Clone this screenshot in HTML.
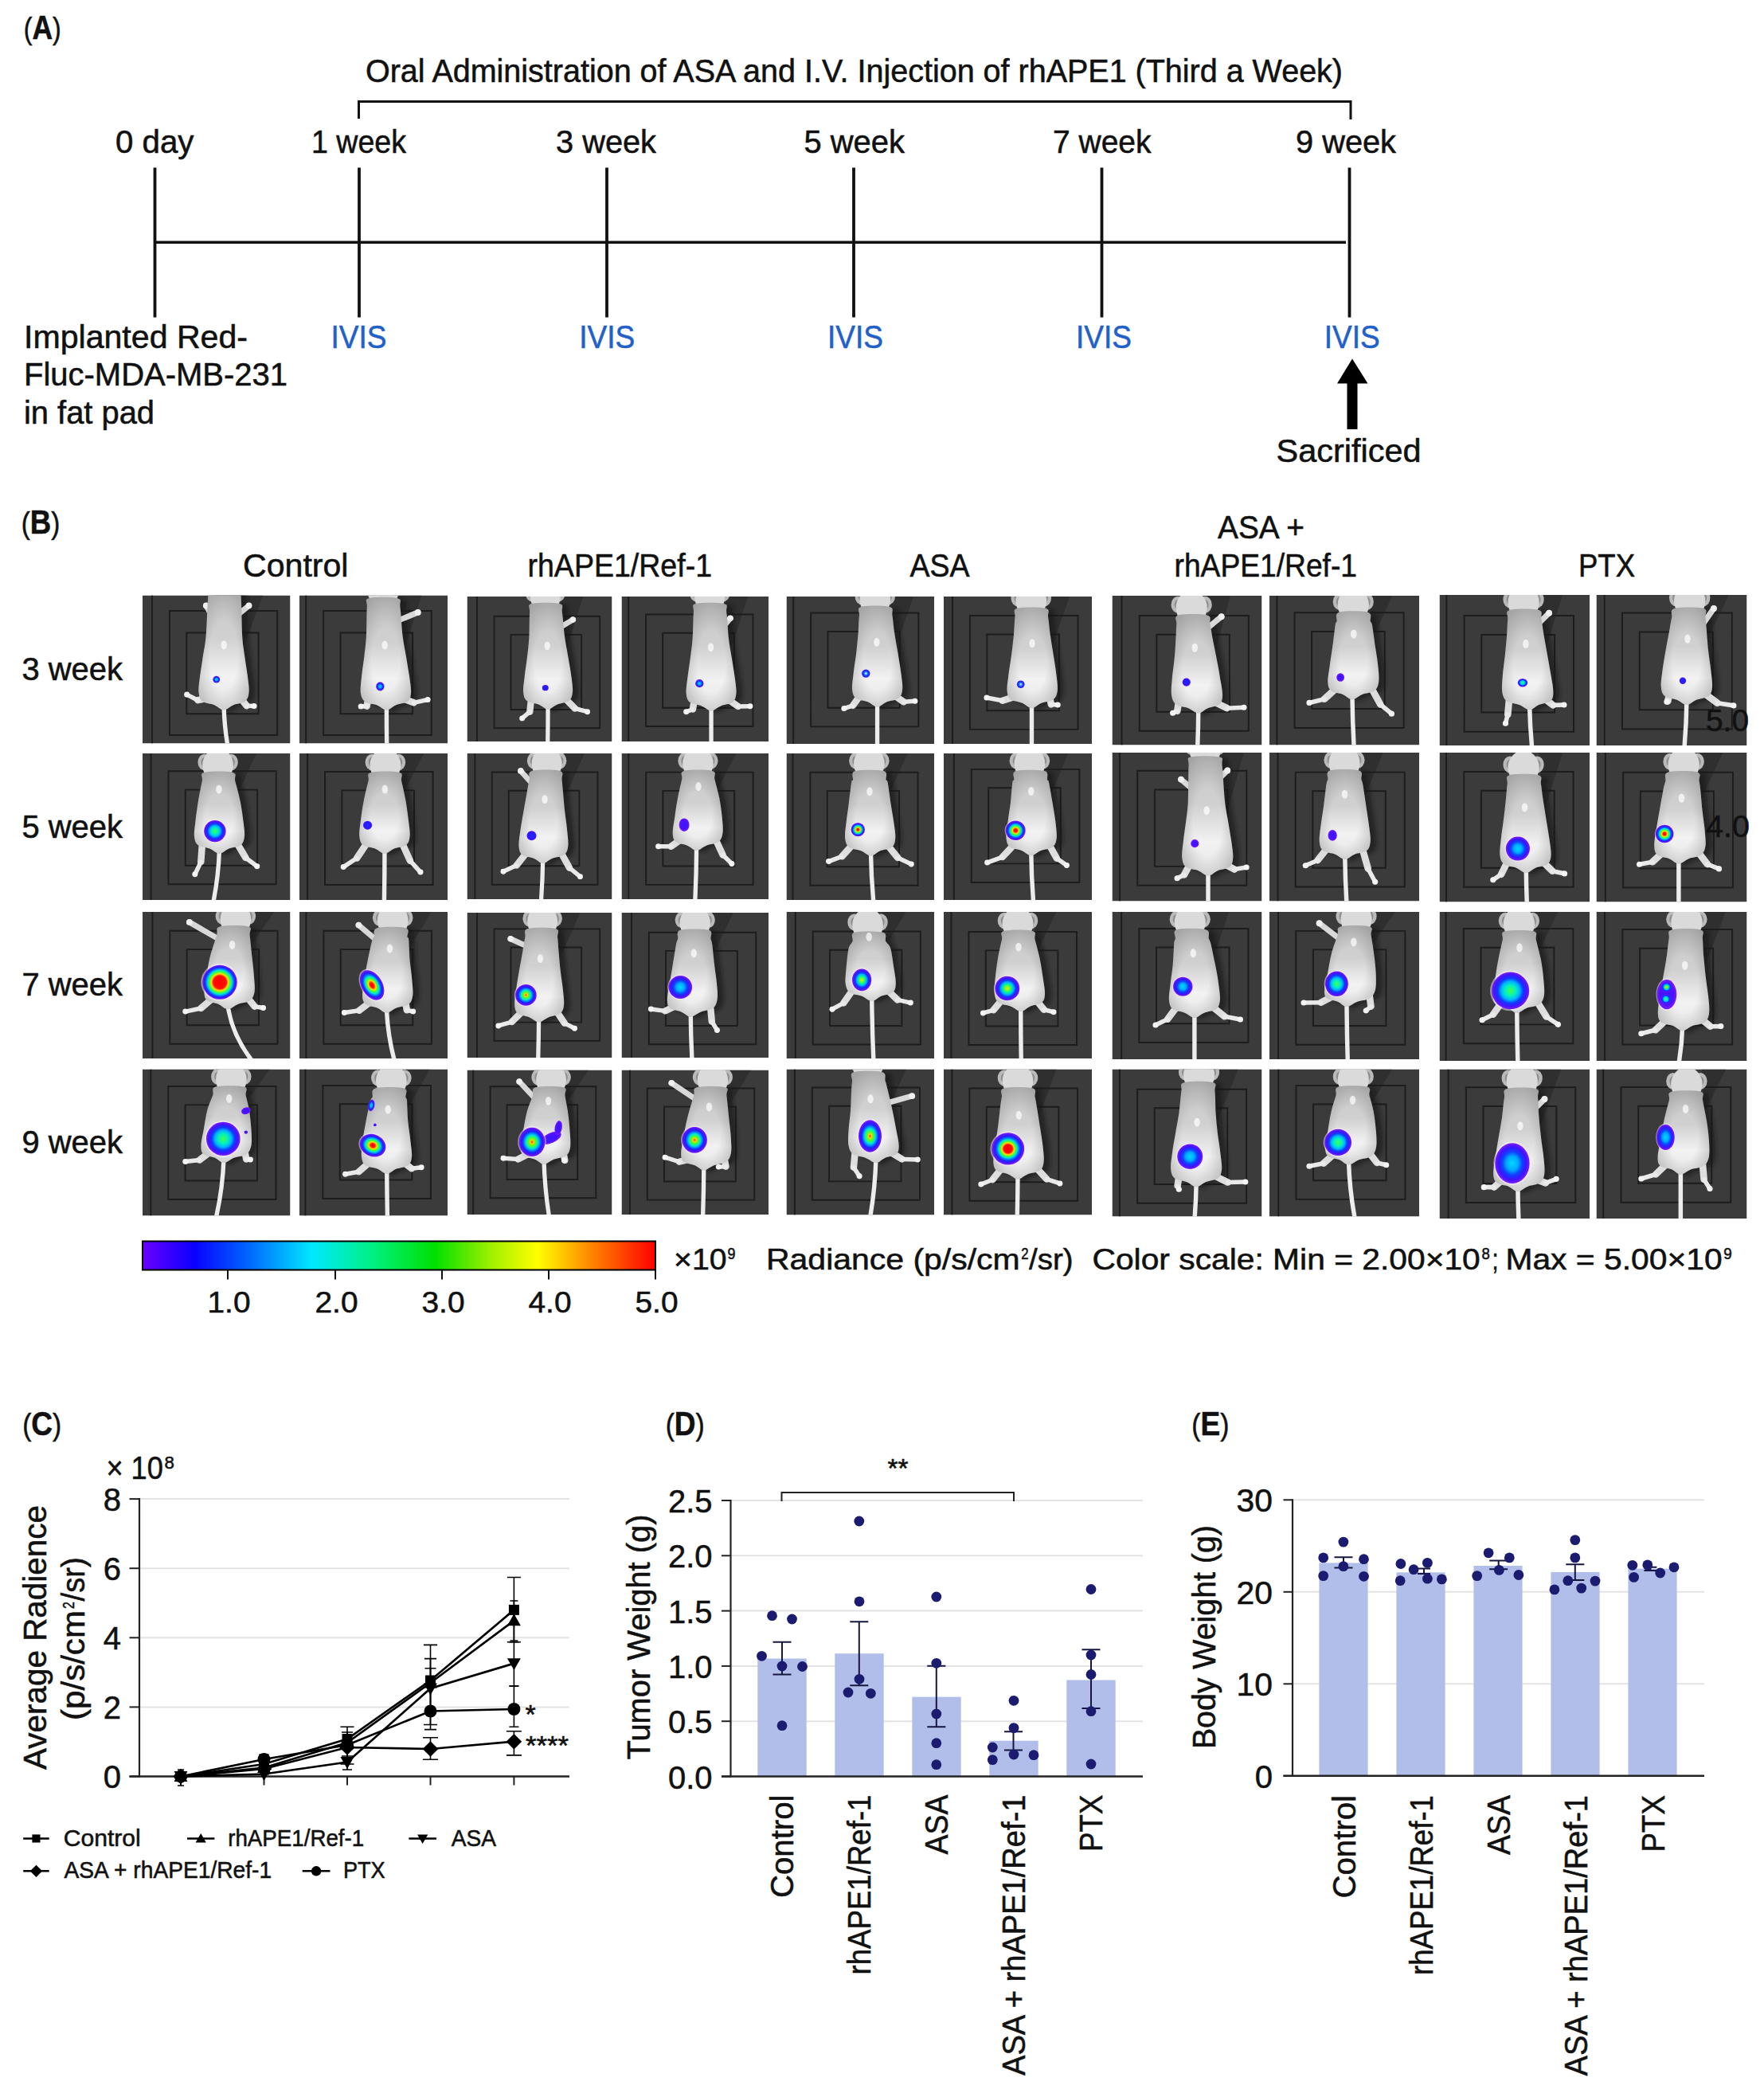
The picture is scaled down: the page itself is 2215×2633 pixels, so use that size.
<!DOCTYPE html><html><head><meta charset="utf-8"><title>Figure</title>
<style>html,body{margin:0;padding:0;background:#fff}svg{display:block}text{font-family:"Liberation Sans",sans-serif;stroke-width:.55px}.t{stroke:#111}</style></head><body>
<svg width="2215" height="2633" viewBox="0 0 2215 2633" fill="#111"><g stroke="none">
<defs><radialGradient id="L1"><stop offset="0" stop-color="#1c2cff"/><stop offset="0.65" stop-color="#2418ff"/><stop offset="1" stop-color="#5a14ff"/></radialGradient><radialGradient id="L1p"><stop offset="0" stop-color="#3a14ff"/><stop offset="0.7" stop-color="#4c12ff"/><stop offset="1" stop-color="#7a1cff"/></radialGradient><radialGradient id="L2"><stop offset="0" stop-color="#00d8ff"/><stop offset="0.35" stop-color="#00a8ff"/><stop offset="0.58" stop-color="#1040ff"/><stop offset="0.8" stop-color="#3a14ff"/><stop offset="1" stop-color="#7a1cff"/></radialGradient><radialGradient id="L2r"><stop offset="0" stop-color="#e8f4ff"/><stop offset="0.3" stop-color="#40b0ff"/><stop offset="0.55" stop-color="#1040ff"/><stop offset="1" stop-color="#3a14ff"/></radialGradient><radialGradient id="L3"><stop offset="0" stop-color="#40ff50"/><stop offset="0.3" stop-color="#00f0c0"/><stop offset="0.5" stop-color="#00b0ff"/><stop offset="0.68" stop-color="#1038ff"/><stop offset="0.86" stop-color="#4414ff"/><stop offset="1" stop-color="#7a1cff"/></radialGradient><radialGradient id="L4"><stop offset="0" stop-color="#ffe000"/><stop offset="0.15" stop-color="#80ff20"/><stop offset="0.36" stop-color="#00f0a0"/><stop offset="0.52" stop-color="#00b0ff"/><stop offset="0.68" stop-color="#1038ff"/><stop offset="0.86" stop-color="#4414ff"/><stop offset="1" stop-color="#7a1cff"/></radialGradient><radialGradient id="L5"><stop offset="0" stop-color="#ff2000"/><stop offset="0.12" stop-color="#ffd000"/><stop offset="0.28" stop-color="#50ff20"/><stop offset="0.46" stop-color="#00e8d0"/><stop offset="0.6" stop-color="#0088ff"/><stop offset="0.74" stop-color="#2020ff"/><stop offset="0.88" stop-color="#4c14ff"/><stop offset="1" stop-color="#7a1cff"/></radialGradient><radialGradient id="L6"><stop offset="0" stop-color="#ff0000"/><stop offset="0.18" stop-color="#ff2000"/><stop offset="0.31" stop-color="#ffe000"/><stop offset="0.44" stop-color="#40ff30"/><stop offset="0.57" stop-color="#00e8d0"/><stop offset="0.69" stop-color="#0078ff"/><stop offset="0.82" stop-color="#2a18ff"/><stop offset="1" stop-color="#7a1cff"/></radialGradient><radialGradient id="L7b"><stop offset="0" stop-color="#ff0000"/><stop offset="0.27" stop-color="#ff1000"/><stop offset="0.37" stop-color="#ffe000"/><stop offset="0.47" stop-color="#40ff30"/><stop offset="0.57" stop-color="#00e8d0"/><stop offset="0.67" stop-color="#0078ff"/><stop offset="0.8" stop-color="#2a18ff"/><stop offset="1" stop-color="#7a1cff"/></radialGradient><radialGradient id="L7"><stop offset="0" stop-color="#ff0000"/><stop offset="0.38" stop-color="#ff1000"/><stop offset="0.49" stop-color="#ffe000"/><stop offset="0.6" stop-color="#40ff30"/><stop offset="0.7" stop-color="#00e8d0"/><stop offset="0.79" stop-color="#0078ff"/><stop offset="0.89" stop-color="#2a18ff"/><stop offset="1" stop-color="#7a1cff"/></radialGradient><linearGradient id="body" x1="0" y1="0" x2="0" y2="1"><stop offset="0" stop-color="#cbcbcb"/><stop offset="0.4" stop-color="#d0d0d0"/><stop offset="0.72" stop-color="#f2f2f2"/><stop offset="1" stop-color="#e6e6e6"/></linearGradient><radialGradient id="edge" cx="0.5" cy="0.55" r="0.62"><stop offset="0.45" stop-color="#000" stop-opacity="0"/><stop offset="1" stop-color="#000" stop-opacity=".2"/></radialGradient><filter id="blur" x="-20%" y="-20%" width="140%" height="140%"><feGaussianBlur stdDeviation="1.3"/></filter><linearGradient id="cbar" x1="0" x2="1" y1="0" y2="0"><stop offset="0" stop-color="#6a00ff"/><stop offset="0.1" stop-color="#0a00ff"/><stop offset="0.2" stop-color="#0060ff"/><stop offset="0.33" stop-color="#00e8ff"/><stop offset="0.45" stop-color="#00f080"/><stop offset="0.57" stop-color="#00e000"/><stop offset="0.68" stop-color="#a0f000"/><stop offset="0.77" stop-color="#ffff00"/><stop offset="0.88" stop-color="#ff8000"/><stop offset="1" stop-color="#ff0000"/></linearGradient></defs>
<rect width="2215" height="2633" fill="#fff"/>
<text x="29.8" y="49.3" font-size="38" class="t" textLength="47" lengthAdjust="spacingAndGlyphs">(<tspan font-weight="bold" font-size="42">A</tspan>)</text>
<text x="459" y="102.5" font-size="40" class="t" textLength="1227" lengthAdjust="spacingAndGlyphs">Oral Administration of ASA and I.V. Injection of rhAPE1 (Third a Week)</text>
<path d="M450.5,149 V127.5 H1696 V150" stroke="#111" stroke-width="3" fill="none"/>
<line x1="194.5" y1="210.5" x2="194.5" y2="398.5" stroke="#111" stroke-width="3.8"/>
<line x1="451" y1="210.5" x2="451" y2="398.5" stroke="#111" stroke-width="3.8"/>
<line x1="762" y1="210.5" x2="762" y2="398.5" stroke="#111" stroke-width="3.8"/>
<line x1="1072" y1="210.5" x2="1072" y2="398.5" stroke="#111" stroke-width="3.8"/>
<line x1="1383.5" y1="210.5" x2="1383.5" y2="398.5" stroke="#111" stroke-width="3.8"/>
<line x1="1694.5" y1="210.5" x2="1694.5" y2="398.5" stroke="#111" stroke-width="3.8"/>
<line x1="193" y1="304.3" x2="1690" y2="304.3" stroke="#111" stroke-width="3.5"/>
<text x="145" y="192" font-size="40" class="t" textLength="98.5" lengthAdjust="spacingAndGlyphs">0 day</text>
<text x="391" y="192" font-size="40" class="t" textLength="119" lengthAdjust="spacingAndGlyphs">1 week</text>
<text x="698" y="192" font-size="40" class="t" textLength="126" lengthAdjust="spacingAndGlyphs">3 week</text>
<text x="1009.5" y="192" font-size="40" class="t" textLength="126.5" lengthAdjust="spacingAndGlyphs">5 week</text>
<text x="1322" y="192" font-size="40" class="t" textLength="123.5" lengthAdjust="spacingAndGlyphs">7 week</text>
<text x="1627" y="192" font-size="40" class="t" textLength="126" lengthAdjust="spacingAndGlyphs">9 week</text>
<text x="450.5" y="437" font-size="40" text-anchor="middle" fill="#1f60c9" stroke="#1f60c9" textLength="70" lengthAdjust="spacingAndGlyphs">IVIS</text>
<text x="762.2" y="437" font-size="40" text-anchor="middle" fill="#1f60c9" stroke="#1f60c9" textLength="70" lengthAdjust="spacingAndGlyphs">IVIS</text>
<text x="1074" y="437" font-size="40" text-anchor="middle" fill="#1f60c9" stroke="#1f60c9" textLength="70" lengthAdjust="spacingAndGlyphs">IVIS</text>
<text x="1386" y="437" font-size="40" text-anchor="middle" fill="#1f60c9" stroke="#1f60c9" textLength="70" lengthAdjust="spacingAndGlyphs">IVIS</text>
<text x="1697.7" y="437" font-size="40" text-anchor="middle" fill="#1f60c9" stroke="#1f60c9" textLength="70" lengthAdjust="spacingAndGlyphs">IVIS</text>
<text x="30" y="436.5" font-size="40" class="t" textLength="281" lengthAdjust="spacingAndGlyphs">Implanted Red-</text>
<text x="30" y="484" font-size="40" class="t" textLength="331" lengthAdjust="spacingAndGlyphs">Fluc-MDA-MB-231</text>
<text x="30" y="531.5" font-size="40" class="t" textLength="164" lengthAdjust="spacingAndGlyphs">in fat pad</text>
<polygon points="1698,450.5 1717.5,481.5 1704.5,481.5 1704.5,539 1691.5,539 1691.5,481.5 1679,481.5" fill="#000"/>
<text x="1602.5" y="580" font-size="40" class="t" textLength="182" lengthAdjust="spacingAndGlyphs">Sacrificed</text>
<text x="26.8" y="669.5" font-size="38" class="t" textLength="48.5" lengthAdjust="spacingAndGlyphs">(<tspan font-weight="bold" font-size="42">B</tspan>)</text>
<text x="305" y="723.5" font-size="40" class="t" textLength="132.5" lengthAdjust="spacingAndGlyphs">Control</text>
<text x="662.5" y="723.5" font-size="40" class="t" textLength="231.5" lengthAdjust="spacingAndGlyphs">rhAPE1/Ref-1</text>
<text x="1142.5" y="723.5" font-size="40" class="t" textLength="75" lengthAdjust="spacingAndGlyphs">ASA</text>
<text x="1529" y="676" font-size="40" class="t" textLength="109" lengthAdjust="spacingAndGlyphs">ASA +</text>
<text x="1474.5" y="723.5" font-size="40" class="t" textLength="229.5" lengthAdjust="spacingAndGlyphs">rhAPE1/Ref-1</text>
<text x="1982" y="723.5" font-size="40" class="t" textLength="71" lengthAdjust="spacingAndGlyphs">PTX</text>
<text x="27.5" y="854" font-size="40" class="t" textLength="126.5" lengthAdjust="spacingAndGlyphs">3 week</text>
<text x="27.5" y="1051.5" font-size="40" class="t" textLength="126.5" lengthAdjust="spacingAndGlyphs">5 week</text>
<text x="27.5" y="1250" font-size="40" class="t" textLength="126.5" lengthAdjust="spacingAndGlyphs">7 week</text>
<text x="27.5" y="1448" font-size="40" class="t" textLength="126.5" lengthAdjust="spacingAndGlyphs">9 week</text>
<svg x="179" y="747.5" width="185.5" height="186.0" viewBox="0 0 100 100" preserveAspectRatio="none"><rect width="100" height="100" fill="#3b3b3b"/><path d="M65.5,0 L81.5,0 L68.0,35.5 Z" fill="#262626" opacity=".55"/><path d="M6.5,0 V100 M18.3,10.5 H91.2 V94.4 H18.3 Z M29.8,25.3 H78.5 V80.0 H29.8 Z" stroke="#1d1d1d" stroke-width="1.05" fill="none"/><path d="M50.1,-3.0 C46.6,-2.0 49.0,-2.2 48.5,3.0 C48.0,8.2 47.7,21.9 47.1,28.5 C46.5,35.1 45.7,38.0 45.0,42.5 C44.4,47.0 43.6,51.5 43.1,55.5 C42.6,59.5 41.9,63.7 42.2,66.5 C42.5,69.3 43.0,71.1 44.7,72.5 C46.5,73.9 50.5,74.1 52.7,75.0 C54.9,75.9 56.5,77.6 57.8,78.1 C59.1,78.6 59.3,78.6 60.6,78.1 C61.9,77.6 63.5,75.9 65.7,75.0 C67.9,74.1 72.0,73.9 73.7,72.5 C75.5,71.1 75.9,69.3 76.2,66.5 C76.5,63.7 75.8,59.5 75.3,55.5 C74.8,51.5 74.0,47.0 73.4,42.5 C72.8,38.0 72.1,35.1 71.7,28.5 C71.3,21.9 71.3,8.2 70.9,3.0 C70.5,-2.2 72.8,-2.0 69.3,-3.0 C65.8,-4.0 53.6,-4.0 50.1,-3.0Z" fill="#121212" opacity=".6" filter="url(#blur)"/><path d="M55.0,74.5 Q55.4,88.8 57.7,102.0" stroke="#ededed" stroke-width="2.9" fill="none"/><path d="M43.5,69.5 L37.4,70.8" stroke="#dedede" stroke-width="4.6" stroke-linecap="round" fill="none"/><path d="M37.4,70.8 L30.0,67.0" stroke="#e9e9e9" stroke-width="3" stroke-linecap="round" fill="none"/><circle cx="30.0" cy="67.0" r="1.9" fill="#f4f4f4"/><path d="M66.5,69.5 L70.5,74.6" stroke="#dedede" stroke-width="4.6" stroke-linecap="round" fill="none"/><path d="M70.5,74.6 L75.5,74.7" stroke="#e9e9e9" stroke-width="3" stroke-linecap="round" fill="none"/><circle cx="75.5" cy="74.7" r="1.9" fill="#f4f4f4"/><path d="M46.5,13.0 L43.0,7.0" stroke="#d8d8d8" stroke-width="3.8" stroke-linecap="round" fill="none"/><circle cx="43.0" cy="7.0" r="2.1" fill="#f0f0f0"/><path d="M64.5,13.0 L72.0,7.0" stroke="#d8d8d8" stroke-width="3.8" stroke-linecap="round" fill="none"/><circle cx="72.0" cy="7.0" r="2.1" fill="#f0f0f0"/><path d="M45.9,-4.0 C42.4,-3.0 44.8,-3.2 44.3,2.0 C43.8,7.2 43.5,20.9 42.9,27.5 C42.3,34.1 41.5,37.0 40.8,41.5 C40.2,46.0 39.4,50.5 38.9,54.5 C38.4,58.5 37.7,62.7 38.0,65.5 C38.3,68.3 38.8,70.1 40.5,71.5 C42.2,72.9 46.3,73.1 48.5,74.0 C50.7,74.9 52.3,76.6 53.6,77.1 C54.9,77.6 55.1,77.6 56.4,77.1 C57.7,76.6 59.3,74.9 61.5,74.0 C63.7,73.1 67.8,72.9 69.5,71.5 C71.2,70.1 71.7,68.3 72.0,65.5 C72.3,62.7 71.6,58.5 71.1,54.5 C70.6,50.5 69.8,46.0 69.2,41.5 C68.6,37.0 67.9,34.1 67.5,27.5 C67.1,20.9 67.1,7.2 66.7,2.0 C66.3,-3.2 68.6,-3.0 65.1,-4.0 C61.6,-5.0 49.4,-5.0 45.9,-4.0Z" fill="url(#body)"/><path d="M45.9,-4.0 C42.4,-3.0 44.8,-3.2 44.3,2.0 C43.8,7.2 43.5,20.9 42.9,27.5 C42.3,34.1 41.5,37.0 40.8,41.5 C40.2,46.0 39.4,50.5 38.9,54.5 C38.4,58.5 37.7,62.7 38.0,65.5 C38.3,68.3 38.8,70.1 40.5,71.5 C42.2,72.9 46.3,73.1 48.5,74.0 C50.7,74.9 52.3,76.6 53.6,77.1 C54.9,77.6 55.1,77.6 56.4,77.1 C57.7,76.6 59.3,74.9 61.5,74.0 C63.7,73.1 67.8,72.9 69.5,71.5 C71.2,70.1 71.7,68.3 72.0,65.5 C72.3,62.7 71.6,58.5 71.1,54.5 C70.6,50.5 69.8,46.0 69.2,41.5 C68.6,37.0 67.9,34.1 67.5,27.5 C67.1,20.9 67.1,7.2 66.7,2.0 C66.3,-3.2 68.6,-3.0 65.1,-4.0 C61.6,-5.0 49.4,-5.0 45.9,-4.0Z" fill="url(#edge)"/><ellipse cx="55.1" cy="33.5" rx="2" ry="3" fill="#fff" opacity=".7"/><ellipse cx="50.0" cy="56.8" rx="2.4" ry="2.4" fill="url(#L2)"/></svg>
<svg x="179" y="946" width="185.5" height="184" viewBox="0 0 100 100" preserveAspectRatio="none"><rect width="100" height="100" fill="#3b3b3b"/><path d="M61.0,0 L77.0,0 L65.0,26.5 Z" fill="#262626" opacity=".55"/><path d="M5.7,0 V100 M17.5,12.1 H90.4 V89.3 H17.5 Z M29.0,24.8 H77.7 V76.5 H29.0 Z" stroke="#1d1d1d" stroke-width="1.05" fill="none"/><path d="M46.0,14.0 C42.5,15.0 45.2,16.8 44.5,20.0 C43.8,23.2 42.6,29.1 41.9,33.5 C41.2,37.9 40.5,42.5 40.1,46.5 C39.7,50.5 38.9,54.7 39.2,57.5 C39.5,60.3 40.0,62.1 41.7,63.5 C43.5,64.9 47.5,65.1 49.7,66.0 C51.9,66.9 53.5,68.6 54.8,69.1 C56.1,69.6 56.3,69.6 57.6,69.1 C58.9,68.6 60.5,66.9 62.7,66.0 C64.9,65.1 69.0,64.9 70.7,63.5 C72.5,62.1 72.9,60.3 73.2,57.5 C73.5,54.7 72.8,50.5 72.3,46.5 C71.8,42.5 71.2,37.9 70.3,33.5 C69.4,29.1 67.8,23.2 66.9,20.0 C66.1,16.8 68.7,15.0 65.2,14.0 C61.7,13.0 49.4,13.0 46.0,14.0Z" fill="#121212" opacity=".6" filter="url(#blur)"/><path d="M52.0,65.5 Q51.4,84.2 47.8,102.0" stroke="#ededed" stroke-width="2.9" fill="none"/><path d="M40.5,60.5 L39.5,74.0" stroke="#dedede" stroke-width="4.6" stroke-linecap="round" fill="none"/><path d="M39.5,74.0 L35.5,82.5" stroke="#e9e9e9" stroke-width="3" stroke-linecap="round" fill="none"/><circle cx="35.5" cy="82.5" r="1.9" fill="#f4f4f4"/><path d="M63.5,60.5 L69.8,71.2" stroke="#dedede" stroke-width="4.6" stroke-linecap="round" fill="none"/><path d="M69.8,71.2 L77.5,77.0" stroke="#e9e9e9" stroke-width="3" stroke-linecap="round" fill="none"/><circle cx="77.5" cy="77.0" r="1.9" fill="#f4f4f4"/><ellipse cx="42.0" cy="6.0" rx="4.6" ry="5.6" fill="#bababa"/><ellipse cx="60.0" cy="6.0" rx="4.6" ry="5.6" fill="#bababa"/><ellipse cx="42.0" cy="6.0" rx="2.4" ry="3.4" fill="#8e8e8e"/><ellipse cx="60.0" cy="6.0" rx="2.4" ry="3.4" fill="#8e8e8e"/><ellipse cx="51.0" cy="8.0" rx="10.4" ry="11.4" fill="#dadada"/><path d="M41.8,13.0 C38.3,14.0 41.0,15.8 40.3,19.0 C39.6,22.2 38.4,28.1 37.7,32.5 C37.0,36.9 36.3,41.5 35.9,45.5 C35.5,49.5 34.7,53.7 35.0,56.5 C35.3,59.3 35.8,61.1 37.5,62.5 C39.2,63.9 43.3,64.1 45.5,65.0 C47.7,65.9 49.3,67.6 50.6,68.1 C51.9,68.6 52.1,68.6 53.4,68.1 C54.7,67.6 56.3,65.9 58.5,65.0 C60.7,64.1 64.8,63.9 66.5,62.5 C68.2,61.1 68.7,59.3 69.0,56.5 C69.3,53.7 68.6,49.5 68.1,45.5 C67.6,41.5 67.0,36.9 66.1,32.5 C65.2,28.1 63.6,22.2 62.7,19.0 C61.9,15.8 64.5,14.0 61.0,13.0 C57.5,12.0 45.2,12.0 41.8,13.0Z" fill="url(#body)"/><path d="M41.8,13.0 C38.3,14.0 41.0,15.8 40.3,19.0 C39.6,22.2 38.4,28.1 37.7,32.5 C37.0,36.9 36.3,41.5 35.9,45.5 C35.5,49.5 34.7,53.7 35.0,56.5 C35.3,59.3 35.8,61.1 37.5,62.5 C39.2,63.9 43.3,64.1 45.5,65.0 C47.7,65.9 49.3,67.6 50.6,68.1 C51.9,68.6 52.1,68.6 53.4,68.1 C54.7,67.6 56.3,65.9 58.5,65.0 C60.7,64.1 64.8,63.9 66.5,62.5 C68.2,61.1 68.7,59.3 69.0,56.5 C69.3,53.7 68.6,49.5 68.1,45.5 C67.6,41.5 67.0,36.9 66.1,32.5 C65.2,28.1 63.6,22.2 62.7,19.0 C61.9,15.8 64.5,14.0 61.0,13.0 C57.5,12.0 45.2,12.0 41.8,13.0Z" fill="url(#edge)"/><ellipse cx="51.7" cy="24.5" rx="2" ry="3" fill="#fff" opacity=".7"/><ellipse cx="49.0" cy="53.0" rx="8.1" ry="8.1" fill="#fbeeff" opacity=".5"/><ellipse cx="49.0" cy="53.0" rx="7.4" ry="7.4" fill="url(#L3)"/></svg>
<svg x="179" y="1145" width="185.5" height="184" viewBox="0 0 100 100" preserveAspectRatio="none"><rect width="100" height="100" fill="#3b3b3b"/><path d="M73.0,0 L89.0,0 L72.5,24.5 Z" fill="#262626" opacity=".55"/><path d="M6.7,0 V100 M18.5,12.9 H91.4 V90.1 H18.5 Z M30.0,25.6 H78.7 V77.3 H30.0 Z" stroke="#1d1d1d" stroke-width="1.05" fill="none"/><path d="M56.6,11.0 C53.0,12.0 55.5,13.6 54.4,17.0 C53.3,20.4 51.1,26.9 49.9,31.5 C48.8,36.1 48.1,40.5 47.4,44.5 C46.8,48.5 45.9,52.7 46.0,55.5 C46.0,58.3 46.3,60.1 47.9,61.5 C49.6,62.9 53.6,63.1 55.7,64.0 C57.8,64.9 59.2,66.6 60.5,67.1 C61.8,67.6 61.9,67.6 63.3,67.1 C64.7,66.6 66.4,64.9 68.7,64.0 C71.0,63.1 75.1,62.9 76.9,61.5 C78.8,60.1 79.5,58.3 80.0,55.5 C80.4,52.7 79.9,48.5 79.6,44.5 C79.4,40.5 78.8,36.1 78.3,31.5 C77.8,26.9 77.2,20.4 76.8,17.0 C76.4,13.6 79.2,12.0 75.8,11.0 C72.4,10.0 60.2,10.0 56.6,11.0Z" fill="#121212" opacity=".6" filter="url(#blur)"/><path d="M57.7,63.5 Q60.1,82.8 73.7,101.0" stroke="#ededed" stroke-width="2.9" fill="none"/><path d="M48.0,58.5 L39.5,65.8" stroke="#dedede" stroke-width="4.6" stroke-linecap="round" fill="none"/><path d="M39.5,65.8 L29.0,68.0" stroke="#e9e9e9" stroke-width="3" stroke-linecap="round" fill="none"/><circle cx="29.0" cy="68.0" r="1.9" fill="#f4f4f4"/><path d="M71.0,58.5 L75.8,64.5" stroke="#dedede" stroke-width="4.6" stroke-linecap="round" fill="none"/><path d="M75.8,64.5 L81.7,65.5" stroke="#e9e9e9" stroke-width="3" stroke-linecap="round" fill="none"/><circle cx="81.7" cy="65.5" r="1.9" fill="#f4f4f4"/><path d="M54.0,20.0 L31.7,7.0" stroke="#d8d8d8" stroke-width="3.8" stroke-linecap="round" fill="none"/><circle cx="31.7" cy="7.0" r="2.1" fill="#f0f0f0"/><ellipse cx="54.0" cy="3.0" rx="4.6" ry="5.6" fill="#bababa"/><ellipse cx="72.0" cy="3.0" rx="4.6" ry="5.6" fill="#bababa"/><ellipse cx="54.0" cy="3.0" rx="2.4" ry="3.4" fill="#8e8e8e"/><ellipse cx="72.0" cy="3.0" rx="2.4" ry="3.4" fill="#8e8e8e"/><ellipse cx="63.0" cy="5.0" rx="10.4" ry="11.4" fill="#dadada"/><path d="M52.4,10.0 C48.8,11.0 51.3,12.6 50.2,16.0 C49.1,19.4 46.9,25.9 45.7,30.5 C44.6,35.1 43.9,39.5 43.2,43.5 C42.6,47.5 41.7,51.7 41.8,54.5 C41.8,57.3 42.1,59.1 43.7,60.5 C45.4,61.9 49.4,62.1 51.5,63.0 C53.6,63.9 55.0,65.6 56.3,66.1 C57.6,66.6 57.7,66.6 59.1,66.1 C60.5,65.6 62.2,63.9 64.5,63.0 C66.8,62.1 70.9,61.9 72.7,60.5 C74.6,59.1 75.3,57.3 75.8,54.5 C76.2,51.7 75.7,47.5 75.4,43.5 C75.2,39.5 74.6,35.1 74.1,30.5 C73.6,25.9 73.0,19.4 72.6,16.0 C72.2,12.6 75.0,11.0 71.6,10.0 C68.2,9.0 56.0,9.0 52.4,10.0Z" fill="url(#body)"/><path d="M52.4,10.0 C48.8,11.0 51.3,12.6 50.2,16.0 C49.1,19.4 46.9,25.9 45.7,30.5 C44.6,35.1 43.9,39.5 43.2,43.5 C42.6,47.5 41.7,51.7 41.8,54.5 C41.8,57.3 42.1,59.1 43.7,60.5 C45.4,61.9 49.4,62.1 51.5,63.0 C53.6,63.9 55.0,65.6 56.3,66.1 C57.6,66.6 57.7,66.6 59.1,66.1 C60.5,65.6 62.2,63.9 64.5,63.0 C66.8,62.1 70.9,61.9 72.7,60.5 C74.6,59.1 75.3,57.3 75.8,54.5 C76.2,51.7 75.7,47.5 75.4,43.5 C75.2,39.5 74.6,35.1 74.1,30.5 C73.6,25.9 73.0,19.4 72.6,16.0 C72.2,12.6 75.0,11.0 71.6,10.0 C68.2,9.0 56.0,9.0 52.4,10.0Z" fill="url(#edge)"/><ellipse cx="60.7" cy="22.5" rx="2" ry="3" fill="#fff" opacity=".7"/><ellipse cx="52.3" cy="48.0" rx="12.8" ry="12.8" fill="#fbeeff" opacity=".5"/><ellipse cx="52.3" cy="48.0" rx="11.7" ry="11.7" fill="url(#L7)"/></svg>
<svg x="179" y="1342.5" width="185.5" height="184.0" viewBox="0 0 100 100" preserveAspectRatio="none"><rect width="100" height="100" fill="#3b3b3b"/><path d="M70.0,0 L86.0,0 L70.7,22.0 Z" fill="#262626" opacity=".55"/><path d="M5.6,0 V100 M17.4,11.7 H90.3 V88.9 H17.4 Z M28.9,24.4 H77.6 V76.1 H28.9 Z" stroke="#1d1d1d" stroke-width="1.05" fill="none"/><path d="M53.7,13.0 C50.2,14.0 52.7,16.3 51.7,19.0 C50.7,21.7 49.0,25.2 48.0,29.0 C47.0,32.8 46.3,38.0 45.6,42.0 C44.9,46.0 43.8,50.2 43.8,53.0 C43.8,55.8 43.9,57.6 45.5,59.0 C47.1,60.4 51.1,60.6 53.1,61.5 C55.2,62.4 56.6,64.1 57.8,64.6 C59.0,65.1 59.2,65.1 60.6,64.6 C62.0,64.1 63.8,62.4 66.1,61.5 C68.4,60.6 72.6,60.4 74.5,59.0 C76.4,57.6 77.2,55.8 77.8,53.0 C78.3,50.2 78.0,46.0 77.8,42.0 C77.5,38.0 77.0,32.8 76.4,29.0 C75.8,25.2 74.7,21.7 74.1,19.0 C73.5,16.3 76.3,14.0 72.9,13.0 C69.5,12.0 57.3,12.0 53.7,13.0Z" fill="#121212" opacity=".6" filter="url(#blur)"/><path d="M55.0,61.0 Q54.2,82.0 49.6,102.0" stroke="#ededed" stroke-width="2.9" fill="none"/><path d="M46.2,56.0 L38.5,62.0" stroke="#dedede" stroke-width="4.6" stroke-linecap="round" fill="none"/><path d="M38.5,62.0 L29.0,63.0" stroke="#e9e9e9" stroke-width="3" stroke-linecap="round" fill="none"/><circle cx="29.0" cy="63.0" r="1.9" fill="#f4f4f4"/><path d="M69.2,56.0 L70.2,61.4" stroke="#dedede" stroke-width="4.6" stroke-linecap="round" fill="none"/><path d="M70.2,61.4 L73.0,61.7" stroke="#e9e9e9" stroke-width="3" stroke-linecap="round" fill="none"/><circle cx="73.0" cy="61.7" r="1.9" fill="#f4f4f4"/><ellipse cx="51.0" cy="5.0" rx="4.6" ry="5.6" fill="#bababa"/><ellipse cx="69.0" cy="5.0" rx="4.6" ry="5.6" fill="#bababa"/><ellipse cx="51.0" cy="5.0" rx="2.4" ry="3.4" fill="#8e8e8e"/><ellipse cx="69.0" cy="5.0" rx="2.4" ry="3.4" fill="#8e8e8e"/><ellipse cx="60.0" cy="7.0" rx="10.4" ry="11.4" fill="#dadada"/><path d="M49.5,12.0 C46.0,13.0 48.5,15.3 47.5,18.0 C46.5,20.7 44.8,24.2 43.8,28.0 C42.8,31.8 42.1,37.0 41.4,41.0 C40.7,45.0 39.6,49.2 39.6,52.0 C39.6,54.8 39.7,56.6 41.3,58.0 C42.9,59.4 46.9,59.6 48.9,60.5 C51.0,61.4 52.4,63.1 53.6,63.6 C54.8,64.1 55.0,64.1 56.4,63.6 C57.8,63.1 59.6,61.4 61.9,60.5 C64.2,59.6 68.4,59.4 70.3,58.0 C72.2,56.6 73.0,54.8 73.6,52.0 C74.1,49.2 73.8,45.0 73.6,41.0 C73.3,37.0 72.8,31.8 72.2,28.0 C71.6,24.2 70.5,20.7 69.9,18.0 C69.3,15.3 72.1,13.0 68.7,12.0 C65.3,11.0 53.1,11.0 49.5,12.0Z" fill="url(#body)"/><path d="M49.5,12.0 C46.0,13.0 48.5,15.3 47.5,18.0 C46.5,20.7 44.8,24.2 43.8,28.0 C42.8,31.8 42.1,37.0 41.4,41.0 C40.7,45.0 39.6,49.2 39.6,52.0 C39.6,54.8 39.7,56.6 41.3,58.0 C42.9,59.4 46.9,59.6 48.9,60.5 C51.0,61.4 52.4,63.1 53.6,63.6 C54.8,64.1 55.0,64.1 56.4,63.6 C57.8,63.1 59.6,61.4 61.9,60.5 C64.2,59.6 68.4,59.4 70.3,58.0 C72.2,56.6 73.0,54.8 73.6,52.0 C74.1,49.2 73.8,45.0 73.6,41.0 C73.3,37.0 72.8,31.8 72.2,28.0 C71.6,24.2 70.5,20.7 69.9,18.0 C69.3,15.3 72.1,13.0 68.7,12.0 C65.3,11.0 53.1,11.0 49.5,12.0Z" fill="url(#edge)"/><ellipse cx="58.6" cy="20.0" rx="2" ry="3" fill="#fff" opacity=".7"/><ellipse cx="54.6" cy="47.5" rx="12.5" ry="12.5" fill="#fbeeff" opacity=".5"/><ellipse cx="54.6" cy="47.5" rx="11.5" ry="11.5" fill="url(#L3)"/><ellipse cx="70.0" cy="28.4" rx="3.2" ry="2.3" fill="url(#L1p)" transform="rotate(-20 70.0 28.4)"/><ellipse cx="70.0" cy="43.0" rx="1.2" ry="1.2" fill="url(#L1p)"/></svg>
<svg x="376" y="747.5" width="186" height="186.0" viewBox="0 0 100 100" preserveAspectRatio="none"><rect width="100" height="100" fill="#3b3b3b"/><path d="M66.5,0 L82.5,0 L71.0,35.6 Z" fill="#262626" opacity=".55"/><path d="M4.4,0 V100 M16.2,10.5 H89.1 V94.4 H16.2 Z M27.7,25.3 H76.4 V80.0 H27.7 Z" stroke="#1d1d1d" stroke-width="1.05" fill="none"/><path d="M51.2,3.0 C47.7,4.0 50.1,4.7 49.8,9.0 C49.5,13.3 49.6,23.0 49.3,28.6 C49.0,34.2 48.4,38.1 47.9,42.6 C47.3,47.1 46.6,51.6 46.2,55.6 C45.8,59.6 45.2,63.8 45.5,66.6 C45.9,69.4 46.5,71.2 48.3,72.6 C50.1,74.0 54.2,74.2 56.4,75.1 C58.6,76.0 60.3,77.7 61.6,78.2 C62.9,78.7 63.1,78.7 64.4,78.2 C65.7,77.7 67.2,76.0 69.4,75.1 C71.5,74.2 75.6,74.0 77.3,72.6 C79.0,71.2 79.3,69.4 79.5,66.6 C79.7,63.8 78.9,59.6 78.4,55.6 C77.8,51.6 77.0,47.1 76.3,42.6 C75.5,38.1 74.6,34.2 73.9,28.6 C73.2,23.0 72.8,13.3 72.2,9.0 C71.6,4.7 73.9,4.0 70.4,3.0 C66.9,2.0 54.6,2.0 51.2,3.0Z" fill="#121212" opacity=".6" filter="url(#blur)"/><path d="M58.8,74.6 Q58.8,88.8 59.0,102.0" stroke="#ededed" stroke-width="2.9" fill="none"/><path d="M46.5,69.6 L45.5,74.8" stroke="#dedede" stroke-width="4.6" stroke-linecap="round" fill="none"/><path d="M45.5,74.8 L41.5,75.0" stroke="#e9e9e9" stroke-width="3" stroke-linecap="round" fill="none"/><circle cx="41.5" cy="75.0" r="1.9" fill="#f4f4f4"/><path d="M69.5,69.6 L77.2,72.5" stroke="#dedede" stroke-width="4.6" stroke-linecap="round" fill="none"/><path d="M77.2,72.5 L86.6,70.4" stroke="#e9e9e9" stroke-width="3" stroke-linecap="round" fill="none"/><circle cx="86.6" cy="70.4" r="1.9" fill="#f4f4f4"/><path d="M65.5,17.5 L80.0,11.5" stroke="#d8d8d8" stroke-width="3.8" stroke-linecap="round" fill="none"/><circle cx="80.0" cy="11.5" r="2.1" fill="#f0f0f0"/><ellipse cx="47.5" cy="-5.0" rx="4.6" ry="5.6" fill="#bababa"/><ellipse cx="65.5" cy="-5.0" rx="4.6" ry="5.6" fill="#bababa"/><ellipse cx="47.5" cy="-5.0" rx="2.4" ry="3.4" fill="#8e8e8e"/><ellipse cx="65.5" cy="-5.0" rx="2.4" ry="3.4" fill="#8e8e8e"/><ellipse cx="56.5" cy="-3.0" rx="10.4" ry="11.4" fill="#dadada"/><path d="M47.0,2.0 C43.5,3.0 45.9,3.7 45.6,8.0 C45.3,12.3 45.4,22.0 45.1,27.6 C44.8,33.2 44.2,37.1 43.7,41.6 C43.1,46.1 42.4,50.6 42.0,54.6 C41.6,58.6 41.0,62.8 41.3,65.6 C41.7,68.4 42.3,70.2 44.1,71.6 C45.9,73.0 50.0,73.2 52.2,74.1 C54.4,75.0 56.1,76.7 57.4,77.2 C58.7,77.7 58.9,77.7 60.2,77.2 C61.5,76.7 63.0,75.0 65.2,74.1 C67.3,73.2 71.4,73.0 73.1,71.6 C74.8,70.2 75.1,68.4 75.3,65.6 C75.5,62.8 74.7,58.6 74.2,54.6 C73.6,50.6 72.8,46.1 72.1,41.6 C71.3,37.1 70.4,33.2 69.7,27.6 C69.0,22.0 68.6,12.3 68.0,8.0 C67.4,3.7 69.7,3.0 66.2,2.0 C62.7,1.0 50.4,1.0 47.0,2.0Z" fill="url(#body)"/><path d="M47.0,2.0 C43.5,3.0 45.9,3.7 45.6,8.0 C45.3,12.3 45.4,22.0 45.1,27.6 C44.8,33.2 44.2,37.1 43.7,41.6 C43.1,46.1 42.4,50.6 42.0,54.6 C41.6,58.6 41.0,62.8 41.3,65.6 C41.7,68.4 42.3,70.2 44.1,71.6 C45.9,73.0 50.0,73.2 52.2,74.1 C54.4,75.0 56.1,76.7 57.4,77.2 C58.7,77.7 58.9,77.7 60.2,77.2 C61.5,76.7 63.0,75.0 65.2,74.1 C67.3,73.2 71.4,73.0 73.1,71.6 C74.8,70.2 75.1,68.4 75.3,65.6 C75.5,62.8 74.7,58.6 74.2,54.6 C73.6,50.6 72.8,46.1 72.1,41.6 C71.3,37.1 70.4,33.2 69.7,27.6 C69.0,22.0 68.6,12.3 68.0,8.0 C67.4,3.7 69.7,3.0 66.2,2.0 C62.7,1.0 50.4,1.0 47.0,2.0Z" fill="url(#edge)"/><ellipse cx="57.6" cy="33.6" rx="2" ry="3" fill="#fff" opacity=".7"/><ellipse cx="54.5" cy="61.5" rx="2.8" ry="3.0" fill="url(#L2)"/></svg>
<svg x="376" y="946" width="186" height="184" viewBox="0 0 100 100" preserveAspectRatio="none"><rect width="100" height="100" fill="#3b3b3b"/><path d="M68.0,0 L84.0,0 L70.5,26.5 Z" fill="#262626" opacity=".55"/><path d="M5.4,0 V100 M17.2,12.5 H90.1 V89.7 H17.2 Z M28.7,25.2 H77.4 V76.9 H28.7 Z" stroke="#1d1d1d" stroke-width="1.05" fill="none"/><path d="M52.4,14.0 C48.9,15.0 51.6,16.8 50.7,20.0 C49.9,23.2 48.4,29.1 47.6,33.5 C46.7,37.9 46.1,42.5 45.6,46.5 C45.1,50.5 44.4,54.7 44.7,57.5 C45.0,60.3 45.5,62.1 47.2,63.5 C49.0,64.9 53.0,65.1 55.2,66.0 C57.4,66.9 59.0,68.6 60.3,69.1 C61.6,69.6 61.8,69.6 63.1,69.1 C64.4,68.6 66.0,66.9 68.2,66.0 C70.4,65.1 74.5,64.9 76.2,63.5 C78.0,62.1 78.4,60.3 78.7,57.5 C79.0,54.7 78.3,50.5 77.8,46.5 C77.3,42.5 76.7,37.9 76.0,33.5 C75.2,29.1 73.9,23.2 73.1,20.0 C72.4,16.8 75.1,15.0 71.6,14.0 C68.2,13.0 55.9,13.0 52.4,14.0Z" fill="#121212" opacity=".6" filter="url(#blur)"/><path d="M57.5,65.5 Q57.5,84.2 57.2,102.0" stroke="#ededed" stroke-width="2.9" fill="none"/><path d="M46.0,60.5 L38.7,71.5" stroke="#dedede" stroke-width="4.6" stroke-linecap="round" fill="none"/><path d="M38.7,71.5 L29.7,77.5" stroke="#e9e9e9" stroke-width="3" stroke-linecap="round" fill="none"/><circle cx="29.7" cy="77.5" r="1.9" fill="#f4f4f4"/><path d="M69.0,60.5 L74.7,73.2" stroke="#dedede" stroke-width="4.6" stroke-linecap="round" fill="none"/><path d="M74.7,73.2 L81.7,81.0" stroke="#e9e9e9" stroke-width="3" stroke-linecap="round" fill="none"/><circle cx="81.7" cy="81.0" r="1.9" fill="#f4f4f4"/><ellipse cx="49.0" cy="6.0" rx="4.6" ry="5.6" fill="#bababa"/><ellipse cx="67.0" cy="6.0" rx="4.6" ry="5.6" fill="#bababa"/><ellipse cx="49.0" cy="6.0" rx="2.4" ry="3.4" fill="#8e8e8e"/><ellipse cx="67.0" cy="6.0" rx="2.4" ry="3.4" fill="#8e8e8e"/><ellipse cx="58.0" cy="8.0" rx="10.4" ry="11.4" fill="#dadada"/><path d="M48.2,13.0 C44.7,14.0 47.4,15.8 46.5,19.0 C45.7,22.2 44.2,28.1 43.4,32.5 C42.5,36.9 41.9,41.5 41.4,45.5 C40.9,49.5 40.2,53.7 40.5,56.5 C40.8,59.3 41.2,61.1 43.0,62.5 C44.8,63.9 48.8,64.1 51.0,65.0 C53.2,65.9 54.8,67.6 56.1,68.1 C57.4,68.6 57.6,68.6 58.9,68.1 C60.2,67.6 61.8,65.9 64.0,65.0 C66.2,64.1 70.2,63.9 72.0,62.5 C73.8,61.1 74.2,59.3 74.5,56.5 C74.8,53.7 74.1,49.5 73.6,45.5 C73.1,41.5 72.5,36.9 71.8,32.5 C71.0,28.1 69.7,22.2 68.9,19.0 C68.2,15.8 70.9,14.0 67.4,13.0 C64.0,12.0 51.7,12.0 48.2,13.0Z" fill="url(#body)"/><path d="M48.2,13.0 C44.7,14.0 47.4,15.8 46.5,19.0 C45.7,22.2 44.2,28.1 43.4,32.5 C42.5,36.9 41.9,41.5 41.4,45.5 C40.9,49.5 40.2,53.7 40.5,56.5 C40.8,59.3 41.2,61.1 43.0,62.5 C44.8,63.9 48.8,64.1 51.0,65.0 C53.2,65.9 54.8,67.6 56.1,68.1 C57.4,68.6 57.6,68.6 58.9,68.1 C60.2,67.6 61.8,65.9 64.0,65.0 C66.2,64.1 70.2,63.9 72.0,62.5 C73.8,61.1 74.2,59.3 74.5,56.5 C74.8,53.7 74.1,49.5 73.6,45.5 C73.1,41.5 72.5,36.9 71.8,32.5 C71.0,28.1 69.7,22.2 68.9,19.0 C68.2,15.8 70.9,14.0 67.4,13.0 C64.0,12.0 51.7,12.0 48.2,13.0Z" fill="url(#edge)"/><ellipse cx="57.7" cy="24.5" rx="2" ry="3" fill="#fff" opacity=".7"/><ellipse cx="46.0" cy="49.0" rx="3.0" ry="3.0" fill="url(#L1)"/></svg>
<svg x="376" y="1145" width="186" height="184" viewBox="0 0 100 100" preserveAspectRatio="none"><rect width="100" height="100" fill="#3b3b3b"/><path d="M73.0,0 L89.0,0 L73.0,27.0 Z" fill="#262626" opacity=".55"/><path d="M4.5,0 V100 M16.3,12.9 H89.2 V90.1 H16.3 Z M27.8,25.6 H76.5 V77.3 H27.8 Z" stroke="#1d1d1d" stroke-width="1.05" fill="none"/><path d="M56.7,12.0 C53.2,13.0 55.2,16.7 54.6,18.0 C54.1,19.3 54.1,17.3 53.4,20.0 C52.6,22.7 51.2,29.5 50.3,34.0 C49.4,38.5 48.6,43.0 48.0,47.0 C47.4,51.0 46.6,55.2 46.7,58.0 C46.8,60.8 47.2,62.6 48.9,64.0 C50.5,65.4 54.6,65.6 56.7,66.5 C58.8,67.4 60.3,69.1 61.6,69.6 C62.9,70.1 63.1,70.1 64.4,69.6 C65.7,69.1 67.4,67.4 69.7,66.5 C71.9,65.6 76.0,65.4 77.9,64.0 C79.7,62.6 80.3,60.8 80.7,58.0 C81.1,55.2 80.5,51.0 80.2,47.0 C79.9,43.0 79.1,38.5 78.7,34.0 C78.4,29.5 78.2,22.7 78.0,20.0 C77.7,17.3 77.4,19.3 77.0,18.0 C76.7,16.7 79.3,13.0 75.9,12.0 C72.5,11.0 60.3,11.0 56.7,12.0Z" fill="#121212" opacity=".6" filter="url(#blur)"/><path d="M58.8,66.0 Q59.6,84.5 64.3,102.0" stroke="#ededed" stroke-width="2.9" fill="none"/><path d="M48.5,61.0 L40.3,67.3" stroke="#dedede" stroke-width="4.6" stroke-linecap="round" fill="none"/><path d="M40.3,67.3 L30.3,68.7" stroke="#e9e9e9" stroke-width="3" stroke-linecap="round" fill="none"/><circle cx="30.3" cy="68.7" r="1.9" fill="#f4f4f4"/><path d="M71.5,61.0 L72.5,67.0" stroke="#dedede" stroke-width="4.6" stroke-linecap="round" fill="none"/><path d="M72.5,67.0 L76.7,68.0" stroke="#e9e9e9" stroke-width="3" stroke-linecap="round" fill="none"/><circle cx="76.7" cy="68.0" r="1.9" fill="#f4f4f4"/><path d="M54.0,21.0 L40.0,9.0" stroke="#d8d8d8" stroke-width="3.8" stroke-linecap="round" fill="none"/><circle cx="40.0" cy="9.0" r="2.1" fill="#f0f0f0"/><ellipse cx="54.0" cy="4.0" rx="4.6" ry="5.6" fill="#bababa"/><ellipse cx="72.0" cy="4.0" rx="4.6" ry="5.6" fill="#bababa"/><ellipse cx="54.0" cy="4.0" rx="2.4" ry="3.4" fill="#8e8e8e"/><ellipse cx="72.0" cy="4.0" rx="2.4" ry="3.4" fill="#8e8e8e"/><ellipse cx="63.0" cy="6.0" rx="10.4" ry="11.4" fill="#dadada"/><path d="M52.5,11.0 C49.0,12.0 51.0,15.7 50.4,17.0 C49.9,18.3 49.9,16.3 49.2,19.0 C48.4,21.7 47.0,28.5 46.1,33.0 C45.2,37.5 44.4,42.0 43.8,46.0 C43.2,50.0 42.4,54.2 42.5,57.0 C42.6,59.8 43.0,61.6 44.7,63.0 C46.3,64.4 50.4,64.6 52.5,65.5 C54.6,66.4 56.1,68.1 57.4,68.6 C58.7,69.1 58.9,69.1 60.2,68.6 C61.5,68.1 63.2,66.4 65.5,65.5 C67.7,64.6 71.8,64.4 73.7,63.0 C75.5,61.6 76.1,59.8 76.5,57.0 C76.9,54.2 76.3,50.0 76.0,46.0 C75.7,42.0 74.9,37.5 74.5,33.0 C74.2,28.5 74.0,21.7 73.8,19.0 C73.5,16.3 73.2,18.3 72.8,17.0 C72.5,15.7 75.1,12.0 71.7,11.0 C68.3,10.0 56.1,10.0 52.5,11.0Z" fill="url(#body)"/><path d="M52.5,11.0 C49.0,12.0 51.0,15.7 50.4,17.0 C49.9,18.3 49.9,16.3 49.2,19.0 C48.4,21.7 47.0,28.5 46.1,33.0 C45.2,37.5 44.4,42.0 43.8,46.0 C43.2,50.0 42.4,54.2 42.5,57.0 C42.6,59.8 43.0,61.6 44.7,63.0 C46.3,64.4 50.4,64.6 52.5,65.5 C54.6,66.4 56.1,68.1 57.4,68.6 C58.7,69.1 58.9,69.1 60.2,68.6 C61.5,68.1 63.2,66.4 65.5,65.5 C67.7,64.6 71.8,64.4 73.7,63.0 C75.5,61.6 76.1,59.8 76.5,57.0 C76.9,54.2 76.3,50.0 76.0,46.0 C75.7,42.0 74.9,37.5 74.5,33.0 C74.2,28.5 74.0,21.7 73.8,19.0 C73.5,16.3 73.2,18.3 72.8,17.0 C72.5,15.7 75.1,12.0 71.7,11.0 C68.3,10.0 56.1,10.0 52.5,11.0Z" fill="url(#edge)"/><ellipse cx="61.0" cy="25.0" rx="2" ry="3" fill="#fff" opacity=".7"/><ellipse cx="49.0" cy="50.0" rx="7.6" ry="12.0" fill="#fbeeff" opacity=".5" transform="rotate(-30 49.0 50.0)"/><ellipse cx="49.0" cy="50.0" rx="7.0" ry="11.0" fill="url(#L6)" transform="rotate(-30 49.0 50.0)"/></svg>
<svg x="376" y="1342.5" width="186" height="184.0" viewBox="0 0 100 100" preserveAspectRatio="none"><rect width="100" height="100" fill="#3b3b3b"/><path d="M72.0,0 L88.0,0 L71.8,29.5 Z" fill="#262626" opacity=".55"/><path d="M4.0,0 V100 M15.8,11.1 H88.7 V88.3 H15.8 Z M27.3,23.8 H76.0 V75.5 H27.3 Z" stroke="#1d1d1d" stroke-width="1.05" fill="none"/><path d="M55.5,14.0 C52.0,15.0 54.0,18.6 53.5,20.0 C52.9,21.4 52.9,19.8 52.2,22.5 C51.4,25.2 50.0,32.0 49.1,36.5 C48.3,41.0 47.4,45.5 46.9,49.5 C46.4,53.5 45.8,57.7 46.1,60.5 C46.4,63.3 46.9,65.1 48.6,66.5 C50.4,67.9 54.5,68.1 56.7,69.0 C58.9,69.9 60.5,71.6 61.8,72.1 C63.1,72.6 63.3,72.6 64.6,72.1 C65.9,71.6 67.5,69.9 69.7,69.0 C71.8,68.1 75.9,67.9 77.6,66.5 C79.4,65.1 79.8,63.3 80.1,60.5 C80.3,57.7 79.5,53.5 79.1,49.5 C78.7,45.5 77.9,41.0 77.5,36.5 C77.1,32.0 77.0,25.2 76.8,22.5 C76.5,19.8 76.2,21.4 75.9,20.0 C75.5,18.6 78.1,15.0 74.7,14.0 C71.4,13.0 59.1,13.0 55.5,14.0Z" fill="#121212" opacity=".6" filter="url(#blur)"/><path d="M59.0,68.5 Q59.1,85.8 59.4,102.0" stroke="#ededed" stroke-width="2.9" fill="none"/><path d="M47.3,63.5 L40.0,70.0" stroke="#dedede" stroke-width="4.6" stroke-linecap="round" fill="none"/><path d="M40.0,70.0 L31.0,71.6" stroke="#e9e9e9" stroke-width="3" stroke-linecap="round" fill="none"/><circle cx="31.0" cy="71.6" r="1.9" fill="#f4f4f4"/><path d="M70.3,63.5 L75.7,67.8" stroke="#dedede" stroke-width="4.6" stroke-linecap="round" fill="none"/><path d="M75.7,67.8 L82.3,67.0" stroke="#e9e9e9" stroke-width="3" stroke-linecap="round" fill="none"/><circle cx="82.3" cy="67.0" r="1.9" fill="#f4f4f4"/><ellipse cx="53.0" cy="6.0" rx="4.6" ry="5.6" fill="#bababa"/><ellipse cx="71.0" cy="6.0" rx="4.6" ry="5.6" fill="#bababa"/><ellipse cx="53.0" cy="6.0" rx="2.4" ry="3.4" fill="#8e8e8e"/><ellipse cx="71.0" cy="6.0" rx="2.4" ry="3.4" fill="#8e8e8e"/><ellipse cx="62.0" cy="8.0" rx="10.4" ry="11.4" fill="#dadada"/><path d="M51.3,13.0 C47.8,14.0 49.8,17.6 49.3,19.0 C48.7,20.4 48.7,18.8 48.0,21.5 C47.2,24.2 45.8,31.0 44.9,35.5 C44.1,40.0 43.2,44.5 42.7,48.5 C42.2,52.5 41.6,56.7 41.9,59.5 C42.2,62.3 42.7,64.1 44.4,65.5 C46.2,66.9 50.3,67.1 52.5,68.0 C54.7,68.9 56.3,70.6 57.6,71.1 C58.9,71.6 59.1,71.6 60.4,71.1 C61.7,70.6 63.3,68.9 65.5,68.0 C67.6,67.1 71.7,66.9 73.4,65.5 C75.2,64.1 75.6,62.3 75.9,59.5 C76.1,56.7 75.3,52.5 74.9,48.5 C74.5,44.5 73.7,40.0 73.3,35.5 C72.9,31.0 72.8,24.2 72.6,21.5 C72.3,18.8 72.0,20.4 71.7,19.0 C71.3,17.6 73.9,14.0 70.5,13.0 C67.2,12.0 54.9,12.0 51.3,13.0Z" fill="url(#body)"/><path d="M51.3,13.0 C47.8,14.0 49.8,17.6 49.3,19.0 C48.7,20.4 48.7,18.8 48.0,21.5 C47.2,24.2 45.8,31.0 44.9,35.5 C44.1,40.0 43.2,44.5 42.7,48.5 C42.2,52.5 41.6,56.7 41.9,59.5 C42.2,62.3 42.7,64.1 44.4,65.5 C46.2,66.9 50.3,67.1 52.5,68.0 C54.7,68.9 56.3,70.6 57.6,71.1 C58.9,71.6 59.1,71.6 60.4,71.1 C61.7,70.6 63.3,68.9 65.5,68.0 C67.6,67.1 71.7,66.9 73.4,65.5 C75.2,64.1 75.6,62.3 75.9,59.5 C76.1,56.7 75.3,52.5 74.9,48.5 C74.5,44.5 73.7,40.0 73.3,35.5 C72.9,31.0 72.8,24.2 72.6,21.5 C72.3,18.8 72.0,20.4 71.7,19.0 C71.3,17.6 73.9,14.0 70.5,13.0 C67.2,12.0 54.9,12.0 51.3,13.0Z" fill="url(#edge)"/><ellipse cx="59.8" cy="27.5" rx="2" ry="3" fill="#fff" opacity=".7"/><ellipse cx="49.5" cy="52.0" rx="9.8" ry="8.2" fill="#fbeeff" opacity=".5" transform="rotate(25 49.5 52.0)"/><ellipse cx="49.5" cy="52.0" rx="9.0" ry="7.5" fill="url(#L6)" transform="rotate(25 49.5 52.0)"/><ellipse cx="48.5" cy="24.7" rx="2.2" ry="4.0" fill="url(#L2)" transform="rotate(10 48.5 24.7)"/><ellipse cx="51.0" cy="38.0" rx="1.0" ry="1.0" fill="url(#L1p)"/></svg>
<svg x="586.5" y="749" width="182.0" height="182" viewBox="0 0 100 100" preserveAspectRatio="none"><rect width="100" height="100" fill="#3b3b3b"/><path d="M64.0,0 L80.0,0 L68.8,36.0 Z" fill="#262626" opacity=".55"/><path d="M6.9,0 V100 M18.7,13.6 H91.6 V90.8 H18.7 Z M30.2,26.3 H78.9 V78.0 H30.2 Z" stroke="#1d1d1d" stroke-width="1.05" fill="none"/><path d="M48.8,6.0 C45.4,7.0 47.7,8.2 47.4,12.0 C47.1,15.8 47.3,23.8 47.0,29.0 C46.7,34.2 46.2,38.5 45.6,43.0 C45.1,47.5 44.3,52.0 43.9,56.0 C43.5,60.0 42.7,64.2 43.0,67.0 C43.3,69.8 43.8,71.6 45.5,73.0 C47.2,74.4 51.3,74.6 53.5,75.5 C55.7,76.4 57.3,78.1 58.6,78.6 C59.9,79.1 60.1,79.1 61.4,78.6 C62.7,78.1 64.3,76.4 66.5,75.5 C68.7,74.6 72.8,74.4 74.5,73.0 C76.2,71.6 76.7,69.8 77.0,67.0 C77.3,64.2 76.6,60.0 76.1,56.0 C75.6,52.0 74.8,47.5 74.0,43.0 C73.3,38.5 72.3,34.2 71.6,29.0 C70.9,23.8 70.4,15.8 69.8,12.0 C69.2,8.2 71.5,7.0 68.0,6.0 C64.5,5.0 52.2,5.0 48.8,6.0Z" fill="#121212" opacity=".6" filter="url(#blur)"/><path d="M55.8,75.0 Q55.8,89.0 55.6,102.0" stroke="#ededed" stroke-width="2.9" fill="none"/><path d="M44.3,70.0 L43.3,79.5" stroke="#dedede" stroke-width="4.6" stroke-linecap="round" fill="none"/><path d="M43.3,79.5 L38.0,84.0" stroke="#e9e9e9" stroke-width="3" stroke-linecap="round" fill="none"/><circle cx="38.0" cy="84.0" r="1.9" fill="#f4f4f4"/><path d="M67.3,70.0 L74.4,77.2" stroke="#dedede" stroke-width="4.6" stroke-linecap="round" fill="none"/><path d="M74.4,77.2 L83.0,79.5" stroke="#e9e9e9" stroke-width="3" stroke-linecap="round" fill="none"/><circle cx="83.0" cy="79.5" r="1.9" fill="#f4f4f4"/><path d="M63.0,22.0 L73.0,16.0" stroke="#d8d8d8" stroke-width="3.8" stroke-linecap="round" fill="none"/><circle cx="73.0" cy="16.0" r="2.1" fill="#f0f0f0"/><ellipse cx="45.0" cy="-2.0" rx="4.6" ry="5.6" fill="#bababa"/><ellipse cx="63.0" cy="-2.0" rx="4.6" ry="5.6" fill="#bababa"/><ellipse cx="45.0" cy="-2.0" rx="2.4" ry="3.4" fill="#8e8e8e"/><ellipse cx="63.0" cy="-2.0" rx="2.4" ry="3.4" fill="#8e8e8e"/><ellipse cx="54.0" cy="0.0" rx="10.4" ry="11.4" fill="#dadada"/><path d="M44.6,5.0 C41.2,6.0 43.5,7.2 43.2,11.0 C42.9,14.8 43.1,22.8 42.8,28.0 C42.5,33.2 42.0,37.5 41.4,42.0 C40.9,46.5 40.1,51.0 39.7,55.0 C39.3,59.0 38.5,63.2 38.8,66.0 C39.1,68.8 39.5,70.6 41.3,72.0 C43.0,73.4 47.1,73.6 49.3,74.5 C51.5,75.4 53.1,77.1 54.4,77.6 C55.7,78.1 55.9,78.1 57.2,77.6 C58.5,77.1 60.1,75.4 62.3,74.5 C64.5,73.6 68.5,73.4 70.3,72.0 C72.0,70.6 72.5,68.8 72.8,66.0 C73.1,63.2 72.4,59.0 71.9,55.0 C71.4,51.0 70.6,46.5 69.8,42.0 C69.1,37.5 68.1,33.2 67.4,28.0 C66.7,22.8 66.2,14.8 65.6,11.0 C65.0,7.2 67.3,6.0 63.8,5.0 C60.3,4.0 48.0,4.0 44.6,5.0Z" fill="url(#body)"/><path d="M44.6,5.0 C41.2,6.0 43.5,7.2 43.2,11.0 C42.9,14.8 43.1,22.8 42.8,28.0 C42.5,33.2 42.0,37.5 41.4,42.0 C40.9,46.5 40.1,51.0 39.7,55.0 C39.3,59.0 38.5,63.2 38.8,66.0 C39.1,68.8 39.5,70.6 41.3,72.0 C43.0,73.4 47.1,73.6 49.3,74.5 C51.5,75.4 53.1,77.1 54.4,77.6 C55.7,78.1 55.9,78.1 57.2,77.6 C58.5,77.1 60.1,75.4 62.3,74.5 C64.5,73.6 68.5,73.4 70.3,72.0 C72.0,70.6 72.5,68.8 72.8,66.0 C73.1,63.2 72.4,59.0 71.9,55.0 C71.4,51.0 70.6,46.5 69.8,42.0 C69.1,37.5 68.1,33.2 67.4,28.0 C66.7,22.8 66.2,14.8 65.6,11.0 C65.0,7.2 67.3,6.0 63.8,5.0 C60.3,4.0 48.0,4.0 44.6,5.0Z" fill="url(#edge)"/><ellipse cx="55.3" cy="34.0" rx="2" ry="3" fill="#fff" opacity=".7"/><ellipse cx="54.0" cy="63.0" rx="2.2" ry="2.0" fill="url(#L1)"/></svg>
<svg x="586.5" y="946" width="182.0" height="183" viewBox="0 0 100 100" preserveAspectRatio="none"><rect width="100" height="100" fill="#3b3b3b"/><path d="M65.0,0 L81.0,0 L66.0,33.5 Z" fill="#262626" opacity=".55"/><path d="M5.4,0 V100 M17.2,12.8 H90.1 V90.0 H17.2 Z M28.7,25.5 H77.4 V77.2 H28.7 Z" stroke="#1d1d1d" stroke-width="1.05" fill="none"/><path d="M49.0,13.0 C45.5,14.0 47.7,16.8 47.2,19.0 C46.6,21.2 46.4,22.9 45.7,26.5 C45.1,30.1 44.0,36.0 43.2,40.5 C42.4,45.0 41.6,49.5 41.0,53.5 C40.5,57.5 39.7,61.7 39.9,64.5 C40.1,67.3 40.5,69.1 42.2,70.5 C43.9,71.9 48.0,72.1 50.1,73.0 C52.3,73.9 53.8,75.6 55.1,76.1 C56.4,76.6 56.6,76.6 57.9,76.1 C59.2,75.6 60.9,73.9 63.1,73.0 C65.3,72.1 69.4,71.9 71.2,70.5 C73.0,69.1 73.6,67.3 73.9,64.5 C74.2,61.7 73.6,57.5 73.2,53.5 C72.9,49.5 72.1,45.0 71.6,40.5 C71.1,36.0 70.7,30.1 70.3,26.5 C70.0,22.9 69.9,21.2 69.6,19.0 C69.2,16.8 71.7,14.0 68.2,13.0 C64.8,12.0 52.6,12.0 49.0,13.0Z" fill="#121212" opacity=".6" filter="url(#blur)"/><path d="M52.3,72.5 Q52.1,87.8 51.0,102.0" stroke="#ededed" stroke-width="2.9" fill="none"/><path d="M41.5,67.5 L34.1,76.8" stroke="#dedede" stroke-width="4.6" stroke-linecap="round" fill="none"/><path d="M34.1,76.8 L25.0,81.0" stroke="#e9e9e9" stroke-width="3" stroke-linecap="round" fill="none"/><circle cx="25.0" cy="81.0" r="1.9" fill="#f4f4f4"/><path d="M64.5,67.5 L70.6,78.5" stroke="#dedede" stroke-width="4.6" stroke-linecap="round" fill="none"/><path d="M70.6,78.5 L78.0,84.5" stroke="#e9e9e9" stroke-width="3" stroke-linecap="round" fill="none"/><circle cx="78.0" cy="84.5" r="1.9" fill="#f4f4f4"/><path d="M46.0,22.0 L37.0,12.0" stroke="#d8d8d8" stroke-width="3.8" stroke-linecap="round" fill="none"/><circle cx="37.0" cy="12.0" r="2.1" fill="#f0f0f0"/><ellipse cx="46.0" cy="5.0" rx="4.6" ry="5.6" fill="#bababa"/><ellipse cx="64.0" cy="5.0" rx="4.6" ry="5.6" fill="#bababa"/><ellipse cx="46.0" cy="5.0" rx="2.4" ry="3.4" fill="#8e8e8e"/><ellipse cx="64.0" cy="5.0" rx="2.4" ry="3.4" fill="#8e8e8e"/><ellipse cx="55.0" cy="7.0" rx="10.4" ry="11.4" fill="#dadada"/><path d="M44.8,12.0 C41.3,13.0 43.5,15.8 43.0,18.0 C42.4,20.2 42.2,21.9 41.5,25.5 C40.9,29.1 39.8,35.0 39.0,39.5 C38.2,44.0 37.4,48.5 36.8,52.5 C36.3,56.5 35.5,60.7 35.7,63.5 C35.9,66.3 36.3,68.1 38.0,69.5 C39.7,70.9 43.8,71.1 45.9,72.0 C48.1,72.9 49.6,74.6 50.9,75.1 C52.2,75.6 52.4,75.6 53.7,75.1 C55.0,74.6 56.7,72.9 58.9,72.0 C61.1,71.1 65.2,70.9 67.0,69.5 C68.8,68.1 69.4,66.3 69.7,63.5 C70.0,60.7 69.4,56.5 69.0,52.5 C68.7,48.5 67.9,44.0 67.4,39.5 C66.9,35.0 66.5,29.1 66.1,25.5 C65.8,21.9 65.7,20.2 65.4,18.0 C65.0,15.8 67.5,13.0 64.0,12.0 C60.6,11.0 48.4,11.0 44.8,12.0Z" fill="url(#body)"/><path d="M44.8,12.0 C41.3,13.0 43.5,15.8 43.0,18.0 C42.4,20.2 42.2,21.9 41.5,25.5 C40.9,29.1 39.8,35.0 39.0,39.5 C38.2,44.0 37.4,48.5 36.8,52.5 C36.3,56.5 35.5,60.7 35.7,63.5 C35.9,66.3 36.3,68.1 38.0,69.5 C39.7,70.9 43.8,71.1 45.9,72.0 C48.1,72.9 49.6,74.6 50.9,75.1 C52.2,75.6 52.4,75.6 53.7,75.1 C55.0,74.6 56.7,72.9 58.9,72.0 C61.1,71.1 65.2,70.9 67.0,69.5 C68.8,68.1 69.4,66.3 69.7,63.5 C70.0,60.7 69.4,56.5 69.0,52.5 C68.7,48.5 67.9,44.0 67.4,39.5 C66.9,35.0 66.5,29.1 66.1,25.5 C65.8,21.9 65.7,20.2 65.4,18.0 C65.0,15.8 67.5,13.0 64.0,12.0 C60.6,11.0 48.4,11.0 44.8,12.0Z" fill="url(#edge)"/><ellipse cx="53.6" cy="31.5" rx="2" ry="3" fill="#fff" opacity=".7"/><ellipse cx="44.5" cy="56.4" rx="3.3" ry="3.3" fill="url(#L1)"/></svg>
<svg x="586.5" y="1146" width="182.0" height="182" viewBox="0 0 100 100" preserveAspectRatio="none"><rect width="100" height="100" fill="#3b3b3b"/><path d="M62.0,0 L78.0,0 L63.0,33.7 Z" fill="#262626" opacity=".55"/><path d="M6.9,0 V100 M18.7,11.2 H91.6 V88.4 H18.7 Z M30.2,23.9 H78.9 V75.6 H30.2 Z" stroke="#1d1d1d" stroke-width="1.05" fill="none"/><path d="M46.1,12.0 C42.6,13.0 44.8,15.5 44.2,18.0 C43.7,20.4 43.4,22.9 42.7,26.7 C42.1,30.5 41.0,36.2 40.2,40.7 C39.4,45.2 38.6,49.7 38.1,53.7 C37.5,57.7 36.8,61.9 37.0,64.7 C37.2,67.5 37.6,69.3 39.3,70.7 C41.1,72.1 45.1,72.3 47.3,73.2 C49.4,74.1 51.0,75.8 52.3,76.3 C53.6,76.8 53.8,76.8 55.1,76.3 C56.4,75.8 58.1,74.1 60.3,73.2 C62.5,72.3 66.6,72.1 68.3,70.7 C70.1,69.3 70.7,67.5 71.0,64.7 C71.3,61.9 70.7,57.7 70.3,53.7 C69.9,49.7 69.1,45.2 68.6,40.7 C68.1,36.2 67.7,30.5 67.3,26.7 C67.0,22.9 67.0,20.4 66.6,18.0 C66.3,15.5 68.7,13.0 65.3,12.0 C61.9,11.0 49.6,11.0 46.1,12.0Z" fill="#121212" opacity=".6" filter="url(#blur)"/><path d="M49.5,72.7 Q49.4,87.8 49.0,102.0" stroke="#ededed" stroke-width="2.9" fill="none"/><path d="M38.5,67.7 L30.9,75.3" stroke="#dedede" stroke-width="4.6" stroke-linecap="round" fill="none"/><path d="M30.9,75.3 L21.6,78.0" stroke="#e9e9e9" stroke-width="3" stroke-linecap="round" fill="none"/><circle cx="21.6" cy="78.0" r="1.9" fill="#f4f4f4"/><path d="M61.5,67.7 L67.2,76.2" stroke="#dedede" stroke-width="4.6" stroke-linecap="round" fill="none"/><path d="M67.2,76.2 L74.2,79.8" stroke="#e9e9e9" stroke-width="3" stroke-linecap="round" fill="none"/><circle cx="74.2" cy="79.8" r="1.9" fill="#f4f4f4"/><path d="M43.0,24.0 L30.0,18.0" stroke="#d8d8d8" stroke-width="3.8" stroke-linecap="round" fill="none"/><circle cx="30.0" cy="18.0" r="2.1" fill="#f0f0f0"/><ellipse cx="43.0" cy="4.0" rx="4.6" ry="5.6" fill="#bababa"/><ellipse cx="61.0" cy="4.0" rx="4.6" ry="5.6" fill="#bababa"/><ellipse cx="43.0" cy="4.0" rx="2.4" ry="3.4" fill="#8e8e8e"/><ellipse cx="61.0" cy="4.0" rx="2.4" ry="3.4" fill="#8e8e8e"/><ellipse cx="52.0" cy="6.0" rx="10.4" ry="11.4" fill="#dadada"/><path d="M41.9,11.0 C38.4,12.0 40.6,14.5 40.0,17.0 C39.5,19.4 39.2,21.9 38.5,25.7 C37.9,29.5 36.8,35.2 36.0,39.7 C35.2,44.2 34.4,48.7 33.9,52.7 C33.3,56.7 32.6,60.9 32.8,63.7 C33.0,66.5 33.4,68.3 35.1,69.7 C36.9,71.1 40.9,71.3 43.1,72.2 C45.2,73.1 46.8,74.8 48.1,75.3 C49.4,75.8 49.6,75.8 50.9,75.3 C52.2,74.8 53.9,73.1 56.1,72.2 C58.3,71.3 62.4,71.1 64.1,69.7 C65.9,68.3 66.5,66.5 66.8,63.7 C67.1,60.9 66.5,56.7 66.1,52.7 C65.7,48.7 64.9,44.2 64.4,39.7 C63.9,35.2 63.5,29.5 63.1,25.7 C62.8,21.9 62.8,19.4 62.4,17.0 C62.1,14.5 64.5,12.0 61.1,11.0 C57.7,10.0 45.4,10.0 41.9,11.0Z" fill="url(#body)"/><path d="M41.9,11.0 C38.4,12.0 40.6,14.5 40.0,17.0 C39.5,19.4 39.2,21.9 38.5,25.7 C37.9,29.5 36.8,35.2 36.0,39.7 C35.2,44.2 34.4,48.7 33.9,52.7 C33.3,56.7 32.6,60.9 32.8,63.7 C33.0,66.5 33.4,68.3 35.1,69.7 C36.9,71.1 40.9,71.3 43.1,72.2 C45.2,73.1 46.8,74.8 48.1,75.3 C49.4,75.8 49.6,75.8 50.9,75.3 C52.2,74.8 53.9,73.1 56.1,72.2 C58.3,71.3 62.4,71.1 64.1,69.7 C65.9,68.3 66.5,66.5 66.8,63.7 C67.1,60.9 66.5,56.7 66.1,52.7 C65.7,48.7 64.9,44.2 64.4,39.7 C63.9,35.2 63.5,29.5 63.1,25.7 C62.8,21.9 62.8,19.4 62.4,17.0 C62.1,14.5 64.5,12.0 61.1,11.0 C57.7,10.0 45.4,10.0 41.9,11.0Z" fill="url(#edge)"/><ellipse cx="50.5" cy="31.7" rx="2" ry="3" fill="#fff" opacity=".7"/><ellipse cx="40.6" cy="56.8" rx="8.0" ry="8.0" fill="#fbeeff" opacity=".5"/><ellipse cx="40.6" cy="56.8" rx="7.3" ry="7.3" fill="url(#L5)"/></svg>
<svg x="586.5" y="1343.5" width="182.0" height="181.5" viewBox="0 0 100 100" preserveAspectRatio="none"><rect width="100" height="100" fill="#3b3b3b"/><path d="M68.0,0 L84.0,0 L68.0,23.4 Z" fill="#262626" opacity=".55"/><path d="M4.2,0 V100 M16.0,11.4 H88.9 V88.6 H16.0 Z M27.5,24.1 H76.2 V75.8 H27.5 Z" stroke="#1d1d1d" stroke-width="1.05" fill="none"/><path d="M51.5,13.0 C48.0,14.0 50.4,16.1 49.4,19.0 C48.4,21.9 46.4,26.3 45.4,30.4 C44.3,34.5 43.6,39.4 42.9,43.4 C42.3,47.4 41.3,51.6 41.4,54.4 C41.4,57.2 41.7,59.0 43.3,60.4 C44.9,61.8 48.9,62.0 51.0,62.9 C53.1,63.8 54.5,65.5 55.8,66.0 C57.1,66.5 57.2,66.5 58.6,66.0 C60.0,65.5 61.7,63.8 64.0,62.9 C66.3,62.0 70.4,61.8 72.3,60.4 C74.2,59.0 74.9,57.2 75.4,54.4 C75.8,51.6 75.4,47.4 75.1,43.4 C74.9,39.4 74.3,34.5 73.8,30.4 C73.2,26.3 72.3,21.9 71.8,19.0 C71.3,16.1 74.1,14.0 70.7,13.0 C67.3,12.0 55.1,12.0 51.5,13.0Z" fill="#121212" opacity=".6" filter="url(#blur)"/><path d="M53.0,62.4 Q53.6,82.7 56.7,102.0" stroke="#ededed" stroke-width="2.9" fill="none"/><path d="M43.5,57.4 L35.2,61.7" stroke="#dedede" stroke-width="4.6" stroke-linecap="round" fill="none"/><path d="M35.2,61.7 L25.0,61.0" stroke="#e9e9e9" stroke-width="3" stroke-linecap="round" fill="none"/><circle cx="25.0" cy="61.0" r="1.9" fill="#f4f4f4"/><path d="M66.5,57.4 L67.5,62.5" stroke="#dedede" stroke-width="4.6" stroke-linecap="round" fill="none"/><path d="M67.5,62.5 L67.0,62.5" stroke="#e9e9e9" stroke-width="3" stroke-linecap="round" fill="none"/><circle cx="67.0" cy="62.5" r="1.9" fill="#f4f4f4"/><path d="M49.0,22.0 L36.0,8.0" stroke="#d8d8d8" stroke-width="3.8" stroke-linecap="round" fill="none"/><circle cx="36.0" cy="8.0" r="2.1" fill="#f0f0f0"/><ellipse cx="49.0" cy="5.0" rx="4.6" ry="5.6" fill="#bababa"/><ellipse cx="67.0" cy="5.0" rx="4.6" ry="5.6" fill="#bababa"/><ellipse cx="49.0" cy="5.0" rx="2.4" ry="3.4" fill="#8e8e8e"/><ellipse cx="67.0" cy="5.0" rx="2.4" ry="3.4" fill="#8e8e8e"/><ellipse cx="58.0" cy="7.0" rx="10.4" ry="11.4" fill="#dadada"/><path d="M47.3,12.0 C43.8,13.0 46.2,15.1 45.2,18.0 C44.2,20.9 42.2,25.3 41.2,29.4 C40.1,33.5 39.4,38.4 38.7,42.4 C38.1,46.4 37.1,50.6 37.2,53.4 C37.2,56.2 37.5,58.0 39.1,59.4 C40.7,60.8 44.7,61.0 46.8,61.9 C48.9,62.8 50.3,64.5 51.6,65.0 C52.9,65.5 53.0,65.5 54.4,65.0 C55.8,64.5 57.5,62.8 59.8,61.9 C62.1,61.0 66.2,60.8 68.1,59.4 C70.0,58.0 70.7,56.2 71.2,53.4 C71.6,50.6 71.2,46.4 70.9,42.4 C70.7,38.4 70.1,33.5 69.6,29.4 C69.0,25.3 68.1,20.9 67.6,18.0 C67.1,15.1 69.9,13.0 66.5,12.0 C63.1,11.0 50.9,11.0 47.3,12.0Z" fill="url(#body)"/><path d="M47.3,12.0 C43.8,13.0 46.2,15.1 45.2,18.0 C44.2,20.9 42.2,25.3 41.2,29.4 C40.1,33.5 39.4,38.4 38.7,42.4 C38.1,46.4 37.1,50.6 37.2,53.4 C37.2,56.2 37.5,58.0 39.1,59.4 C40.7,60.8 44.7,61.0 46.8,61.9 C48.9,62.8 50.3,64.5 51.6,65.0 C52.9,65.5 53.0,65.5 54.4,65.0 C55.8,64.5 57.5,62.8 59.8,61.9 C62.1,61.0 66.2,60.8 68.1,59.4 C70.0,58.0 70.7,56.2 71.2,53.4 C71.6,50.6 71.2,46.4 70.9,42.4 C70.7,38.4 70.1,33.5 69.6,29.4 C69.0,25.3 68.1,20.9 67.6,18.0 C67.1,15.1 69.9,13.0 66.5,12.0 C63.1,11.0 50.9,11.0 47.3,12.0Z" fill="url(#edge)"/><ellipse cx="56.1" cy="21.4" rx="2" ry="3" fill="#fff" opacity=".7"/><ellipse cx="58.0" cy="47.0" rx="8.2" ry="3.8" fill="#fbeeff" opacity=".5" transform="rotate(-25 58.0 47.0)"/><ellipse cx="58.0" cy="47.0" rx="7.5" ry="3.5" fill="url(#L1p)" transform="rotate(-25 58.0 47.0)"/><ellipse cx="63.0" cy="40.0" rx="2.5" ry="5.0" fill="url(#L1p)" transform="rotate(10 63.0 40.0)"/><ellipse cx="44.8" cy="49.8" rx="9.8" ry="10.9" fill="#fbeeff" opacity=".5"/><ellipse cx="44.8" cy="49.8" rx="9.0" ry="10.0" fill="url(#L5)"/></svg>
<svg x="780.5" y="749" width="184.5" height="182" viewBox="0 0 100 100" preserveAspectRatio="none"><rect width="100" height="100" fill="#3b3b3b"/><path d="M70.0,0 L86.0,0 L74.0,37.0 Z" fill="#262626" opacity=".55"/><path d="M4.7,0 V100 M16.5,12.4 H89.4 V89.6 H16.5 Z M28.0,25.1 H76.7 V76.8 H28.0 Z" stroke="#1d1d1d" stroke-width="1.05" fill="none"/><path d="M54.7,6.0 C51.3,7.0 53.6,8.0 53.2,12.0 C52.9,16.0 52.9,24.7 52.5,30.0 C52.1,35.3 51.5,39.5 50.9,44.0 C50.3,48.5 49.6,53.0 49.1,57.0 C48.6,61.0 47.9,65.2 48.2,68.0 C48.5,70.8 49.0,72.6 50.7,74.0 C52.5,75.4 56.5,75.6 58.7,76.5 C60.9,77.4 62.5,79.1 63.8,79.6 C65.1,80.1 65.3,80.1 66.6,79.6 C67.9,79.1 69.5,77.4 71.7,76.5 C73.9,75.6 78.0,75.4 79.7,74.0 C81.5,72.6 81.9,70.8 82.2,68.0 C82.5,65.2 81.8,61.0 81.3,57.0 C80.8,53.0 80.0,48.5 79.3,44.0 C78.6,39.5 77.7,35.3 77.1,30.0 C76.5,24.7 76.2,16.0 75.6,12.0 C75.1,8.0 77.4,7.0 73.9,6.0 C70.4,5.0 58.2,5.0 54.7,6.0Z" fill="#121212" opacity=".6" filter="url(#blur)"/><path d="M61.0,76.0 Q61.0,89.5 61.0,102.0" stroke="#ededed" stroke-width="2.9" fill="none"/><path d="M49.5,71.0 L48.5,77.8" stroke="#dedede" stroke-width="4.6" stroke-linecap="round" fill="none"/><path d="M48.5,77.8 L44.0,79.5" stroke="#e9e9e9" stroke-width="3" stroke-linecap="round" fill="none"/><circle cx="44.0" cy="79.5" r="1.9" fill="#f4f4f4"/><path d="M72.5,71.0 L79.2,75.8" stroke="#dedede" stroke-width="4.6" stroke-linecap="round" fill="none"/><path d="M79.2,75.8 L87.5,75.7" stroke="#e9e9e9" stroke-width="3" stroke-linecap="round" fill="none"/><circle cx="87.5" cy="75.7" r="1.9" fill="#f4f4f4"/><path d="M69.0,21.0 L74.0,15.0" stroke="#d8d8d8" stroke-width="3.8" stroke-linecap="round" fill="none"/><circle cx="74.0" cy="15.0" r="2.1" fill="#f0f0f0"/><ellipse cx="51.0" cy="-2.0" rx="4.6" ry="5.6" fill="#bababa"/><ellipse cx="69.0" cy="-2.0" rx="4.6" ry="5.6" fill="#bababa"/><ellipse cx="51.0" cy="-2.0" rx="2.4" ry="3.4" fill="#8e8e8e"/><ellipse cx="69.0" cy="-2.0" rx="2.4" ry="3.4" fill="#8e8e8e"/><ellipse cx="60.0" cy="0.0" rx="10.4" ry="11.4" fill="#dadada"/><path d="M50.5,5.0 C47.1,6.0 49.4,7.0 49.0,11.0 C48.7,15.0 48.7,23.7 48.3,29.0 C47.9,34.3 47.3,38.5 46.7,43.0 C46.1,47.5 45.4,52.0 44.9,56.0 C44.4,60.0 43.7,64.2 44.0,67.0 C44.3,69.8 44.8,71.6 46.5,73.0 C48.2,74.4 52.3,74.6 54.5,75.5 C56.7,76.4 58.3,78.1 59.6,78.6 C60.9,79.1 61.1,79.1 62.4,78.6 C63.7,78.1 65.3,76.4 67.5,75.5 C69.7,74.6 73.8,74.4 75.5,73.0 C77.2,71.6 77.7,69.8 78.0,67.0 C78.3,64.2 77.6,60.0 77.1,56.0 C76.6,52.0 75.8,47.5 75.1,43.0 C74.4,38.5 73.5,34.3 72.9,29.0 C72.3,23.7 72.0,15.0 71.4,11.0 C70.9,7.0 73.2,6.0 69.7,5.0 C66.2,4.0 54.0,4.0 50.5,5.0Z" fill="url(#body)"/><path d="M50.5,5.0 C47.1,6.0 49.4,7.0 49.0,11.0 C48.7,15.0 48.7,23.7 48.3,29.0 C47.9,34.3 47.3,38.5 46.7,43.0 C46.1,47.5 45.4,52.0 44.9,56.0 C44.4,60.0 43.7,64.2 44.0,67.0 C44.3,69.8 44.8,71.6 46.5,73.0 C48.2,74.4 52.3,74.6 54.5,75.5 C56.7,76.4 58.3,78.1 59.6,78.6 C60.9,79.1 61.1,79.1 62.4,78.6 C63.7,78.1 65.3,76.4 67.5,75.5 C69.7,74.6 73.8,74.4 75.5,73.0 C77.2,71.6 77.7,69.8 78.0,67.0 C78.3,64.2 77.6,60.0 77.1,56.0 C76.6,52.0 75.8,47.5 75.1,43.0 C74.4,38.5 73.5,34.3 72.9,29.0 C72.3,23.7 72.0,15.0 71.4,11.0 C70.9,7.0 73.2,6.0 69.7,5.0 C66.2,4.0 54.0,4.0 50.5,5.0Z" fill="url(#edge)"/><ellipse cx="60.7" cy="35.0" rx="2" ry="3" fill="#fff" opacity=".7"/><ellipse cx="53.0" cy="60.0" rx="2.8" ry="2.8" fill="url(#L2)"/></svg>
<svg x="780.5" y="946" width="184.5" height="183" viewBox="0 0 100 100" preserveAspectRatio="none"><rect width="100" height="100" fill="#3b3b3b"/><path d="M62.0,0 L78.0,0 L65.4,24.7 Z" fill="#262626" opacity=".55"/><path d="M4.8,0 V100 M16.6,12.9 H89.5 V90.1 H16.6 Z M28.1,25.6 H76.8 V77.3 H28.1 Z" stroke="#1d1d1d" stroke-width="1.05" fill="none"/><path d="M46.7,13.0 C43.3,14.0 45.9,15.9 45.2,19.0 C44.5,22.1 43.2,27.4 42.4,31.7 C41.5,36.0 40.9,40.7 40.4,44.7 C39.8,48.7 38.9,52.9 39.0,55.7 C39.1,58.5 39.5,60.3 41.1,61.7 C42.8,63.1 46.8,63.3 48.9,64.2 C51.0,65.1 52.5,66.8 53.8,67.3 C55.1,67.8 55.2,67.8 56.6,67.3 C58.0,66.8 59.7,65.1 61.9,64.2 C64.2,63.3 68.3,63.1 70.1,61.7 C72.0,60.3 72.6,58.5 73.0,55.7 C73.4,52.9 73.0,48.7 72.6,44.7 C72.2,40.7 71.6,36.0 70.8,31.7 C69.9,27.4 68.4,22.1 67.6,19.0 C66.8,15.9 69.4,14.0 65.9,13.0 C62.5,12.0 50.2,12.0 46.7,13.0Z" fill="#121212" opacity=".6" filter="url(#blur)"/><path d="M51.0,63.7 Q50.9,83.3 50.0,102.0" stroke="#ededed" stroke-width="2.9" fill="none"/><path d="M40.9,58.7 L33.7,63.8" stroke="#dedede" stroke-width="4.6" stroke-linecap="round" fill="none"/><path d="M33.7,63.8 L25.0,63.8" stroke="#e9e9e9" stroke-width="3" stroke-linecap="round" fill="none"/><circle cx="25.0" cy="63.8" r="1.9" fill="#f4f4f4"/><path d="M63.9,58.7 L68.9,69.7" stroke="#dedede" stroke-width="4.6" stroke-linecap="round" fill="none"/><path d="M68.9,69.7 L75.0,75.7" stroke="#e9e9e9" stroke-width="3" stroke-linecap="round" fill="none"/><circle cx="75.0" cy="75.7" r="1.9" fill="#f4f4f4"/><ellipse cx="43.0" cy="5.0" rx="4.6" ry="5.6" fill="#bababa"/><ellipse cx="61.0" cy="5.0" rx="4.6" ry="5.6" fill="#bababa"/><ellipse cx="43.0" cy="5.0" rx="2.4" ry="3.4" fill="#8e8e8e"/><ellipse cx="61.0" cy="5.0" rx="2.4" ry="3.4" fill="#8e8e8e"/><ellipse cx="52.0" cy="7.0" rx="10.4" ry="11.4" fill="#dadada"/><path d="M42.5,12.0 C39.1,13.0 41.7,14.9 41.0,18.0 C40.3,21.1 39.0,26.4 38.2,30.7 C37.3,35.0 36.7,39.7 36.2,43.7 C35.6,47.7 34.7,51.9 34.8,54.7 C34.9,57.5 35.3,59.3 36.9,60.7 C38.6,62.1 42.6,62.3 44.7,63.2 C46.8,64.1 48.3,65.8 49.6,66.3 C50.9,66.8 51.0,66.8 52.4,66.3 C53.8,65.8 55.5,64.1 57.7,63.2 C60.0,62.3 64.1,62.1 65.9,60.7 C67.8,59.3 68.4,57.5 68.8,54.7 C69.2,51.9 68.8,47.7 68.4,43.7 C68.0,39.7 67.4,35.0 66.6,30.7 C65.7,26.4 64.2,21.1 63.4,18.0 C62.6,14.9 65.2,13.0 61.7,12.0 C58.3,11.0 46.0,11.0 42.5,12.0Z" fill="url(#body)"/><path d="M42.5,12.0 C39.1,13.0 41.7,14.9 41.0,18.0 C40.3,21.1 39.0,26.4 38.2,30.7 C37.3,35.0 36.7,39.7 36.2,43.7 C35.6,47.7 34.7,51.9 34.8,54.7 C34.9,57.5 35.3,59.3 36.9,60.7 C38.6,62.1 42.6,62.3 44.7,63.2 C46.8,64.1 48.3,65.8 49.6,66.3 C50.9,66.8 51.0,66.8 52.4,66.3 C53.8,65.8 55.5,64.1 57.7,63.2 C60.0,62.3 64.1,62.1 65.9,60.7 C67.8,59.3 68.4,57.5 68.8,54.7 C69.2,51.9 68.8,47.7 68.4,43.7 C68.0,39.7 67.4,35.0 66.6,30.7 C65.7,26.4 64.2,21.1 63.4,18.0 C62.6,14.9 65.2,13.0 61.7,12.0 C58.3,11.0 46.0,11.0 42.5,12.0Z" fill="url(#edge)"/><ellipse cx="52.3" cy="22.7" rx="2" ry="3" fill="#fff" opacity=".7"/><ellipse cx="42.6" cy="49.0" rx="3.5" ry="4.5" fill="url(#L1p)"/></svg>
<svg x="780.5" y="1146" width="184.5" height="182" viewBox="0 0 100 100" preserveAspectRatio="none"><rect width="100" height="100" fill="#3b3b3b"/><path d="M60.0,0 L76.0,0 L61.9,30.0 Z" fill="#262626" opacity=".55"/><path d="M6.8,0 V100 M18.6,13.6 H91.5 V90.8 H18.6 Z M30.1,26.3 H78.8 V78.0 H30.1 Z" stroke="#1d1d1d" stroke-width="1.05" fill="none"/><path d="M44.3,13.0 C40.8,14.0 43.0,17.3 42.5,19.0 C42.0,20.7 41.9,20.0 41.3,23.0 C40.7,26.0 39.8,32.5 39.0,37.0 C38.3,41.5 37.5,46.0 36.8,50.0 C36.2,54.0 35.2,58.2 35.3,61.0 C35.4,63.8 35.6,65.6 37.3,67.0 C38.9,68.4 42.9,68.6 45.0,69.5 C47.1,70.4 48.5,72.1 49.8,72.6 C51.1,73.1 51.2,73.1 52.6,72.6 C54.0,72.1 55.7,70.4 58.0,69.5 C60.3,68.6 64.4,68.4 66.3,67.0 C68.1,65.6 68.8,63.8 69.3,61.0 C69.8,58.2 69.4,54.0 69.0,50.0 C68.7,46.0 67.9,41.5 67.4,37.0 C66.9,32.5 66.3,26.0 65.9,23.0 C65.5,20.0 65.3,20.7 64.9,19.0 C64.5,17.3 66.9,14.0 63.5,13.0 C60.0,12.0 47.8,12.0 44.3,13.0Z" fill="#121212" opacity=".6" filter="url(#blur)"/><path d="M47.0,69.0 Q47.1,86.0 48.0,102.0" stroke="#ededed" stroke-width="2.9" fill="none"/><path d="M37.4,64.0 L29.6,67.8" stroke="#dedede" stroke-width="4.6" stroke-linecap="round" fill="none"/><path d="M29.6,67.8 L20.0,66.5" stroke="#e9e9e9" stroke-width="3" stroke-linecap="round" fill="none"/><circle cx="20.0" cy="66.5" r="1.9" fill="#f4f4f4"/><path d="M60.4,64.0 L61.4,75.0" stroke="#dedede" stroke-width="4.6" stroke-linecap="round" fill="none"/><path d="M61.4,75.0 L65.0,81.0" stroke="#e9e9e9" stroke-width="3" stroke-linecap="round" fill="none"/><circle cx="65.0" cy="81.0" r="1.9" fill="#f4f4f4"/><ellipse cx="41.0" cy="5.0" rx="4.6" ry="5.6" fill="#bababa"/><ellipse cx="59.0" cy="5.0" rx="4.6" ry="5.6" fill="#bababa"/><ellipse cx="41.0" cy="5.0" rx="2.4" ry="3.4" fill="#8e8e8e"/><ellipse cx="59.0" cy="5.0" rx="2.4" ry="3.4" fill="#8e8e8e"/><ellipse cx="50.0" cy="7.0" rx="10.4" ry="11.4" fill="#dadada"/><path d="M40.1,12.0 C36.6,13.0 38.8,16.3 38.3,18.0 C37.8,19.7 37.7,19.0 37.1,22.0 C36.5,25.0 35.6,31.5 34.8,36.0 C34.1,40.5 33.3,45.0 32.6,49.0 C32.0,53.0 31.0,57.2 31.1,60.0 C31.2,62.8 31.4,64.6 33.1,66.0 C34.7,67.4 38.7,67.6 40.8,68.5 C42.9,69.4 44.3,71.1 45.6,71.6 C46.9,72.1 47.0,72.1 48.4,71.6 C49.8,71.1 51.5,69.4 53.8,68.5 C56.1,67.6 60.2,67.4 62.1,66.0 C63.9,64.6 64.6,62.8 65.1,60.0 C65.6,57.2 65.2,53.0 64.8,49.0 C64.5,45.0 63.7,40.5 63.2,36.0 C62.7,31.5 62.1,25.0 61.7,22.0 C61.3,19.0 61.1,19.7 60.7,18.0 C60.3,16.3 62.7,13.0 59.3,12.0 C55.8,11.0 43.6,11.0 40.1,12.0Z" fill="url(#body)"/><path d="M40.1,12.0 C36.6,13.0 38.8,16.3 38.3,18.0 C37.8,19.7 37.7,19.0 37.1,22.0 C36.5,25.0 35.6,31.5 34.8,36.0 C34.1,40.5 33.3,45.0 32.6,49.0 C32.0,53.0 31.0,57.2 31.1,60.0 C31.2,62.8 31.4,64.6 33.1,66.0 C34.7,67.4 38.7,67.6 40.8,68.5 C42.9,69.4 44.3,71.1 45.6,71.6 C46.9,72.1 47.0,72.1 48.4,71.6 C49.8,71.1 51.5,69.4 53.8,68.5 C56.1,67.6 60.2,67.4 62.1,66.0 C63.9,64.6 64.6,62.8 65.1,60.0 C65.6,57.2 65.2,53.0 64.8,49.0 C64.5,45.0 63.7,40.5 63.2,36.0 C62.7,31.5 62.1,25.0 61.7,22.0 C61.3,19.0 61.1,19.7 60.7,18.0 C60.3,16.3 62.7,13.0 59.3,12.0 C55.8,11.0 43.6,11.0 40.1,12.0Z" fill="url(#edge)"/><ellipse cx="49.2" cy="28.0" rx="2" ry="3" fill="#fff" opacity=".7"/><ellipse cx="40.0" cy="51.4" rx="8.7" ry="8.7" fill="#fbeeff" opacity=".5"/><ellipse cx="40.0" cy="51.4" rx="8.0" ry="8.0" fill="url(#L2)"/></svg>
<svg x="780.5" y="1343.5" width="184.5" height="181.5" viewBox="0 0 100 100" preserveAspectRatio="none"><rect width="100" height="100" fill="#3b3b3b"/><path d="M72.0,0 L88.0,0 L71.5,27.5 Z" fill="#262626" opacity=".55"/><path d="M5.7,0 V100 M17.5,12.7 H90.4 V89.9 H17.5 Z M29.0,25.4 H77.7 V77.1 H29.0 Z" stroke="#1d1d1d" stroke-width="1.05" fill="none"/><path d="M55.5,13.0 C51.9,14.0 54.4,15.4 53.3,19.0 C52.2,22.6 50.0,29.8 48.9,34.5 C47.7,39.2 47.1,43.5 46.4,47.5 C45.7,51.5 44.7,55.7 44.7,58.5 C44.7,61.3 44.9,63.1 46.4,64.5 C48.0,65.9 52.0,66.1 54.1,67.0 C56.1,67.9 57.5,69.6 58.8,70.1 C60.1,70.6 60.2,70.6 61.6,70.1 C63.0,69.6 64.8,67.9 67.1,67.0 C69.4,66.1 73.5,65.9 75.4,64.5 C77.4,63.1 78.1,61.3 78.7,58.5 C79.2,55.7 78.8,51.5 78.6,47.5 C78.4,43.5 77.8,39.2 77.3,34.5 C76.8,29.8 76.2,22.6 75.7,19.0 C75.3,15.4 78.1,14.0 74.7,13.0 C71.3,12.0 59.0,12.0 55.5,13.0Z" fill="#121212" opacity=".6" filter="url(#blur)"/><path d="M56.0,66.5 Q55.9,84.8 55.3,102.0" stroke="#ededed" stroke-width="2.9" fill="none"/><path d="M47.0,61.5 L39.2,63.5" stroke="#dedede" stroke-width="4.6" stroke-linecap="round" fill="none"/><path d="M39.2,63.5 L29.6,60.4" stroke="#e9e9e9" stroke-width="3" stroke-linecap="round" fill="none"/><circle cx="29.6" cy="60.4" r="1.9" fill="#f4f4f4"/><path d="M70.0,61.5 L71.0,66.8" stroke="#dedede" stroke-width="4.6" stroke-linecap="round" fill="none"/><path d="M71.0,66.8 L66.0,67.0" stroke="#e9e9e9" stroke-width="3" stroke-linecap="round" fill="none"/><circle cx="66.0" cy="67.0" r="1.9" fill="#f4f4f4"/><path d="M53.0,22.0 L34.0,9.0" stroke="#d8d8d8" stroke-width="3.8" stroke-linecap="round" fill="none"/><circle cx="34.0" cy="9.0" r="2.1" fill="#f0f0f0"/><ellipse cx="53.0" cy="5.0" rx="4.6" ry="5.6" fill="#bababa"/><ellipse cx="71.0" cy="5.0" rx="4.6" ry="5.6" fill="#bababa"/><ellipse cx="53.0" cy="5.0" rx="2.4" ry="3.4" fill="#8e8e8e"/><ellipse cx="71.0" cy="5.0" rx="2.4" ry="3.4" fill="#8e8e8e"/><ellipse cx="62.0" cy="7.0" rx="10.4" ry="11.4" fill="#dadada"/><path d="M51.3,12.0 C47.7,13.0 50.2,14.4 49.1,18.0 C48.0,21.6 45.8,28.8 44.7,33.5 C43.5,38.2 42.9,42.5 42.2,46.5 C41.5,50.5 40.5,54.7 40.5,57.5 C40.5,60.3 40.7,62.1 42.2,63.5 C43.8,64.9 47.8,65.1 49.9,66.0 C51.9,66.9 53.3,68.6 54.6,69.1 C55.9,69.6 56.0,69.6 57.4,69.1 C58.8,68.6 60.6,66.9 62.9,66.0 C65.2,65.1 69.3,64.9 71.2,63.5 C73.2,62.1 73.9,60.3 74.5,57.5 C75.0,54.7 74.6,50.5 74.4,46.5 C74.2,42.5 73.6,38.2 73.1,33.5 C72.6,28.8 72.0,21.6 71.5,18.0 C71.1,14.4 73.9,13.0 70.5,12.0 C67.1,11.0 54.8,11.0 51.3,12.0Z" fill="url(#body)"/><path d="M51.3,12.0 C47.7,13.0 50.2,14.4 49.1,18.0 C48.0,21.6 45.8,28.8 44.7,33.5 C43.5,38.2 42.9,42.5 42.2,46.5 C41.5,50.5 40.5,54.7 40.5,57.5 C40.5,60.3 40.7,62.1 42.2,63.5 C43.8,64.9 47.8,65.1 49.9,66.0 C51.9,66.9 53.3,68.6 54.6,69.1 C55.9,69.6 56.0,69.6 57.4,69.1 C58.8,68.6 60.6,66.9 62.9,66.0 C65.2,65.1 69.3,64.9 71.2,63.5 C73.2,62.1 73.9,60.3 74.5,57.5 C75.0,54.7 74.6,50.5 74.4,46.5 C74.2,42.5 73.6,38.2 73.1,33.5 C72.6,28.8 72.0,21.6 71.5,18.0 C71.1,14.4 73.9,13.0 70.5,12.0 C67.1,11.0 54.8,11.0 51.3,12.0Z" fill="url(#edge)"/><ellipse cx="59.6" cy="25.5" rx="2" ry="3" fill="#fff" opacity=".7"/><ellipse cx="49.7" cy="48.4" rx="9.3" ry="9.8" fill="#fbeeff" opacity=".5"/><ellipse cx="49.7" cy="48.4" rx="8.5" ry="9.0" fill="url(#L5)"/></svg>
<svg x="987.5" y="749" width="185.5" height="185" viewBox="0 0 100 100" preserveAspectRatio="none"><rect width="100" height="100" fill="#3b3b3b"/><path d="M70.0,0 L86.0,0 L74.5,33.0 Z" fill="#262626" opacity=".55"/><path d="M4.7,0 V100 M16.5,11.1 H89.4 V88.3 H16.5 Z M28.0,23.8 H76.7 V75.5 H28.0 Z" stroke="#1d1d1d" stroke-width="1.05" fill="none"/><path d="M54.8,8.0 C51.4,9.0 53.8,11.0 53.5,14.0 C53.1,17.0 53.1,21.7 52.8,26.0 C52.4,30.3 51.9,35.5 51.4,40.0 C50.8,44.5 50.0,49.0 49.6,53.0 C49.2,57.0 48.4,61.2 48.7,64.0 C49.0,66.8 49.5,68.6 51.2,70.0 C53.0,71.4 57.0,71.6 59.2,72.5 C61.4,73.4 63.0,75.1 64.3,75.6 C65.6,76.1 65.8,76.1 67.1,75.6 C68.4,75.1 70.0,73.4 72.2,72.5 C74.4,71.6 78.5,71.4 80.2,70.0 C82.0,68.6 82.4,66.8 82.7,64.0 C83.0,61.2 82.3,57.0 81.8,53.0 C81.3,49.0 80.5,44.5 79.8,40.0 C79.0,35.5 78.0,30.3 77.4,26.0 C76.7,21.7 76.4,17.0 75.9,14.0 C75.3,11.0 77.5,9.0 74.0,8.0 C70.5,7.0 58.3,7.0 54.8,8.0Z" fill="#121212" opacity=".6" filter="url(#blur)"/><path d="M61.5,72.0 Q61.5,87.5 61.5,102.0" stroke="#ededed" stroke-width="2.9" fill="none"/><path d="M50.0,67.0 L45.0,74.0" stroke="#dedede" stroke-width="4.6" stroke-linecap="round" fill="none"/><path d="M45.0,74.0 L39.0,76.0" stroke="#e9e9e9" stroke-width="3" stroke-linecap="round" fill="none"/><circle cx="39.0" cy="76.0" r="1.9" fill="#f4f4f4"/><path d="M73.0,67.0 L79.3,71.5" stroke="#dedede" stroke-width="4.6" stroke-linecap="round" fill="none"/><path d="M79.3,71.5 L87.0,71.0" stroke="#e9e9e9" stroke-width="3" stroke-linecap="round" fill="none"/><circle cx="87.0" cy="71.0" r="1.9" fill="#f4f4f4"/><ellipse cx="51.0" cy="0.0" rx="4.6" ry="5.6" fill="#bababa"/><ellipse cx="69.0" cy="0.0" rx="4.6" ry="5.6" fill="#bababa"/><ellipse cx="51.0" cy="0.0" rx="2.4" ry="3.4" fill="#8e8e8e"/><ellipse cx="69.0" cy="0.0" rx="2.4" ry="3.4" fill="#8e8e8e"/><ellipse cx="60.0" cy="2.0" rx="10.4" ry="11.4" fill="#dadada"/><path d="M50.6,7.0 C47.2,8.0 49.6,10.0 49.3,13.0 C48.9,16.0 48.9,20.7 48.6,25.0 C48.2,29.3 47.7,34.5 47.2,39.0 C46.6,43.5 45.8,48.0 45.4,52.0 C45.0,56.0 44.2,60.2 44.5,63.0 C44.8,65.8 45.2,67.6 47.0,69.0 C48.8,70.4 52.8,70.6 55.0,71.5 C57.2,72.4 58.8,74.1 60.1,74.6 C61.4,75.1 61.6,75.1 62.9,74.6 C64.2,74.1 65.8,72.4 68.0,71.5 C70.2,70.6 74.2,70.4 76.0,69.0 C77.8,67.6 78.2,65.8 78.5,63.0 C78.8,60.2 78.1,56.0 77.6,52.0 C77.1,48.0 76.3,43.5 75.6,39.0 C74.8,34.5 73.8,29.3 73.2,25.0 C72.5,20.7 72.2,16.0 71.7,13.0 C71.1,10.0 73.3,8.0 69.8,7.0 C66.3,6.0 54.1,6.0 50.6,7.0Z" fill="url(#body)"/><path d="M50.6,7.0 C47.2,8.0 49.6,10.0 49.3,13.0 C48.9,16.0 48.9,20.7 48.6,25.0 C48.2,29.3 47.7,34.5 47.2,39.0 C46.6,43.5 45.8,48.0 45.4,52.0 C45.0,56.0 44.2,60.2 44.5,63.0 C44.8,65.8 45.2,67.6 47.0,69.0 C48.8,70.4 52.8,70.6 55.0,71.5 C57.2,72.4 58.8,74.1 60.1,74.6 C61.4,75.1 61.6,75.1 62.9,74.6 C64.2,74.1 65.8,72.4 68.0,71.5 C70.2,70.6 74.2,70.4 76.0,69.0 C77.8,67.6 78.2,65.8 78.5,63.0 C78.8,60.2 78.1,56.0 77.6,52.0 C77.1,48.0 76.3,43.5 75.6,39.0 C74.8,34.5 73.8,29.3 73.2,25.0 C72.5,20.7 72.2,16.0 71.7,13.0 C71.1,10.0 73.3,8.0 69.8,7.0 C66.3,6.0 54.1,6.0 50.6,7.0Z" fill="url(#edge)"/><ellipse cx="61.1" cy="31.0" rx="2" ry="3" fill="#fff" opacity=".7"/><ellipse cx="53.8" cy="52.2" rx="2.8" ry="2.8" fill="url(#L2r)"/></svg>
<svg x="987.5" y="946" width="185.5" height="184" viewBox="0 0 100 100" preserveAspectRatio="none"><rect width="100" height="100" fill="#3b3b3b"/><path d="M66.0,0 L82.0,0 L69.5,28.0 Z" fill="#262626" opacity=".55"/><path d="M4.3,0 V100 M16.1,12.9 H89.0 V90.1 H16.1 Z M27.6,25.6 H76.3 V77.3 H27.6 Z" stroke="#1d1d1d" stroke-width="1.05" fill="none"/><path d="M50.8,13.0 C47.3,14.0 49.7,17.7 49.2,19.0 C48.8,20.3 48.6,18.3 48.2,21.0 C47.7,23.7 47.0,30.5 46.4,35.0 C45.9,39.5 45.1,44.0 44.7,48.0 C44.2,52.0 43.6,56.2 43.9,59.0 C44.3,61.8 44.8,63.6 46.6,65.0 C48.4,66.4 52.5,66.6 54.7,67.5 C56.9,68.4 58.6,70.1 59.9,70.6 C61.2,71.1 61.4,71.1 62.7,70.6 C64.0,70.1 65.6,68.4 67.7,67.5 C69.9,66.6 73.9,66.4 75.6,65.0 C77.3,63.6 77.7,61.8 77.9,59.0 C78.2,56.2 77.4,52.0 76.9,48.0 C76.3,44.0 75.5,39.5 74.8,35.0 C74.2,30.5 73.3,23.7 72.8,21.0 C72.2,18.3 72.1,20.3 71.6,19.0 C71.2,17.7 73.4,14.0 70.0,13.0 C66.5,12.0 54.2,12.0 50.8,13.0Z" fill="#121212" opacity=".6" filter="url(#blur)"/><path d="M57.1,67.0 Q57.4,85.0 59.0,102.0" stroke="#ededed" stroke-width="2.9" fill="none"/><path d="M45.0,62.0 L37.6,70.3" stroke="#dedede" stroke-width="4.6" stroke-linecap="round" fill="none"/><path d="M37.6,70.3 L28.6,73.7" stroke="#e9e9e9" stroke-width="3" stroke-linecap="round" fill="none"/><circle cx="28.6" cy="73.7" r="1.9" fill="#f4f4f4"/><path d="M68.0,62.0 L75.4,71.2" stroke="#dedede" stroke-width="4.6" stroke-linecap="round" fill="none"/><path d="M75.4,71.2 L84.5,75.5" stroke="#e9e9e9" stroke-width="3" stroke-linecap="round" fill="none"/><circle cx="84.5" cy="75.5" r="1.9" fill="#f4f4f4"/><ellipse cx="47.0" cy="5.0" rx="4.6" ry="5.6" fill="#bababa"/><ellipse cx="65.0" cy="5.0" rx="4.6" ry="5.6" fill="#bababa"/><ellipse cx="47.0" cy="5.0" rx="2.4" ry="3.4" fill="#8e8e8e"/><ellipse cx="65.0" cy="5.0" rx="2.4" ry="3.4" fill="#8e8e8e"/><ellipse cx="56.0" cy="7.0" rx="10.4" ry="11.4" fill="#dadada"/><path d="M46.6,12.0 C43.1,13.0 45.5,16.7 45.0,18.0 C44.6,19.3 44.4,17.3 44.0,20.0 C43.5,22.7 42.8,29.5 42.2,34.0 C41.7,38.5 40.9,43.0 40.5,47.0 C40.0,51.0 39.4,55.2 39.7,58.0 C40.1,60.8 40.6,62.6 42.4,64.0 C44.2,65.4 48.3,65.6 50.5,66.5 C52.7,67.4 54.4,69.1 55.7,69.6 C57.0,70.1 57.2,70.1 58.5,69.6 C59.8,69.1 61.4,67.4 63.5,66.5 C65.7,65.6 69.7,65.4 71.4,64.0 C73.1,62.6 73.5,60.8 73.7,58.0 C74.0,55.2 73.2,51.0 72.7,47.0 C72.1,43.0 71.3,38.5 70.6,34.0 C70.0,29.5 69.1,22.7 68.6,20.0 C68.0,17.3 67.9,19.3 67.4,18.0 C67.0,16.7 69.2,13.0 65.8,12.0 C62.3,11.0 50.0,11.0 46.6,12.0Z" fill="url(#body)"/><path d="M46.6,12.0 C43.1,13.0 45.5,16.7 45.0,18.0 C44.6,19.3 44.4,17.3 44.0,20.0 C43.5,22.7 42.8,29.5 42.2,34.0 C41.7,38.5 40.9,43.0 40.5,47.0 C40.0,51.0 39.4,55.2 39.7,58.0 C40.1,60.8 40.6,62.6 42.4,64.0 C44.2,65.4 48.3,65.6 50.5,66.5 C52.7,67.4 54.4,69.1 55.7,69.6 C57.0,70.1 57.2,70.1 58.5,69.6 C59.8,69.1 61.4,67.4 63.5,66.5 C65.7,65.6 69.7,65.4 71.4,64.0 C73.1,62.6 73.5,60.8 73.7,58.0 C74.0,55.2 73.2,51.0 72.7,47.0 C72.1,43.0 71.3,38.5 70.6,34.0 C70.0,29.5 69.1,22.7 68.6,20.0 C68.0,17.3 67.9,19.3 67.4,18.0 C67.0,16.7 69.2,13.0 65.8,12.0 C62.3,11.0 50.0,11.0 46.6,12.0Z" fill="url(#edge)"/><ellipse cx="56.3" cy="26.0" rx="2" ry="3" fill="#fff" opacity=".7"/><ellipse cx="48.4" cy="52.0" rx="5.1" ry="5.1" fill="#fbeeff" opacity=".5"/><ellipse cx="48.4" cy="52.0" rx="4.7" ry="4.7" fill="url(#L6)"/></svg>
<svg x="987.5" y="1145" width="185.5" height="184" viewBox="0 0 100 100" preserveAspectRatio="none"><rect width="100" height="100" fill="#3b3b3b"/><path d="M65.0,0 L81.0,0 L69.5,19.0 Z" fill="#262626" opacity=".55"/><path d="M6.1,0 V100 M17.9,13.3 H90.8 V90.5 H17.9 Z M29.4,26.0 H78.1 V77.7 H29.4 Z" stroke="#1d1d1d" stroke-width="1.05" fill="none"/><path d="M50.3,15.0 C46.9,16.0 49.7,19.2 49.0,21.0 C48.4,22.8 47.0,23.0 46.3,26.0 C45.6,29.0 45.1,35.0 44.7,39.0 C44.4,43.0 43.8,47.2 44.2,50.0 C44.6,52.8 45.3,54.6 47.1,56.0 C49.0,57.4 53.1,57.6 55.3,58.5 C57.5,59.4 59.2,61.1 60.6,61.6 C62.0,62.1 62.1,62.1 63.4,61.6 C64.7,61.1 66.2,59.4 68.3,58.5 C70.4,57.6 74.5,57.4 76.1,56.0 C77.8,54.6 78.1,52.8 78.2,50.0 C78.4,47.2 77.5,43.0 76.9,39.0 C76.3,35.0 75.6,29.0 74.7,26.0 C73.8,23.0 72.3,22.8 71.4,21.0 C70.6,19.2 73.0,16.0 69.5,15.0 C66.0,14.0 53.7,14.0 50.3,15.0Z" fill="#121212" opacity=".6" filter="url(#blur)"/><path d="M57.8,58.0 Q58.0,80.5 59.0,102.0" stroke="#ededed" stroke-width="2.9" fill="none"/><path d="M45.0,53.0 L38.7,62.2" stroke="#dedede" stroke-width="4.6" stroke-linecap="round" fill="none"/><path d="M38.7,62.2 L31.0,66.4" stroke="#e9e9e9" stroke-width="3" stroke-linecap="round" fill="none"/><circle cx="31.0" cy="66.4" r="1.9" fill="#f4f4f4"/><path d="M68.0,53.0 L75.2,60.0" stroke="#dedede" stroke-width="4.6" stroke-linecap="round" fill="none"/><path d="M75.2,60.0 L84.0,62.0" stroke="#e9e9e9" stroke-width="3" stroke-linecap="round" fill="none"/><circle cx="84.0" cy="62.0" r="1.9" fill="#f4f4f4"/><ellipse cx="46.0" cy="7.0" rx="4.6" ry="5.6" fill="#bababa"/><ellipse cx="64.0" cy="7.0" rx="4.6" ry="5.6" fill="#bababa"/><ellipse cx="46.0" cy="7.0" rx="2.4" ry="3.4" fill="#8e8e8e"/><ellipse cx="64.0" cy="7.0" rx="2.4" ry="3.4" fill="#8e8e8e"/><ellipse cx="55.0" cy="9.0" rx="10.4" ry="11.4" fill="#dadada"/><path d="M46.1,14.0 C42.7,15.0 45.5,18.2 44.8,20.0 C44.2,21.8 42.8,22.0 42.1,25.0 C41.4,28.0 40.9,34.0 40.5,38.0 C40.2,42.0 39.6,46.2 40.0,49.0 C40.4,51.8 41.1,53.6 42.9,55.0 C44.8,56.4 48.9,56.6 51.1,57.5 C53.3,58.4 55.0,60.1 56.4,60.6 C57.8,61.1 57.9,61.1 59.2,60.6 C60.5,60.1 62.0,58.4 64.1,57.5 C66.2,56.6 70.3,56.4 71.9,55.0 C73.6,53.6 73.9,51.8 74.0,49.0 C74.2,46.2 73.3,42.0 72.7,38.0 C72.1,34.0 71.4,28.0 70.5,25.0 C69.6,22.0 68.1,21.8 67.2,20.0 C66.4,18.2 68.8,15.0 65.3,14.0 C61.8,13.0 49.5,13.0 46.1,14.0Z" fill="url(#body)"/><path d="M46.1,14.0 C42.7,15.0 45.5,18.2 44.8,20.0 C44.2,21.8 42.8,22.0 42.1,25.0 C41.4,28.0 40.9,34.0 40.5,38.0 C40.2,42.0 39.6,46.2 40.0,49.0 C40.4,51.8 41.1,53.6 42.9,55.0 C44.8,56.4 48.9,56.6 51.1,57.5 C53.3,58.4 55.0,60.1 56.4,60.6 C57.8,61.1 57.9,61.1 59.2,60.6 C60.5,60.1 62.0,58.4 64.1,57.5 C66.2,56.6 70.3,56.4 71.9,55.0 C73.6,53.6 73.9,51.8 74.0,49.0 C74.2,46.2 73.3,42.0 72.7,38.0 C72.1,34.0 71.4,28.0 70.5,25.0 C69.6,22.0 68.1,21.8 67.2,20.0 C66.4,18.2 68.8,15.0 65.3,14.0 C61.8,13.0 49.5,13.0 46.1,14.0Z" fill="url(#edge)"/><ellipse cx="55.9" cy="17.0" rx="2" ry="3" fill="#fff" opacity=".7"/><ellipse cx="51.0" cy="46.4" rx="7.1" ry="8.2" fill="#fbeeff" opacity=".5"/><ellipse cx="51.0" cy="46.4" rx="6.5" ry="7.5" fill="url(#L4)"/></svg>
<svg x="987.5" y="1342.5" width="185.5" height="183.0" viewBox="0 0 100 100" preserveAspectRatio="none"><rect width="100" height="100" fill="#3b3b3b"/><path d="M65.0,0 L81.0,0 L71.0,22.4 Z" fill="#262626" opacity=".55"/><path d="M5.6,0 V100 M17.4,12.6 H90.3 V89.8 H17.4 Z M28.9,25.3 H77.6 V77.0 H28.9 Z" stroke="#1d1d1d" stroke-width="1.05" fill="none"/><path d="M49.8,3.0 C46.4,4.0 49.0,6.9 48.7,9.0 C48.5,11.1 48.4,12.0 48.2,15.4 C48.0,18.8 47.9,24.9 47.6,29.4 C47.3,33.9 46.5,38.4 46.3,42.4 C46.1,46.4 45.7,50.6 46.3,53.4 C46.8,56.2 47.6,58.0 49.5,59.4 C51.5,60.8 55.6,61.0 57.9,61.9 C60.2,62.8 62.0,64.5 63.4,65.0 C64.8,65.5 65.0,65.5 66.2,65.0 C67.4,64.5 68.8,62.8 70.9,61.9 C73.0,61.0 77.0,60.8 78.5,59.4 C80.1,58.0 80.3,56.2 80.3,53.4 C80.3,50.6 79.2,46.4 78.5,42.4 C77.8,38.4 77.0,33.9 76.0,29.4 C75.1,24.9 73.6,18.8 72.8,15.4 C72.0,12.0 71.8,11.1 71.1,9.0 C70.5,6.9 72.5,4.0 69.0,3.0 C65.4,2.0 53.2,2.0 49.8,3.0Z" fill="#121212" opacity=".6" filter="url(#blur)"/><path d="M60.6,61.4 Q60.0,82.2 56.6,102.0" stroke="#ededed" stroke-width="2.9" fill="none"/><path d="M46.5,56.4 L45.5,67.4" stroke="#dedede" stroke-width="4.6" stroke-linecap="round" fill="none"/><path d="M45.5,67.4 L49.4,73.4" stroke="#e9e9e9" stroke-width="3" stroke-linecap="round" fill="none"/><circle cx="49.4" cy="73.4" r="1.9" fill="#f4f4f4"/><path d="M69.5,56.4 L78.2,61.7" stroke="#dedede" stroke-width="4.6" stroke-linecap="round" fill="none"/><path d="M78.2,61.7 L88.8,62.0" stroke="#e9e9e9" stroke-width="3" stroke-linecap="round" fill="none"/><circle cx="88.8" cy="62.0" r="1.9" fill="#f4f4f4"/><path d="M64.0,24.4 L85.0,18.4" stroke="#d8d8d8" stroke-width="3.8" stroke-linecap="round" fill="none"/><circle cx="85.0" cy="18.4" r="2.1" fill="#f0f0f0"/><ellipse cx="46.0" cy="-5.0" rx="4.6" ry="5.6" fill="#bababa"/><ellipse cx="64.0" cy="-5.0" rx="4.6" ry="5.6" fill="#bababa"/><ellipse cx="46.0" cy="-5.0" rx="2.4" ry="3.4" fill="#8e8e8e"/><ellipse cx="64.0" cy="-5.0" rx="2.4" ry="3.4" fill="#8e8e8e"/><ellipse cx="55.0" cy="-3.0" rx="10.4" ry="11.4" fill="#dadada"/><path d="M45.6,2.0 C42.2,3.0 44.8,5.9 44.5,8.0 C44.3,10.1 44.2,11.0 44.0,14.4 C43.8,17.8 43.7,23.9 43.4,28.4 C43.1,32.9 42.3,37.4 42.1,41.4 C41.9,45.4 41.5,49.6 42.1,52.4 C42.6,55.2 43.4,57.0 45.3,58.4 C47.3,59.8 51.4,60.0 53.7,60.9 C56.0,61.8 57.8,63.5 59.2,64.0 C60.6,64.5 60.8,64.5 62.0,64.0 C63.2,63.5 64.6,61.8 66.7,60.9 C68.8,60.0 72.8,59.8 74.3,58.4 C75.9,57.0 76.1,55.2 76.1,52.4 C76.1,49.6 75.0,45.4 74.3,41.4 C73.6,37.4 72.8,32.9 71.8,28.4 C70.9,23.9 69.4,17.8 68.6,14.4 C67.8,11.0 67.6,10.1 66.9,8.0 C66.3,5.9 68.3,3.0 64.8,2.0 C61.2,1.0 49.0,1.0 45.6,2.0Z" fill="url(#body)"/><path d="M45.6,2.0 C42.2,3.0 44.8,5.9 44.5,8.0 C44.3,10.1 44.2,11.0 44.0,14.4 C43.8,17.8 43.7,23.9 43.4,28.4 C43.1,32.9 42.3,37.4 42.1,41.4 C41.9,45.4 41.5,49.6 42.1,52.4 C42.6,55.2 43.4,57.0 45.3,58.4 C47.3,59.8 51.4,60.0 53.7,60.9 C56.0,61.8 57.8,63.5 59.2,64.0 C60.6,64.5 60.8,64.5 62.0,64.0 C63.2,63.5 64.6,61.8 66.7,60.9 C68.8,60.0 72.8,59.8 74.3,58.4 C75.9,57.0 76.1,55.2 76.1,52.4 C76.1,49.6 75.0,45.4 74.3,41.4 C73.6,37.4 72.8,32.9 71.8,28.4 C70.9,23.9 69.4,17.8 68.6,14.4 C67.8,11.0 67.6,10.1 66.9,8.0 C66.3,5.9 68.3,3.0 64.8,2.0 C61.2,1.0 49.0,1.0 45.6,2.0Z" fill="url(#edge)"/><ellipse cx="56.9" cy="20.4" rx="2" ry="3" fill="#fff" opacity=".7"/><ellipse cx="56.6" cy="45.9" rx="8.5" ry="12.0" fill="#fbeeff" opacity=".5"/><ellipse cx="56.6" cy="45.9" rx="7.8" ry="11.0" fill="url(#L5)"/></svg>
<svg x="1185" y="749" width="186" height="185" viewBox="0 0 100 100" preserveAspectRatio="none"><rect width="100" height="100" fill="#3b3b3b"/><path d="M69.0,0 L85.0,0 L73.0,33.8 Z" fill="#262626" opacity=".55"/><path d="M5.9,0 V100 M17.7,13.0 H90.6 V90.2 H17.7 Z M29.2,25.7 H77.9 V77.4 H29.2 Z" stroke="#1d1d1d" stroke-width="1.05" fill="none"/><path d="M53.8,9.0 C50.3,10.0 52.7,12.0 52.3,15.0 C51.9,18.0 51.9,22.5 51.5,26.8 C51.1,31.1 50.5,36.3 49.9,40.8 C49.3,45.3 48.5,49.8 48.0,53.8 C47.6,57.8 46.7,62.0 47.0,64.8 C47.2,67.6 47.6,69.4 49.3,70.8 C51.0,72.2 55.0,72.4 57.2,73.3 C59.3,74.2 60.9,75.9 62.2,76.4 C63.5,76.9 63.7,76.9 65.0,76.4 C66.3,75.9 68.0,74.2 70.2,73.3 C72.4,72.4 76.5,72.2 78.3,70.8 C80.1,69.4 80.6,67.6 81.0,64.8 C81.3,62.0 80.7,57.8 80.2,53.8 C79.8,49.8 79.0,45.3 78.3,40.8 C77.6,36.3 76.7,31.1 76.1,26.8 C75.5,22.5 75.2,18.0 74.7,15.0 C74.2,12.0 76.5,10.0 73.0,9.0 C69.5,8.0 57.2,8.0 53.8,9.0Z" fill="#121212" opacity=".6" filter="url(#blur)"/><path d="M59.4,72.8 Q59.4,87.9 59.4,102.0" stroke="#ededed" stroke-width="2.9" fill="none"/><path d="M48.5,67.8 L39.7,70.7" stroke="#dedede" stroke-width="4.6" stroke-linecap="round" fill="none"/><path d="M39.7,70.7 L29.0,68.6" stroke="#e9e9e9" stroke-width="3" stroke-linecap="round" fill="none"/><circle cx="29.0" cy="68.6" r="1.9" fill="#f4f4f4"/><path d="M71.5,67.8 L72.5,73.2" stroke="#dedede" stroke-width="4.6" stroke-linecap="round" fill="none"/><path d="M72.5,73.2 L77.0,73.5" stroke="#e9e9e9" stroke-width="3" stroke-linecap="round" fill="none"/><circle cx="77.0" cy="73.5" r="1.9" fill="#f4f4f4"/><ellipse cx="50.0" cy="1.0" rx="4.6" ry="5.6" fill="#bababa"/><ellipse cx="68.0" cy="1.0" rx="4.6" ry="5.6" fill="#bababa"/><ellipse cx="50.0" cy="1.0" rx="2.4" ry="3.4" fill="#8e8e8e"/><ellipse cx="68.0" cy="1.0" rx="2.4" ry="3.4" fill="#8e8e8e"/><ellipse cx="59.0" cy="3.0" rx="10.4" ry="11.4" fill="#dadada"/><path d="M49.6,8.0 C46.1,9.0 48.5,11.0 48.1,14.0 C47.7,17.0 47.7,21.5 47.3,25.8 C46.9,30.1 46.3,35.3 45.7,39.8 C45.1,44.3 44.3,48.8 43.8,52.8 C43.4,56.8 42.5,61.0 42.8,63.8 C43.0,66.6 43.4,68.4 45.1,69.8 C46.8,71.2 50.8,71.4 53.0,72.3 C55.1,73.2 56.7,74.9 58.0,75.4 C59.3,75.9 59.5,75.9 60.8,75.4 C62.1,74.9 63.8,73.2 66.0,72.3 C68.2,71.4 72.3,71.2 74.1,69.8 C75.9,68.4 76.4,66.6 76.8,63.8 C77.1,61.0 76.5,56.8 76.0,52.8 C75.6,48.8 74.8,44.3 74.1,39.8 C73.4,35.3 72.5,30.1 71.9,25.8 C71.3,21.5 71.0,17.0 70.5,14.0 C70.0,11.0 72.3,9.0 68.8,8.0 C65.3,7.0 53.0,7.0 49.6,8.0Z" fill="url(#body)"/><path d="M49.6,8.0 C46.1,9.0 48.5,11.0 48.1,14.0 C47.7,17.0 47.7,21.5 47.3,25.8 C46.9,30.1 46.3,35.3 45.7,39.8 C45.1,44.3 44.3,48.8 43.8,52.8 C43.4,56.8 42.5,61.0 42.8,63.8 C43.0,66.6 43.4,68.4 45.1,69.8 C46.8,71.2 50.8,71.4 53.0,72.3 C55.1,73.2 56.7,74.9 58.0,75.4 C59.3,75.9 59.5,75.9 60.8,75.4 C62.1,74.9 63.8,73.2 66.0,72.3 C68.2,71.4 72.3,71.2 74.1,69.8 C75.9,68.4 76.4,66.6 76.8,63.8 C77.1,61.0 76.5,56.8 76.0,52.8 C75.6,48.8 74.8,44.3 74.1,39.8 C73.4,35.3 72.5,30.1 71.9,25.8 C71.3,21.5 71.0,17.0 70.5,14.0 C70.0,11.0 72.3,9.0 68.8,8.0 C65.3,7.0 53.0,7.0 49.6,8.0Z" fill="url(#edge)"/><ellipse cx="59.7" cy="31.8" rx="2" ry="3" fill="#fff" opacity=".7"/><ellipse cx="52.0" cy="59.6" rx="2.6" ry="2.6" fill="url(#L2r)"/></svg>
<svg x="1185" y="946" width="186" height="184" viewBox="0 0 100 100" preserveAspectRatio="none"><rect width="100" height="100" fill="#3b3b3b"/><path d="M68.0,0 L84.0,0 L72.4,27.8 Z" fill="#262626" opacity=".55"/><path d="M6.9,0 V100 M18.7,10.8 H91.6 V88.0 H18.7 Z M30.2,23.5 H78.9 V75.2 H30.2 Z" stroke="#1d1d1d" stroke-width="1.05" fill="none"/><path d="M53.0,13.0 C49.6,14.0 52.1,17.7 51.7,19.0 C51.3,20.3 51.0,18.2 50.6,20.8 C50.2,23.4 49.8,30.3 49.3,34.8 C48.7,39.3 47.9,43.8 47.5,47.8 C47.0,51.8 46.2,56.0 46.4,58.8 C46.7,61.6 47.1,63.4 48.8,64.8 C50.5,66.2 54.6,66.4 56.8,67.3 C58.9,68.2 60.5,69.9 61.8,70.4 C63.1,70.9 63.3,70.9 64.6,70.4 C65.9,69.9 67.6,68.2 69.8,67.3 C72.0,66.4 76.0,66.2 77.8,64.8 C79.6,63.4 80.1,61.6 80.4,58.8 C80.7,56.0 80.1,51.8 79.7,47.8 C79.2,43.8 78.4,39.3 77.7,34.8 C76.9,30.3 75.8,23.4 75.2,20.8 C74.6,18.2 74.6,20.3 74.1,19.0 C73.6,17.7 75.7,14.0 72.2,13.0 C68.7,12.0 56.5,12.0 53.0,13.0Z" fill="#121212" opacity=".6" filter="url(#blur)"/><path d="M59.0,66.8 Q59.2,84.9 60.6,102.0" stroke="#ededed" stroke-width="2.9" fill="none"/><path d="M47.9,61.8 L39.6,70.7" stroke="#dedede" stroke-width="4.6" stroke-linecap="round" fill="none"/><path d="M39.6,70.7 L29.4,74.5" stroke="#e9e9e9" stroke-width="3" stroke-linecap="round" fill="none"/><circle cx="29.4" cy="74.5" r="1.9" fill="#f4f4f4"/><path d="M70.9,61.8 L76.3,71.6" stroke="#dedede" stroke-width="4.6" stroke-linecap="round" fill="none"/><path d="M76.3,71.6 L83.0,76.4" stroke="#e9e9e9" stroke-width="3" stroke-linecap="round" fill="none"/><circle cx="83.0" cy="76.4" r="1.9" fill="#f4f4f4"/><ellipse cx="49.0" cy="5.0" rx="4.6" ry="5.6" fill="#bababa"/><ellipse cx="67.0" cy="5.0" rx="4.6" ry="5.6" fill="#bababa"/><ellipse cx="49.0" cy="5.0" rx="2.4" ry="3.4" fill="#8e8e8e"/><ellipse cx="67.0" cy="5.0" rx="2.4" ry="3.4" fill="#8e8e8e"/><ellipse cx="58.0" cy="7.0" rx="10.4" ry="11.4" fill="#dadada"/><path d="M48.8,12.0 C45.4,13.0 47.9,16.7 47.5,18.0 C47.1,19.3 46.8,17.2 46.4,19.8 C46.0,22.4 45.6,29.3 45.1,33.8 C44.5,38.3 43.7,42.8 43.3,46.8 C42.8,50.8 42.0,55.0 42.2,57.8 C42.5,60.6 42.9,62.4 44.6,63.8 C46.3,65.2 50.4,65.4 52.6,66.3 C54.7,67.2 56.3,68.9 57.6,69.4 C58.9,69.9 59.1,69.9 60.4,69.4 C61.7,68.9 63.4,67.2 65.6,66.3 C67.8,65.4 71.8,65.2 73.6,63.8 C75.4,62.4 75.9,60.6 76.2,57.8 C76.5,55.0 75.9,50.8 75.5,46.8 C75.0,42.8 74.2,38.3 73.5,33.8 C72.7,29.3 71.6,22.4 71.0,19.8 C70.4,17.2 70.4,19.3 69.9,18.0 C69.4,16.7 71.5,13.0 68.0,12.0 C64.5,11.0 52.3,11.0 48.8,12.0Z" fill="url(#body)"/><path d="M48.8,12.0 C45.4,13.0 47.9,16.7 47.5,18.0 C47.1,19.3 46.8,17.2 46.4,19.8 C46.0,22.4 45.6,29.3 45.1,33.8 C44.5,38.3 43.7,42.8 43.3,46.8 C42.8,50.8 42.0,55.0 42.2,57.8 C42.5,60.6 42.9,62.4 44.6,63.8 C46.3,65.2 50.4,65.4 52.6,66.3 C54.7,67.2 56.3,68.9 57.6,69.4 C58.9,69.9 59.1,69.9 60.4,69.4 C61.7,68.9 63.4,67.2 65.6,66.3 C67.8,65.4 71.8,65.2 73.6,63.8 C75.4,62.4 75.9,60.6 76.2,57.8 C76.5,55.0 75.9,50.8 75.5,46.8 C75.0,42.8 74.2,38.3 73.5,33.8 C72.7,29.3 71.6,22.4 71.0,19.8 C70.4,17.2 70.4,19.3 69.9,18.0 C69.4,16.7 71.5,13.0 68.0,12.0 C64.5,11.0 52.3,11.0 48.8,12.0Z" fill="url(#edge)"/><ellipse cx="59.0" cy="25.8" rx="2" ry="3" fill="#fff" opacity=".7"/><ellipse cx="48.5" cy="52.6" rx="7.3" ry="7.3" fill="#fbeeff" opacity=".5"/><ellipse cx="48.5" cy="52.6" rx="6.7" ry="6.7" fill="url(#L6)"/></svg>
<svg x="1185" y="1145" width="186" height="184" viewBox="0 0 100 100" preserveAspectRatio="none"><rect width="100" height="100" fill="#3b3b3b"/><path d="M60.0,0 L76.0,0 L63.8,26.0 Z" fill="#262626" opacity=".55"/><path d="M5.1,0 V100 M16.9,13.6 H89.8 V90.8 H16.9 Z M28.4,26.3 H77.1 V78.0 H28.4 Z" stroke="#1d1d1d" stroke-width="1.05" fill="none"/><path d="M44.9,14.0 C41.4,15.0 44.1,16.8 43.4,20.0 C42.7,23.2 41.4,28.7 40.7,33.0 C40.0,37.3 39.4,42.0 39.0,46.0 C38.6,50.0 38.1,54.2 38.5,57.0 C38.9,59.8 39.5,61.6 41.3,63.0 C43.2,64.4 47.3,64.6 49.5,65.5 C51.8,66.4 53.5,68.1 54.8,68.6 C56.1,69.1 56.3,69.1 57.6,68.6 C58.9,68.1 60.4,66.4 62.5,65.5 C64.6,64.6 68.7,64.4 70.3,63.0 C72.0,61.6 72.4,59.8 72.5,57.0 C72.6,54.2 71.8,50.0 71.2,46.0 C70.6,42.0 70.0,37.3 69.1,33.0 C68.2,28.7 66.7,23.2 65.8,20.0 C65.0,16.8 67.6,15.0 64.1,14.0 C60.6,13.0 48.3,13.0 44.9,14.0Z" fill="#121212" opacity=".6" filter="url(#blur)"/><path d="M52.0,65.0 Q52.0,84.0 52.3,102.0" stroke="#ededed" stroke-width="2.9" fill="none"/><path d="M39.3,60.0 L33.6,67.0" stroke="#dedede" stroke-width="4.6" stroke-linecap="round" fill="none"/><path d="M33.6,67.0 L26.6,69.0" stroke="#e9e9e9" stroke-width="3" stroke-linecap="round" fill="none"/><circle cx="26.6" cy="69.0" r="1.9" fill="#f4f4f4"/><path d="M62.3,60.0 L67.7,66.7" stroke="#dedede" stroke-width="4.6" stroke-linecap="round" fill="none"/><path d="M67.7,66.7 L74.2,68.3" stroke="#e9e9e9" stroke-width="3" stroke-linecap="round" fill="none"/><circle cx="74.2" cy="68.3" r="1.9" fill="#f4f4f4"/><ellipse cx="41.0" cy="6.0" rx="4.6" ry="5.6" fill="#bababa"/><ellipse cx="59.0" cy="6.0" rx="4.6" ry="5.6" fill="#bababa"/><ellipse cx="41.0" cy="6.0" rx="2.4" ry="3.4" fill="#8e8e8e"/><ellipse cx="59.0" cy="6.0" rx="2.4" ry="3.4" fill="#8e8e8e"/><ellipse cx="50.0" cy="8.0" rx="10.4" ry="11.4" fill="#dadada"/><path d="M40.7,13.0 C37.2,14.0 39.9,15.8 39.2,19.0 C38.5,22.2 37.2,27.7 36.5,32.0 C35.8,36.3 35.2,41.0 34.8,45.0 C34.4,49.0 33.9,53.2 34.3,56.0 C34.7,58.8 35.3,60.6 37.1,62.0 C39.0,63.4 43.1,63.6 45.3,64.5 C47.6,65.4 49.3,67.1 50.6,67.6 C51.9,68.1 52.1,68.1 53.4,67.6 C54.7,67.1 56.2,65.4 58.3,64.5 C60.4,63.6 64.5,63.4 66.1,62.0 C67.8,60.6 68.2,58.8 68.3,56.0 C68.4,53.2 67.6,49.0 67.0,45.0 C66.4,41.0 65.8,36.3 64.9,32.0 C64.0,27.7 62.5,22.2 61.6,19.0 C60.8,15.8 63.4,14.0 59.9,13.0 C56.4,12.0 44.1,12.0 40.7,13.0Z" fill="url(#body)"/><path d="M40.7,13.0 C37.2,14.0 39.9,15.8 39.2,19.0 C38.5,22.2 37.2,27.7 36.5,32.0 C35.8,36.3 35.2,41.0 34.8,45.0 C34.4,49.0 33.9,53.2 34.3,56.0 C34.7,58.8 35.3,60.6 37.1,62.0 C39.0,63.4 43.1,63.6 45.3,64.5 C47.6,65.4 49.3,67.1 50.6,67.6 C51.9,68.1 52.1,68.1 53.4,67.6 C54.7,67.1 56.2,65.4 58.3,64.5 C60.4,63.6 64.5,63.4 66.1,62.0 C67.8,60.6 68.2,58.8 68.3,56.0 C68.4,53.2 67.6,49.0 67.0,45.0 C66.4,41.0 65.8,36.3 64.9,32.0 C64.0,27.7 62.5,22.2 61.6,19.0 C60.8,15.8 63.4,14.0 59.9,13.0 C56.4,12.0 44.1,12.0 40.7,13.0Z" fill="url(#edge)"/><ellipse cx="50.5" cy="24.0" rx="2" ry="3" fill="#fff" opacity=".7"/><ellipse cx="42.9" cy="52.2" rx="9.0" ry="9.0" fill="#fbeeff" opacity=".5"/><ellipse cx="42.9" cy="52.2" rx="8.3" ry="8.3" fill="url(#L4)"/></svg>
<svg x="1185" y="1342.5" width="186" height="183.0" viewBox="0 0 100 100" preserveAspectRatio="none"><rect width="100" height="100" fill="#3b3b3b"/><path d="M60.0,0 L76.0,0 L63.9,33.6 Z" fill="#262626" opacity=".55"/><path d="M5.6,0 V100 M17.4,13.1 H90.3 V90.3 H17.4 Z M28.9,25.8 H77.6 V77.5 H28.9 Z" stroke="#1d1d1d" stroke-width="1.05" fill="none"/><path d="M44.9,14.0 C41.4,15.0 43.8,17.9 43.4,20.0 C43.0,22.1 42.9,23.2 42.4,26.6 C42.0,30.0 41.4,36.1 40.8,40.6 C40.2,45.1 39.4,49.6 38.9,53.6 C38.4,57.6 37.6,61.8 37.7,64.6 C37.9,67.4 38.3,69.2 40.0,70.6 C41.7,72.0 45.7,72.2 47.8,73.1 C50.0,74.0 51.5,75.7 52.8,76.2 C54.1,76.7 54.3,76.7 55.6,76.2 C56.9,75.7 58.6,74.0 60.8,73.1 C63.1,72.2 67.2,72.0 69.0,70.6 C70.8,69.2 71.4,67.4 71.7,64.6 C72.1,61.8 71.5,57.6 71.1,53.6 C70.7,49.6 69.9,45.1 69.2,40.6 C68.5,36.1 67.6,30.0 67.0,26.6 C66.5,23.2 66.3,22.1 65.8,20.0 C65.3,17.9 67.6,15.0 64.1,14.0 C60.6,13.0 48.3,13.0 44.9,14.0Z" fill="#121212" opacity=".6" filter="url(#blur)"/><path d="M50.0,72.6 Q49.9,87.8 49.6,102.0" stroke="#ededed" stroke-width="2.9" fill="none"/><path d="M39.4,67.6 L33.0,75.8" stroke="#dedede" stroke-width="4.6" stroke-linecap="round" fill="none"/><path d="M33.0,75.8 L25.2,79.0" stroke="#e9e9e9" stroke-width="3" stroke-linecap="round" fill="none"/><circle cx="25.2" cy="79.0" r="1.9" fill="#f4f4f4"/><path d="M62.4,67.6 L69.6,75.5" stroke="#dedede" stroke-width="4.6" stroke-linecap="round" fill="none"/><path d="M69.6,75.5 L78.4,78.4" stroke="#e9e9e9" stroke-width="3" stroke-linecap="round" fill="none"/><circle cx="78.4" cy="78.4" r="1.9" fill="#f4f4f4"/><ellipse cx="41.0" cy="6.0" rx="4.6" ry="5.6" fill="#bababa"/><ellipse cx="59.0" cy="6.0" rx="4.6" ry="5.6" fill="#bababa"/><ellipse cx="41.0" cy="6.0" rx="2.4" ry="3.4" fill="#8e8e8e"/><ellipse cx="59.0" cy="6.0" rx="2.4" ry="3.4" fill="#8e8e8e"/><ellipse cx="50.0" cy="8.0" rx="10.4" ry="11.4" fill="#dadada"/><path d="M40.7,13.0 C37.2,14.0 39.6,16.9 39.2,19.0 C38.8,21.1 38.7,22.2 38.2,25.6 C37.8,29.0 37.2,35.1 36.6,39.6 C36.0,44.1 35.2,48.6 34.7,52.6 C34.2,56.6 33.4,60.8 33.5,63.6 C33.7,66.4 34.1,68.2 35.8,69.6 C37.5,71.0 41.5,71.2 43.6,72.1 C45.8,73.0 47.3,74.7 48.6,75.2 C49.9,75.7 50.1,75.7 51.4,75.2 C52.7,74.7 54.4,73.0 56.6,72.1 C58.9,71.2 63.0,71.0 64.8,69.6 C66.6,68.2 67.2,66.4 67.5,63.6 C67.9,60.8 67.3,56.6 66.9,52.6 C66.5,48.6 65.7,44.1 65.0,39.6 C64.3,35.1 63.4,29.0 62.8,25.6 C62.3,22.2 62.1,21.1 61.6,19.0 C61.1,16.9 63.4,14.0 59.9,13.0 C56.4,12.0 44.1,12.0 40.7,13.0Z" fill="url(#body)"/><path d="M40.7,13.0 C37.2,14.0 39.6,16.9 39.2,19.0 C38.8,21.1 38.7,22.2 38.2,25.6 C37.8,29.0 37.2,35.1 36.6,39.6 C36.0,44.1 35.2,48.6 34.7,52.6 C34.2,56.6 33.4,60.8 33.5,63.6 C33.7,66.4 34.1,68.2 35.8,69.6 C37.5,71.0 41.5,71.2 43.6,72.1 C45.8,73.0 47.3,74.7 48.6,75.2 C49.9,75.7 50.1,75.7 51.4,75.2 C52.7,74.7 54.4,73.0 56.6,72.1 C58.9,71.2 63.0,71.0 64.8,69.6 C66.6,68.2 67.2,66.4 67.5,63.6 C67.9,60.8 67.3,56.6 66.9,52.6 C66.5,48.6 65.7,44.1 65.0,39.6 C64.3,35.1 63.4,29.0 62.8,25.6 C62.3,22.2 62.1,21.1 61.6,19.0 C61.1,16.9 63.4,14.0 59.9,13.0 C56.4,12.0 44.1,12.0 40.7,13.0Z" fill="url(#edge)"/><ellipse cx="50.7" cy="31.6" rx="2" ry="3" fill="#fff" opacity=".7"/><ellipse cx="43.4" cy="54.6" rx="12.0" ry="12.0" fill="#fbeeff" opacity=".5"/><ellipse cx="43.4" cy="54.6" rx="11.0" ry="11.0" fill="url(#L7b)"/></svg>
<svg x="1396.5" y="748" width="188.0" height="187.5" viewBox="0 0 100 100" preserveAspectRatio="none"><rect width="100" height="100" fill="#3b3b3b"/><path d="M63.0,0 L79.0,0 L69.0,36.8 Z" fill="#262626" opacity=".55"/><path d="M6.4,0 V100 M18.2,13.3 H91.1 V90.5 H18.2 Z M29.7,26.0 H78.4 V77.7 H29.7 Z" stroke="#1d1d1d" stroke-width="1.05" fill="none"/><path d="M48.4,14.0 C45.0,15.0 47.5,17.4 47.2,20.0 C46.9,22.6 47.0,25.8 46.7,29.8 C46.5,33.8 46.2,39.3 45.7,43.8 C45.3,48.3 44.5,52.8 44.2,56.8 C43.9,60.8 43.4,65.0 43.9,67.8 C44.3,70.6 45.0,72.4 46.8,73.8 C48.7,75.2 52.8,75.4 55.1,76.3 C57.3,77.2 59.0,78.9 60.4,79.4 C61.8,79.9 61.9,79.9 63.2,79.4 C64.5,78.9 65.9,77.2 68.1,76.3 C70.2,75.4 74.2,75.2 75.8,73.8 C77.5,72.4 77.8,70.6 77.9,67.8 C78.0,65.0 77.1,60.8 76.4,56.8 C75.8,52.8 75.0,48.3 74.1,43.8 C73.3,39.3 72.1,33.8 71.3,29.8 C70.6,25.8 70.2,22.6 69.6,20.0 C69.0,17.4 71.2,15.0 67.6,14.0 C64.1,13.0 51.8,13.0 48.4,14.0Z" fill="#121212" opacity=".6" filter="url(#blur)"/><path d="M57.6,75.8 Q57.5,89.4 57.0,102.0" stroke="#ededed" stroke-width="2.9" fill="none"/><path d="M44.5,70.8 L43.5,77.2" stroke="#dedede" stroke-width="4.6" stroke-linecap="round" fill="none"/><path d="M43.5,77.2 L40.5,78.5" stroke="#e9e9e9" stroke-width="3" stroke-linecap="round" fill="none"/><circle cx="40.5" cy="78.5" r="1.9" fill="#f4f4f4"/><path d="M67.5,70.8 L76.7,75.3" stroke="#dedede" stroke-width="4.6" stroke-linecap="round" fill="none"/><path d="M76.7,75.3 L88.0,74.8" stroke="#e9e9e9" stroke-width="3" stroke-linecap="round" fill="none"/><circle cx="88.0" cy="74.8" r="1.9" fill="#f4f4f4"/><path d="M62.0,23.0 L73.0,14.0" stroke="#d8d8d8" stroke-width="3.8" stroke-linecap="round" fill="none"/><circle cx="73.0" cy="14.0" r="2.1" fill="#f0f0f0"/><ellipse cx="44.0" cy="6.0" rx="4.6" ry="5.6" fill="#bababa"/><ellipse cx="62.0" cy="6.0" rx="4.6" ry="5.6" fill="#bababa"/><ellipse cx="44.0" cy="6.0" rx="2.4" ry="3.4" fill="#8e8e8e"/><ellipse cx="62.0" cy="6.0" rx="2.4" ry="3.4" fill="#8e8e8e"/><ellipse cx="53.0" cy="8.0" rx="10.4" ry="11.4" fill="#dadada"/><path d="M44.2,13.0 C40.8,14.0 43.3,16.4 43.0,19.0 C42.7,21.6 42.8,24.8 42.5,28.8 C42.3,32.8 42.0,38.3 41.5,42.8 C41.1,47.3 40.3,51.8 40.0,55.8 C39.7,59.8 39.2,64.0 39.7,66.8 C40.1,69.6 40.8,71.4 42.6,72.8 C44.5,74.2 48.6,74.4 50.9,75.3 C53.1,76.2 54.8,77.9 56.2,78.4 C57.6,78.9 57.7,78.9 59.0,78.4 C60.3,77.9 61.7,76.2 63.9,75.3 C66.0,74.4 70.0,74.2 71.6,72.8 C73.3,71.4 73.6,69.6 73.7,66.8 C73.8,64.0 72.9,59.8 72.2,55.8 C71.6,51.8 70.8,47.3 69.9,42.8 C69.1,38.3 67.9,32.8 67.1,28.8 C66.4,24.8 66.0,21.6 65.4,19.0 C64.8,16.4 67.0,14.0 63.4,13.0 C59.9,12.0 47.6,12.0 44.2,13.0Z" fill="url(#body)"/><path d="M44.2,13.0 C40.8,14.0 43.3,16.4 43.0,19.0 C42.7,21.6 42.8,24.8 42.5,28.8 C42.3,32.8 42.0,38.3 41.5,42.8 C41.1,47.3 40.3,51.8 40.0,55.8 C39.7,59.8 39.2,64.0 39.7,66.8 C40.1,69.6 40.8,71.4 42.6,72.8 C44.5,74.2 48.6,74.4 50.9,75.3 C53.1,76.2 54.8,77.9 56.2,78.4 C57.6,78.9 57.7,78.9 59.0,78.4 C60.3,77.9 61.7,76.2 63.9,75.3 C66.0,74.4 70.0,74.2 71.6,72.8 C73.3,71.4 73.6,69.6 73.7,66.8 C73.8,64.0 72.9,59.8 72.2,55.8 C71.6,51.8 70.8,47.3 69.9,42.8 C69.1,38.3 67.9,32.8 67.1,28.8 C66.4,24.8 66.0,21.6 65.4,19.0 C64.8,16.4 67.0,14.0 63.4,13.0 C59.9,12.0 47.6,12.0 44.2,13.0Z" fill="url(#edge)"/><ellipse cx="55.2" cy="34.8" rx="2" ry="3" fill="#fff" opacity=".7"/><ellipse cx="49.6" cy="57.9" rx="2.7" ry="2.7" fill="url(#L1)"/></svg>
<svg x="1396.5" y="945" width="188.0" height="186.5" viewBox="0 0 100 100" preserveAspectRatio="none"><rect width="100" height="100" fill="#3b3b3b"/><path d="M72.0,0 L88.0,0 L76.5,41.0 Z" fill="#262626" opacity=".55"/><path d="M5.1,0 V100 M16.9,12.2 H89.8 V89.4 H16.9 Z M28.4,24.9 H77.1 V76.6 H28.4 Z" stroke="#1d1d1d" stroke-width="1.05" fill="none"/><path d="M56.7,4.0 C53.3,5.0 55.6,5.0 55.3,10.0 C55.0,15.0 55.2,27.7 54.9,34.0 C54.6,40.3 53.9,43.5 53.4,48.0 C52.8,52.5 52.1,57.0 51.7,61.0 C51.2,65.0 50.6,69.2 50.9,72.0 C51.3,74.8 51.8,76.6 53.6,78.0 C55.4,79.4 59.5,79.6 61.7,80.5 C63.9,81.4 65.6,83.1 66.9,83.6 C68.2,84.1 68.4,84.1 69.7,83.6 C71.0,83.1 72.6,81.4 74.7,80.5 C76.9,79.6 80.9,79.4 82.6,78.0 C84.3,76.6 84.7,74.8 84.9,72.0 C85.2,69.2 84.4,65.0 83.9,61.0 C83.3,57.0 82.5,52.5 81.8,48.0 C81.1,43.5 80.2,40.3 79.5,34.0 C78.8,27.7 78.3,15.0 77.7,10.0 C77.1,5.0 79.4,5.0 75.9,4.0 C72.4,3.0 60.1,3.0 56.7,4.0Z" fill="#121212" opacity=".6" filter="url(#blur)"/><path d="M64.1,80.0 Q64.1,91.5 64.1,102.0" stroke="#ededed" stroke-width="2.9" fill="none"/><path d="M52.0,75.0 L48.1,82.3" stroke="#dedede" stroke-width="4.6" stroke-linecap="round" fill="none"/><path d="M48.1,82.3 L43.4,84.6" stroke="#e9e9e9" stroke-width="3" stroke-linecap="round" fill="none"/><circle cx="43.4" cy="84.6" r="1.9" fill="#f4f4f4"/><path d="M75.0,75.0 L81.6,78.6" stroke="#dedede" stroke-width="4.6" stroke-linecap="round" fill="none"/><path d="M81.6,78.6 L89.7,77.2" stroke="#e9e9e9" stroke-width="3" stroke-linecap="round" fill="none"/><circle cx="89.7" cy="77.2" r="1.9" fill="#f4f4f4"/><path d="M53.0,24.0 L46.0,18.0" stroke="#d8d8d8" stroke-width="3.8" stroke-linecap="round" fill="none"/><circle cx="46.0" cy="18.0" r="2.1" fill="#f0f0f0"/><path d="M71.0,18.0 L77.0,12.0" stroke="#d8d8d8" stroke-width="3.8" stroke-linecap="round" fill="none"/><circle cx="77.0" cy="12.0" r="2.1" fill="#f0f0f0"/><ellipse cx="53.0" cy="-4.0" rx="4.6" ry="5.6" fill="#bababa"/><ellipse cx="71.0" cy="-4.0" rx="4.6" ry="5.6" fill="#bababa"/><ellipse cx="53.0" cy="-4.0" rx="2.4" ry="3.4" fill="#8e8e8e"/><ellipse cx="71.0" cy="-4.0" rx="2.4" ry="3.4" fill="#8e8e8e"/><ellipse cx="62.0" cy="-2.0" rx="10.4" ry="11.4" fill="#dadada"/><path d="M52.5,3.0 C49.1,4.0 51.4,4.0 51.1,9.0 C50.8,14.0 51.0,26.7 50.7,33.0 C50.4,39.3 49.7,42.5 49.2,47.0 C48.6,51.5 47.9,56.0 47.5,60.0 C47.0,64.0 46.4,68.2 46.7,71.0 C47.1,73.8 47.6,75.6 49.4,77.0 C51.2,78.4 55.3,78.6 57.5,79.5 C59.7,80.4 61.4,82.1 62.7,82.6 C64.0,83.1 64.2,83.1 65.5,82.6 C66.8,82.1 68.4,80.4 70.5,79.5 C72.7,78.6 76.7,78.4 78.4,77.0 C80.1,75.6 80.5,73.8 80.7,71.0 C81.0,68.2 80.2,64.0 79.7,60.0 C79.1,56.0 78.3,51.5 77.6,47.0 C76.9,42.5 76.0,39.3 75.3,33.0 C74.6,26.7 74.1,14.0 73.5,9.0 C72.9,4.0 75.2,4.0 71.7,3.0 C68.2,2.0 55.9,2.0 52.5,3.0Z" fill="url(#body)"/><path d="M52.5,3.0 C49.1,4.0 51.4,4.0 51.1,9.0 C50.8,14.0 51.0,26.7 50.7,33.0 C50.4,39.3 49.7,42.5 49.2,47.0 C48.6,51.5 47.9,56.0 47.5,60.0 C47.0,64.0 46.4,68.2 46.7,71.0 C47.1,73.8 47.6,75.6 49.4,77.0 C51.2,78.4 55.3,78.6 57.5,79.5 C59.7,80.4 61.4,82.1 62.7,82.6 C64.0,83.1 64.2,83.1 65.5,82.6 C66.8,82.1 68.4,80.4 70.5,79.5 C72.7,78.6 76.7,78.4 78.4,77.0 C80.1,75.6 80.5,73.8 80.7,71.0 C81.0,68.2 80.2,64.0 79.7,60.0 C79.1,56.0 78.3,51.5 77.6,47.0 C76.9,42.5 76.0,39.3 75.3,33.0 C74.6,26.7 74.1,14.0 73.5,9.0 C72.9,4.0 75.2,4.0 71.7,3.0 C68.2,2.0 55.9,2.0 52.5,3.0Z" fill="url(#edge)"/><ellipse cx="63.1" cy="39.0" rx="2" ry="3" fill="#fff" opacity=".7"/><ellipse cx="55.2" cy="61.2" rx="2.7" ry="2.7" fill="url(#L1p)"/></svg>
<svg x="1396.5" y="1145" width="188.0" height="185" viewBox="0 0 100 100" preserveAspectRatio="none"><rect width="100" height="100" fill="#3b3b3b"/><path d="M62.0,0 L78.0,0 L68.0,30.0 Z" fill="#262626" opacity=".55"/><path d="M6.2,0 V100 M18.0,11.4 H90.9 V88.6 H18.0 Z M29.5,24.1 H78.2 V75.8 H29.5 Z" stroke="#1d1d1d" stroke-width="1.05" fill="none"/><path d="M47.5,13.0 C44.1,14.0 46.7,17.3 46.4,19.0 C46.0,20.7 45.8,20.0 45.5,23.0 C45.3,26.0 45.1,32.5 44.7,37.0 C44.3,41.5 43.5,46.0 43.1,50.0 C42.7,54.0 41.9,58.2 42.2,61.0 C42.5,63.8 43.0,65.6 44.7,67.0 C46.5,68.4 50.5,68.6 52.7,69.5 C54.9,70.4 56.5,72.1 57.8,72.6 C59.1,73.1 59.3,73.1 60.6,72.6 C61.9,72.1 63.5,70.4 65.7,69.5 C67.9,68.6 72.0,68.4 73.7,67.0 C75.5,65.6 75.9,63.8 76.2,61.0 C76.5,58.2 75.8,54.0 75.3,50.0 C74.8,46.0 74.0,41.5 73.1,37.0 C72.2,32.5 70.9,26.0 70.2,23.0 C69.4,20.0 69.3,20.7 68.8,19.0 C68.2,17.3 70.2,14.0 66.7,13.0 C63.2,12.0 50.9,12.0 47.5,13.0Z" fill="#121212" opacity=".6" filter="url(#blur)"/><path d="M55.0,69.0 Q55.0,86.0 55.0,102.0" stroke="#ededed" stroke-width="2.9" fill="none"/><path d="M43.5,64.0 L37.0,72.8" stroke="#dedede" stroke-width="4.6" stroke-linecap="round" fill="none"/><path d="M37.0,72.8 L29.0,76.7" stroke="#e9e9e9" stroke-width="3" stroke-linecap="round" fill="none"/><circle cx="29.0" cy="76.7" r="1.9" fill="#f4f4f4"/><path d="M66.5,64.0 L75.1,71.0" stroke="#dedede" stroke-width="4.6" stroke-linecap="round" fill="none"/><path d="M75.1,71.0 L85.6,73.0" stroke="#e9e9e9" stroke-width="3" stroke-linecap="round" fill="none"/><circle cx="85.6" cy="73.0" r="1.9" fill="#f4f4f4"/><ellipse cx="43.0" cy="5.0" rx="4.6" ry="5.6" fill="#bababa"/><ellipse cx="61.0" cy="5.0" rx="4.6" ry="5.6" fill="#bababa"/><ellipse cx="43.0" cy="5.0" rx="2.4" ry="3.4" fill="#8e8e8e"/><ellipse cx="61.0" cy="5.0" rx="2.4" ry="3.4" fill="#8e8e8e"/><ellipse cx="52.0" cy="7.0" rx="10.4" ry="11.4" fill="#dadada"/><path d="M43.3,12.0 C39.9,13.0 42.5,16.3 42.2,18.0 C41.8,19.7 41.6,19.0 41.3,22.0 C41.1,25.0 40.9,31.5 40.5,36.0 C40.1,40.5 39.3,45.0 38.9,49.0 C38.5,53.0 37.7,57.2 38.0,60.0 C38.3,62.8 38.8,64.6 40.5,66.0 C42.2,67.4 46.3,67.6 48.5,68.5 C50.7,69.4 52.3,71.1 53.6,71.6 C54.9,72.1 55.1,72.1 56.4,71.6 C57.7,71.1 59.3,69.4 61.5,68.5 C63.7,67.6 67.8,67.4 69.5,66.0 C71.2,64.6 71.7,62.8 72.0,60.0 C72.3,57.2 71.6,53.0 71.1,49.0 C70.6,45.0 69.8,40.5 68.9,36.0 C68.0,31.5 66.7,25.0 66.0,22.0 C65.2,19.0 65.1,19.7 64.5,18.0 C64.0,16.3 66.0,13.0 62.5,12.0 C59.0,11.0 46.7,11.0 43.3,12.0Z" fill="url(#body)"/><path d="M43.3,12.0 C39.9,13.0 42.5,16.3 42.2,18.0 C41.8,19.7 41.6,19.0 41.3,22.0 C41.1,25.0 40.9,31.5 40.5,36.0 C40.1,40.5 39.3,45.0 38.9,49.0 C38.5,53.0 37.7,57.2 38.0,60.0 C38.3,62.8 38.8,64.6 40.5,66.0 C42.2,67.4 46.3,67.6 48.5,68.5 C50.7,69.4 52.3,71.1 53.6,71.6 C54.9,72.1 55.1,72.1 56.4,71.6 C57.7,71.1 59.3,69.4 61.5,68.5 C63.7,67.6 67.8,67.4 69.5,66.0 C71.2,64.6 71.7,62.8 72.0,60.0 C72.3,57.2 71.6,53.0 71.1,49.0 C70.6,45.0 69.8,40.5 68.9,36.0 C68.0,31.5 66.7,25.0 66.0,22.0 C65.2,19.0 65.1,19.7 64.5,18.0 C64.0,16.3 66.0,13.0 62.5,12.0 C59.0,11.0 46.7,11.0 43.3,12.0Z" fill="url(#edge)"/><ellipse cx="54.1" cy="28.0" rx="2" ry="3" fill="#fff" opacity=".7"/><ellipse cx="47.2" cy="50.7" rx="7.1" ry="7.1" fill="#fbeeff" opacity=".5"/><ellipse cx="47.2" cy="50.7" rx="6.5" ry="6.5" fill="url(#L2)"/></svg>
<svg x="1396.5" y="1342.5" width="188.0" height="185.0" viewBox="0 0 100 100" preserveAspectRatio="none"><rect width="100" height="100" fill="#3b3b3b"/><path d="M68.0,0 L84.0,0 L69.2,38.0 Z" fill="#262626" opacity=".55"/><path d="M5.0,0 V100 M16.8,13.7 H89.7 V90.9 H16.8 Z M28.3,26.4 H77.0 V78.1 H28.3 Z" stroke="#1d1d1d" stroke-width="1.05" fill="none"/><path d="M52.3,10.0 C48.8,11.0 51.0,12.5 50.4,16.0 C49.9,19.5 49.5,26.2 48.8,31.0 C48.1,35.8 47.1,40.5 46.4,45.0 C45.6,49.5 44.8,54.0 44.3,58.0 C43.8,62.0 43.1,66.2 43.4,69.0 C43.7,71.8 44.2,73.6 45.9,75.0 C47.7,76.4 51.7,76.6 53.9,77.5 C56.1,78.4 57.7,80.1 59.0,80.6 C60.3,81.1 60.5,81.1 61.8,80.6 C63.1,80.1 64.7,78.4 66.9,77.5 C69.1,76.6 73.2,76.4 74.9,75.0 C76.7,73.6 77.1,71.8 77.4,69.0 C77.7,66.2 76.9,62.0 76.5,58.0 C76.1,54.0 75.3,49.5 74.8,45.0 C74.2,40.5 73.7,35.8 73.4,31.0 C73.1,26.2 73.2,19.5 72.8,16.0 C72.5,12.5 74.9,11.0 71.5,10.0 C68.0,9.0 55.8,9.0 52.3,10.0Z" fill="#121212" opacity=".6" filter="url(#blur)"/><path d="M56.2,77.0 Q56.0,90.0 55.0,102.0" stroke="#ededed" stroke-width="2.9" fill="none"/><path d="M44.7,72.0 L43.7,79.2" stroke="#dedede" stroke-width="4.6" stroke-linecap="round" fill="none"/><path d="M43.7,79.2 L44.6,81.5" stroke="#e9e9e9" stroke-width="3" stroke-linecap="round" fill="none"/><circle cx="44.6" cy="81.5" r="1.9" fill="#f4f4f4"/><path d="M67.7,72.0 L77.3,76.8" stroke="#dedede" stroke-width="4.6" stroke-linecap="round" fill="none"/><path d="M77.3,76.8 L89.0,76.5" stroke="#e9e9e9" stroke-width="3" stroke-linecap="round" fill="none"/><circle cx="89.0" cy="76.5" r="1.9" fill="#f4f4f4"/><ellipse cx="49.0" cy="2.0" rx="4.6" ry="5.6" fill="#bababa"/><ellipse cx="67.0" cy="2.0" rx="4.6" ry="5.6" fill="#bababa"/><ellipse cx="49.0" cy="2.0" rx="2.4" ry="3.4" fill="#8e8e8e"/><ellipse cx="67.0" cy="2.0" rx="2.4" ry="3.4" fill="#8e8e8e"/><ellipse cx="58.0" cy="4.0" rx="10.4" ry="11.4" fill="#dadada"/><path d="M48.1,9.0 C44.6,10.0 46.8,11.5 46.2,15.0 C45.7,18.5 45.3,25.2 44.6,30.0 C43.9,34.8 42.9,39.5 42.2,44.0 C41.4,48.5 40.6,53.0 40.1,57.0 C39.6,61.0 38.9,65.2 39.2,68.0 C39.5,70.8 40.0,72.6 41.7,74.0 C43.5,75.4 47.5,75.6 49.7,76.5 C51.9,77.4 53.5,79.1 54.8,79.6 C56.1,80.1 56.3,80.1 57.6,79.6 C58.9,79.1 60.5,77.4 62.7,76.5 C64.9,75.6 69.0,75.4 70.7,74.0 C72.5,72.6 72.9,70.8 73.2,68.0 C73.5,65.2 72.7,61.0 72.3,57.0 C71.9,53.0 71.1,48.5 70.5,44.0 C70.0,39.5 69.5,34.8 69.2,30.0 C68.9,25.2 69.0,18.5 68.6,15.0 C68.3,11.5 70.7,10.0 67.3,9.0 C63.8,8.0 51.6,8.0 48.1,9.0Z" fill="url(#body)"/><path d="M48.1,9.0 C44.6,10.0 46.8,11.5 46.2,15.0 C45.7,18.5 45.3,25.2 44.6,30.0 C43.9,34.8 42.9,39.5 42.2,44.0 C41.4,48.5 40.6,53.0 40.1,57.0 C39.6,61.0 38.9,65.2 39.2,68.0 C39.5,70.8 40.0,72.6 41.7,74.0 C43.5,75.4 47.5,75.6 49.7,76.5 C51.9,77.4 53.5,79.1 54.8,79.6 C56.1,80.1 56.3,80.1 57.6,79.6 C58.9,79.1 60.5,77.4 62.7,76.5 C64.9,75.6 69.0,75.4 70.7,74.0 C72.5,72.6 72.9,70.8 73.2,68.0 C73.5,65.2 72.7,61.0 72.3,57.0 C71.9,53.0 71.1,48.5 70.5,44.0 C70.0,39.5 69.5,34.8 69.2,30.0 C68.9,25.2 69.0,18.5 68.6,15.0 C68.3,11.5 70.7,10.0 67.3,9.0 C63.8,8.0 51.6,8.0 48.1,9.0Z" fill="url(#edge)"/><ellipse cx="56.7" cy="36.0" rx="2" ry="3" fill="#fff" opacity=".7"/><ellipse cx="52.0" cy="59.3" rx="9.3" ry="9.3" fill="#fbeeff" opacity=".5"/><ellipse cx="52.0" cy="59.3" rx="8.5" ry="8.5" fill="url(#L2)"/></svg>
<svg x="1594" y="748" width="188" height="187.5" viewBox="0 0 100 100" preserveAspectRatio="none"><rect width="100" height="100" fill="#3b3b3b"/><path d="M66.0,0 L82.0,0 L69.5,27.6 Z" fill="#262626" opacity=".55"/><path d="M5.0,0 V100 M16.8,11.3 H89.7 V88.5 H16.8 Z M28.3,24.0 H77.0 V75.7 H28.3 Z" stroke="#1d1d1d" stroke-width="1.05" fill="none"/><path d="M50.7,12.0 C47.3,13.0 49.7,16.6 49.2,18.0 C48.8,19.4 48.6,17.8 48.2,20.6 C47.7,23.4 47.1,30.1 46.4,34.6 C45.8,39.1 45.0,43.6 44.5,47.6 C44.0,51.6 43.1,55.8 43.2,58.6 C43.3,61.4 43.7,63.2 45.4,64.6 C47.0,66.0 51.1,66.2 53.2,67.1 C55.3,68.0 56.8,69.7 58.1,70.2 C59.4,70.7 59.6,70.7 60.9,70.2 C62.2,69.7 63.9,68.0 66.2,67.1 C68.4,66.2 72.5,66.0 74.4,64.6 C76.2,63.2 76.8,61.4 77.2,58.6 C77.6,55.8 77.1,51.6 76.7,47.6 C76.3,43.6 75.5,39.1 74.8,34.6 C74.2,30.1 73.3,23.4 72.8,20.6 C72.2,17.8 72.1,19.4 71.6,18.0 C71.2,16.6 73.4,13.0 69.9,12.0 C66.5,11.0 54.2,11.0 50.7,12.0Z" fill="#121212" opacity=".6" filter="url(#blur)"/><path d="M55.3,66.6 Q55.5,84.8 56.5,102.0" stroke="#ededed" stroke-width="2.9" fill="none"/><path d="M45.0,61.6 L36.7,69.2" stroke="#dedede" stroke-width="4.6" stroke-linecap="round" fill="none"/><path d="M36.7,69.2 L26.6,71.7" stroke="#e9e9e9" stroke-width="3" stroke-linecap="round" fill="none"/><circle cx="26.6" cy="71.7" r="1.9" fill="#f4f4f4"/><path d="M68.0,61.6 L74.1,72.8" stroke="#dedede" stroke-width="4.6" stroke-linecap="round" fill="none"/><path d="M74.1,72.8 L81.6,79.0" stroke="#e9e9e9" stroke-width="3" stroke-linecap="round" fill="none"/><circle cx="81.6" cy="79.0" r="1.9" fill="#f4f4f4"/><ellipse cx="47.0" cy="4.0" rx="4.6" ry="5.6" fill="#bababa"/><ellipse cx="65.0" cy="4.0" rx="4.6" ry="5.6" fill="#bababa"/><ellipse cx="47.0" cy="4.0" rx="2.4" ry="3.4" fill="#8e8e8e"/><ellipse cx="65.0" cy="4.0" rx="2.4" ry="3.4" fill="#8e8e8e"/><ellipse cx="56.0" cy="6.0" rx="10.4" ry="11.4" fill="#dadada"/><path d="M46.5,11.0 C43.1,12.0 45.5,15.6 45.0,17.0 C44.6,18.4 44.4,16.8 44.0,19.6 C43.5,22.4 42.9,29.1 42.2,33.6 C41.6,38.1 40.8,42.6 40.3,46.6 C39.8,50.6 38.9,54.8 39.0,57.6 C39.1,60.4 39.5,62.2 41.2,63.6 C42.8,65.0 46.9,65.2 49.0,66.1 C51.1,67.0 52.6,68.7 53.9,69.2 C55.2,69.7 55.4,69.7 56.7,69.2 C58.0,68.7 59.7,67.0 62.0,66.1 C64.2,65.2 68.3,65.0 70.2,63.6 C72.0,62.2 72.6,60.4 73.0,57.6 C73.4,54.8 72.9,50.6 72.5,46.6 C72.1,42.6 71.3,38.1 70.6,33.6 C70.0,29.1 69.1,22.4 68.6,19.6 C68.0,16.8 67.9,18.4 67.4,17.0 C67.0,15.6 69.2,12.0 65.7,11.0 C62.3,10.0 50.0,10.0 46.5,11.0Z" fill="url(#body)"/><path d="M46.5,11.0 C43.1,12.0 45.5,15.6 45.0,17.0 C44.6,18.4 44.4,16.8 44.0,19.6 C43.5,22.4 42.9,29.1 42.2,33.6 C41.6,38.1 40.8,42.6 40.3,46.6 C39.8,50.6 38.9,54.8 39.0,57.6 C39.1,60.4 39.5,62.2 41.2,63.6 C42.8,65.0 46.9,65.2 49.0,66.1 C51.1,67.0 52.6,68.7 53.9,69.2 C55.2,69.7 55.4,69.7 56.7,69.2 C58.0,68.7 59.7,67.0 62.0,66.1 C64.2,65.2 68.3,65.0 70.2,63.6 C72.0,62.2 72.6,60.4 73.0,57.6 C73.4,54.8 72.9,50.6 72.5,46.6 C72.1,42.6 71.3,38.1 70.6,33.6 C70.0,29.1 69.1,22.4 68.6,19.6 C68.0,16.8 67.9,18.4 67.4,17.0 C67.0,15.6 69.2,12.0 65.7,11.0 C62.3,10.0 50.0,10.0 46.5,11.0Z" fill="url(#edge)"/><ellipse cx="56.3" cy="25.6" rx="2" ry="3" fill="#fff" opacity=".7"/><ellipse cx="47.4" cy="54.7" rx="2.6" ry="2.8" fill="url(#L1p)"/></svg>
<svg x="1594" y="945" width="188" height="186.5" viewBox="0 0 100 100" preserveAspectRatio="none"><rect width="100" height="100" fill="#3b3b3b"/><path d="M60.0,0 L76.0,0 L63.4,30.0 Z" fill="#262626" opacity=".55"/><path d="M5.6,0 V100 M17.4,13.2 H90.3 V90.4 H17.4 Z M28.9,25.9 H77.6 V77.6 H28.9 Z" stroke="#1d1d1d" stroke-width="1.05" fill="none"/><path d="M44.7,13.0 C41.3,14.0 43.6,17.3 43.2,19.0 C42.7,20.7 42.6,20.0 42.1,23.0 C41.7,26.0 41.0,32.5 40.4,37.0 C39.8,41.5 39.0,46.0 38.5,50.0 C38.0,54.0 37.3,58.2 37.6,61.0 C37.9,63.8 38.4,65.6 40.1,67.0 C41.9,68.4 45.9,68.6 48.1,69.5 C50.3,70.4 51.9,72.1 53.2,72.6 C54.5,73.1 54.7,73.1 56.0,72.6 C57.3,72.1 58.9,70.4 61.1,69.5 C63.3,68.6 67.4,68.4 69.1,67.0 C70.9,65.6 71.3,63.8 71.6,61.0 C71.9,58.2 71.2,54.0 70.7,50.0 C70.2,46.0 69.4,41.5 68.8,37.0 C68.1,32.5 67.2,26.0 66.7,23.0 C66.2,20.0 66.0,20.7 65.6,19.0 C65.1,17.3 67.4,14.0 63.9,13.0 C60.4,12.0 48.2,12.0 44.7,13.0Z" fill="#121212" opacity=".6" filter="url(#blur)"/><path d="M50.4,69.0 Q50.6,86.0 51.6,102.0" stroke="#ededed" stroke-width="2.9" fill="none"/><path d="M38.9,64.0 L32.2,72.5" stroke="#dedede" stroke-width="4.6" stroke-linecap="round" fill="none"/><path d="M32.2,72.5 L24.1,76.0" stroke="#e9e9e9" stroke-width="3" stroke-linecap="round" fill="none"/><circle cx="24.1" cy="76.0" r="1.9" fill="#f4f4f4"/><path d="M61.9,64.0 L65.8,78.0" stroke="#dedede" stroke-width="4.6" stroke-linecap="round" fill="none"/><path d="M65.8,78.0 L70.6,87.0" stroke="#e9e9e9" stroke-width="3" stroke-linecap="round" fill="none"/><circle cx="70.6" cy="87.0" r="1.9" fill="#f4f4f4"/><ellipse cx="41.0" cy="5.0" rx="4.6" ry="5.6" fill="#bababa"/><ellipse cx="59.0" cy="5.0" rx="4.6" ry="5.6" fill="#bababa"/><ellipse cx="41.0" cy="5.0" rx="2.4" ry="3.4" fill="#8e8e8e"/><ellipse cx="59.0" cy="5.0" rx="2.4" ry="3.4" fill="#8e8e8e"/><ellipse cx="50.0" cy="7.0" rx="10.4" ry="11.4" fill="#dadada"/><path d="M40.5,12.0 C37.1,13.0 39.4,16.3 39.0,18.0 C38.5,19.7 38.4,19.0 37.9,22.0 C37.5,25.0 36.8,31.5 36.2,36.0 C35.6,40.5 34.8,45.0 34.3,49.0 C33.8,53.0 33.1,57.2 33.4,60.0 C33.7,62.8 34.1,64.6 35.9,66.0 C37.6,67.4 41.7,67.6 43.9,68.5 C46.1,69.4 47.7,71.1 49.0,71.6 C50.3,72.1 50.5,72.1 51.8,71.6 C53.1,71.1 54.7,69.4 56.9,68.5 C59.1,67.6 63.2,67.4 64.9,66.0 C66.7,64.6 67.1,62.8 67.4,60.0 C67.7,57.2 67.0,53.0 66.5,49.0 C66.0,45.0 65.2,40.5 64.6,36.0 C63.9,31.5 63.0,25.0 62.5,22.0 C62.0,19.0 61.8,19.7 61.4,18.0 C60.9,16.3 63.2,13.0 59.7,12.0 C56.2,11.0 44.0,11.0 40.5,12.0Z" fill="url(#body)"/><path d="M40.5,12.0 C37.1,13.0 39.4,16.3 39.0,18.0 C38.5,19.7 38.4,19.0 37.9,22.0 C37.5,25.0 36.8,31.5 36.2,36.0 C35.6,40.5 34.8,45.0 34.3,49.0 C33.8,53.0 33.1,57.2 33.4,60.0 C33.7,62.8 34.1,64.6 35.9,66.0 C37.6,67.4 41.7,67.6 43.9,68.5 C46.1,69.4 47.7,71.1 49.0,71.6 C50.3,72.1 50.5,72.1 51.8,71.6 C53.1,71.1 54.7,69.4 56.9,68.5 C59.1,67.6 63.2,67.4 64.9,66.0 C66.7,64.6 67.1,62.8 67.4,60.0 C67.7,57.2 67.0,53.0 66.5,49.0 C66.0,45.0 65.2,40.5 64.6,36.0 C63.9,31.5 63.0,25.0 62.5,22.0 C62.0,19.0 61.8,19.7 61.4,18.0 C60.9,16.3 63.2,13.0 59.7,12.0 C56.2,11.0 44.0,11.0 40.5,12.0Z" fill="url(#edge)"/><ellipse cx="50.3" cy="28.0" rx="2" ry="3" fill="#fff" opacity=".7"/><ellipse cx="42.1" cy="55.7" rx="3.0" ry="3.7" fill="url(#L1p)"/></svg>
<svg x="1594" y="1145" width="188" height="185" viewBox="0 0 100 100" preserveAspectRatio="none"><rect width="100" height="100" fill="#3b3b3b"/><path d="M68.0,0 L84.0,0 L68.3,22.5 Z" fill="#262626" opacity=".55"/><path d="M5.9,0 V100 M17.7,12.9 H90.6 V90.1 H17.7 Z M29.2,25.6 H77.9 V77.3 H29.2 Z" stroke="#1d1d1d" stroke-width="1.05" fill="none"/><path d="M51.8,11.0 C48.2,12.0 50.7,13.9 49.7,17.0 C48.6,20.1 46.7,25.2 45.6,29.5 C44.5,33.8 43.9,38.5 43.1,42.5 C42.3,46.5 41.1,50.7 41.0,53.5 C40.8,56.3 40.9,58.1 42.4,59.5 C43.9,60.9 47.9,61.1 49.9,62.0 C51.9,62.9 53.2,64.6 54.4,65.1 C55.6,65.6 55.8,65.6 57.2,65.1 C58.6,64.6 60.5,62.9 62.9,62.0 C65.2,61.1 69.4,60.9 71.4,59.5 C73.4,58.1 74.3,56.3 75.0,53.5 C75.6,50.7 75.4,46.5 75.3,42.5 C75.1,38.5 74.6,33.8 74.0,29.5 C73.5,25.2 72.6,20.1 72.1,17.0 C71.6,13.9 74.4,12.0 71.0,11.0 C67.6,10.0 55.3,10.0 51.8,11.0Z" fill="#121212" opacity=".6" filter="url(#blur)"/><path d="M51.6,61.5 Q51.7,82.2 52.3,102.0" stroke="#ededed" stroke-width="2.9" fill="none"/><path d="M43.8,56.5 L34.4,61.5" stroke="#dedede" stroke-width="4.6" stroke-linecap="round" fill="none"/><path d="M34.4,61.5 L22.9,61.6" stroke="#e9e9e9" stroke-width="3" stroke-linecap="round" fill="none"/><circle cx="22.9" cy="61.6" r="1.9" fill="#f4f4f4"/><path d="M66.8,56.5 L67.8,64.2" stroke="#dedede" stroke-width="4.6" stroke-linecap="round" fill="none"/><path d="M67.8,64.2 L64.5,67.0" stroke="#e9e9e9" stroke-width="3" stroke-linecap="round" fill="none"/><circle cx="64.5" cy="67.0" r="1.9" fill="#f4f4f4"/><path d="M49.0,20.0 L33.3,7.7" stroke="#d8d8d8" stroke-width="3.8" stroke-linecap="round" fill="none"/><circle cx="33.3" cy="7.7" r="2.1" fill="#f0f0f0"/><ellipse cx="49.0" cy="3.0" rx="4.6" ry="5.6" fill="#bababa"/><ellipse cx="67.0" cy="3.0" rx="4.6" ry="5.6" fill="#bababa"/><ellipse cx="49.0" cy="3.0" rx="2.4" ry="3.4" fill="#8e8e8e"/><ellipse cx="67.0" cy="3.0" rx="2.4" ry="3.4" fill="#8e8e8e"/><ellipse cx="58.0" cy="5.0" rx="10.4" ry="11.4" fill="#dadada"/><path d="M47.6,10.0 C44.0,11.0 46.5,12.9 45.5,16.0 C44.4,19.1 42.5,24.2 41.4,28.5 C40.3,32.8 39.7,37.5 38.9,41.5 C38.1,45.5 36.9,49.7 36.8,52.5 C36.6,55.3 36.7,57.1 38.2,58.5 C39.7,59.9 43.7,60.1 45.7,61.0 C47.7,61.9 49.0,63.6 50.2,64.1 C51.4,64.6 51.6,64.6 53.0,64.1 C54.4,63.6 56.3,61.9 58.7,61.0 C61.0,60.1 65.2,59.9 67.2,58.5 C69.2,57.1 70.1,55.3 70.8,52.5 C71.4,49.7 71.2,45.5 71.1,41.5 C70.9,37.5 70.4,32.8 69.8,28.5 C69.3,24.2 68.4,19.1 67.9,16.0 C67.4,12.9 70.2,11.0 66.8,10.0 C63.4,9.0 51.1,9.0 47.6,10.0Z" fill="url(#body)"/><path d="M47.6,10.0 C44.0,11.0 46.5,12.9 45.5,16.0 C44.4,19.1 42.5,24.2 41.4,28.5 C40.3,32.8 39.7,37.5 38.9,41.5 C38.1,45.5 36.9,49.7 36.8,52.5 C36.6,55.3 36.7,57.1 38.2,58.5 C39.7,59.9 43.7,60.1 45.7,61.0 C47.7,61.9 49.0,63.6 50.2,64.1 C51.4,64.6 51.6,64.6 53.0,64.1 C54.4,63.6 56.3,61.9 58.7,61.0 C61.0,60.1 65.2,59.9 67.2,58.5 C69.2,57.1 70.1,55.3 70.8,52.5 C71.4,49.7 71.2,45.5 71.1,41.5 C70.9,37.5 70.4,32.8 69.8,28.5 C69.3,24.2 68.4,19.1 67.9,16.0 C67.4,12.9 70.2,11.0 66.8,10.0 C63.4,9.0 51.1,9.0 47.6,10.0Z" fill="url(#edge)"/><ellipse cx="56.3" cy="20.5" rx="2" ry="3" fill="#fff" opacity=".7"/><ellipse cx="44.9" cy="48.8" rx="8.4" ry="9.3" fill="#fbeeff" opacity=".5"/><ellipse cx="44.9" cy="48.8" rx="7.7" ry="8.5" fill="url(#L3)"/></svg>
<svg x="1594" y="1342.5" width="188" height="185.0" viewBox="0 0 100 100" preserveAspectRatio="none"><rect width="100" height="100" fill="#3b3b3b"/><path d="M66.0,0 L82.0,0 L68.3,23.0 Z" fill="#262626" opacity=".55"/><path d="M6.0,0 V100 M17.8,11.1 H90.7 V88.3 H17.8 Z M29.3,23.8 H78.0 V75.5 H29.3 Z" stroke="#1d1d1d" stroke-width="1.05" fill="none"/><path d="M50.3,13.0 C46.9,14.0 49.4,16.2 48.6,19.0 C47.8,21.8 46.3,26.0 45.4,30.0 C44.5,34.0 43.8,39.0 43.2,43.0 C42.6,47.0 41.5,51.2 41.5,54.0 C41.5,56.8 41.7,58.6 43.3,60.0 C44.9,61.4 48.9,61.6 51.0,62.5 C53.0,63.4 54.4,65.1 55.7,65.6 C57.0,66.1 57.1,66.1 58.5,65.6 C59.9,65.1 61.7,63.4 64.0,62.5 C66.3,61.6 70.4,61.4 72.3,60.0 C74.2,58.6 75.0,56.8 75.5,54.0 C76.0,51.2 75.7,47.0 75.4,43.0 C75.1,39.0 74.5,34.0 73.8,30.0 C73.1,26.0 71.7,21.8 71.0,19.0 C70.3,16.2 73.0,14.0 69.5,13.0 C66.1,12.0 53.8,12.0 50.3,13.0Z" fill="#121212" opacity=".6" filter="url(#blur)"/><path d="M52.9,62.0 Q53.5,82.5 57.2,102.0" stroke="#ededed" stroke-width="2.9" fill="none"/><path d="M43.8,57.0 L36.1,63.9" stroke="#dedede" stroke-width="4.6" stroke-linecap="round" fill="none"/><path d="M36.1,63.9 L26.6,65.8" stroke="#e9e9e9" stroke-width="3" stroke-linecap="round" fill="none"/><circle cx="26.6" cy="65.8" r="1.9" fill="#f4f4f4"/><path d="M66.8,57.0 L71.8,63.5" stroke="#dedede" stroke-width="4.6" stroke-linecap="round" fill="none"/><path d="M71.8,63.5 L78.0,65.0" stroke="#e9e9e9" stroke-width="3" stroke-linecap="round" fill="none"/><circle cx="78.0" cy="65.0" r="1.9" fill="#f4f4f4"/><ellipse cx="47.0" cy="5.0" rx="4.6" ry="5.6" fill="#bababa"/><ellipse cx="65.0" cy="5.0" rx="4.6" ry="5.6" fill="#bababa"/><ellipse cx="47.0" cy="5.0" rx="2.4" ry="3.4" fill="#8e8e8e"/><ellipse cx="65.0" cy="5.0" rx="2.4" ry="3.4" fill="#8e8e8e"/><ellipse cx="56.0" cy="7.0" rx="10.4" ry="11.4" fill="#dadada"/><path d="M46.1,12.0 C42.7,13.0 45.2,15.2 44.4,18.0 C43.6,20.8 42.1,25.0 41.2,29.0 C40.3,33.0 39.6,38.0 39.0,42.0 C38.4,46.0 37.3,50.2 37.3,53.0 C37.3,55.8 37.5,57.6 39.1,59.0 C40.7,60.4 44.7,60.6 46.8,61.5 C48.8,62.4 50.2,64.1 51.5,64.6 C52.8,65.1 52.9,65.1 54.3,64.6 C55.7,64.1 57.5,62.4 59.8,61.5 C62.1,60.6 66.2,60.4 68.1,59.0 C70.0,57.6 70.8,55.8 71.3,53.0 C71.8,50.2 71.5,46.0 71.2,42.0 C70.9,38.0 70.3,33.0 69.6,29.0 C68.9,25.0 67.5,20.8 66.8,18.0 C66.1,15.2 68.8,13.0 65.3,12.0 C61.9,11.0 49.6,11.0 46.1,12.0Z" fill="url(#body)"/><path d="M46.1,12.0 C42.7,13.0 45.2,15.2 44.4,18.0 C43.6,20.8 42.1,25.0 41.2,29.0 C40.3,33.0 39.6,38.0 39.0,42.0 C38.4,46.0 37.3,50.2 37.3,53.0 C37.3,55.8 37.5,57.6 39.1,59.0 C40.7,60.4 44.7,60.6 46.8,61.5 C48.8,62.4 50.2,64.1 51.5,64.6 C52.8,65.1 52.9,65.1 54.3,64.6 C55.7,64.1 57.5,62.4 59.8,61.5 C62.1,60.6 66.2,60.4 68.1,59.0 C70.0,57.6 70.8,55.8 71.3,53.0 C71.8,50.2 71.5,46.0 71.2,42.0 C70.9,38.0 70.3,33.0 69.6,29.0 C68.9,25.0 67.5,20.8 66.8,18.0 C66.1,15.2 68.8,13.0 65.3,12.0 C61.9,11.0 49.6,11.0 46.1,12.0Z" fill="url(#edge)"/><ellipse cx="55.6" cy="21.0" rx="2" ry="3" fill="#fff" opacity=".7"/><ellipse cx="45.8" cy="49.7" rx="9.8" ry="9.8" fill="#fbeeff" opacity=".5"/><ellipse cx="45.8" cy="49.7" rx="9.0" ry="9.0" fill="url(#L3)"/></svg>
<svg x="1807.5" y="747" width="188.5" height="189" viewBox="0 0 100 100" preserveAspectRatio="none"><rect width="100" height="100" fill="#3b3b3b"/><path d="M66.0,0 L82.0,0 L71.0,34.5 Z" fill="#262626" opacity=".55"/><path d="M4.7,0 V100 M16.5,13.7 H89.4 V90.9 H16.5 Z M28.0,26.4 H76.7 V78.1 H28.0 Z" stroke="#1d1d1d" stroke-width="1.05" fill="none"/><path d="M51.0,11.0 C47.6,12.0 50.0,14.2 49.7,17.0 C49.4,19.8 49.4,23.4 49.1,27.5 C48.8,31.6 48.3,37.0 47.8,41.5 C47.3,46.0 46.6,50.5 46.3,54.5 C46.0,58.5 45.6,62.7 46.0,65.5 C46.5,68.3 47.2,70.1 49.1,71.5 C51.0,72.9 55.1,73.1 57.4,74.0 C59.7,74.9 61.4,76.6 62.8,77.1 C64.2,77.6 64.3,77.6 65.6,77.1 C66.9,76.6 68.3,74.9 70.4,74.0 C72.5,73.1 76.5,72.9 78.1,71.5 C79.7,70.1 80.0,68.3 80.0,65.5 C80.1,62.7 79.1,58.5 78.5,54.5 C77.8,50.5 77.0,46.0 76.2,41.5 C75.4,37.0 74.4,31.6 73.7,27.5 C73.0,23.4 72.7,19.8 72.1,17.0 C71.5,14.2 73.8,12.0 70.2,11.0 C66.7,10.0 54.5,10.0 51.0,11.0Z" fill="#121212" opacity=".6" filter="url(#blur)"/><path d="M60.0,73.5 Q60.3,88.2 61.7,102.0" stroke="#ededed" stroke-width="2.9" fill="none"/><path d="M46.5,68.5 L45.5,79.4" stroke="#dedede" stroke-width="4.6" stroke-linecap="round" fill="none"/><path d="M45.5,79.4 L44.0,85.3" stroke="#e9e9e9" stroke-width="3" stroke-linecap="round" fill="none"/><circle cx="44.0" cy="85.3" r="1.9" fill="#f4f4f4"/><path d="M69.5,68.5 L75.6,73.2" stroke="#dedede" stroke-width="4.6" stroke-linecap="round" fill="none"/><path d="M75.6,73.2 L83.0,73.0" stroke="#e9e9e9" stroke-width="3" stroke-linecap="round" fill="none"/><circle cx="83.0" cy="73.0" r="1.9" fill="#f4f4f4"/><path d="M65.0,20.0 L73.0,12.0" stroke="#d8d8d8" stroke-width="3.8" stroke-linecap="round" fill="none"/><circle cx="73.0" cy="12.0" r="2.1" fill="#f0f0f0"/><ellipse cx="47.0" cy="3.0" rx="4.6" ry="5.6" fill="#bababa"/><ellipse cx="65.0" cy="3.0" rx="4.6" ry="5.6" fill="#bababa"/><ellipse cx="47.0" cy="3.0" rx="2.4" ry="3.4" fill="#8e8e8e"/><ellipse cx="65.0" cy="3.0" rx="2.4" ry="3.4" fill="#8e8e8e"/><ellipse cx="56.0" cy="5.0" rx="10.4" ry="11.4" fill="#dadada"/><path d="M46.8,10.0 C43.4,11.0 45.8,13.2 45.5,16.0 C45.2,18.8 45.2,22.4 44.9,26.5 C44.6,30.6 44.1,36.0 43.6,40.5 C43.1,45.0 42.4,49.5 42.1,53.5 C41.8,57.5 41.4,61.7 41.8,64.5 C42.3,67.3 43.0,69.1 44.9,70.5 C46.8,71.9 50.9,72.1 53.2,73.0 C55.5,73.9 57.2,75.6 58.6,76.1 C60.0,76.6 60.1,76.6 61.4,76.1 C62.7,75.6 64.1,73.9 66.2,73.0 C68.3,72.1 72.3,71.9 73.9,70.5 C75.5,69.1 75.8,67.3 75.8,64.5 C75.9,61.7 74.9,57.5 74.3,53.5 C73.6,49.5 72.8,45.0 72.0,40.5 C71.2,36.0 70.2,30.6 69.5,26.5 C68.8,22.4 68.5,18.8 67.9,16.0 C67.3,13.2 69.6,11.0 66.0,10.0 C62.5,9.0 50.3,9.0 46.8,10.0Z" fill="url(#body)"/><path d="M46.8,10.0 C43.4,11.0 45.8,13.2 45.5,16.0 C45.2,18.8 45.2,22.4 44.9,26.5 C44.6,30.6 44.1,36.0 43.6,40.5 C43.1,45.0 42.4,49.5 42.1,53.5 C41.8,57.5 41.4,61.7 41.8,64.5 C42.3,67.3 43.0,69.1 44.9,70.5 C46.8,71.9 50.9,72.1 53.2,73.0 C55.5,73.9 57.2,75.6 58.6,76.1 C60.0,76.6 60.1,76.6 61.4,76.1 C62.7,75.6 64.1,73.9 66.2,73.0 C68.3,72.1 72.3,71.9 73.9,70.5 C75.5,69.1 75.8,67.3 75.8,64.5 C75.9,61.7 74.9,57.5 74.3,53.5 C73.6,49.5 72.8,45.0 72.0,40.5 C71.2,36.0 70.2,30.6 69.5,26.5 C68.8,22.4 68.5,18.8 67.9,16.0 C67.3,13.2 69.6,11.0 66.0,10.0 C62.5,9.0 50.3,9.0 46.8,10.0Z" fill="url(#edge)"/><ellipse cx="57.5" cy="32.5" rx="2" ry="3" fill="#fff" opacity=".7"/><ellipse cx="55.4" cy="58.3" rx="3.3" ry="2.8" fill="url(#L3)"/></svg>
<svg x="1807.5" y="945" width="188.5" height="187.5" viewBox="0 0 100 100" preserveAspectRatio="none"><rect width="100" height="100" fill="#3b3b3b"/><path d="M66.0,0 L82.0,0 L70.0,38.7 Z" fill="#262626" opacity=".55"/><path d="M4.5,0 V100 M16.3,12.8 H89.2 V90.0 H16.3 Z M27.8,25.5 H76.5 V77.2 H27.8 Z" stroke="#1d1d1d" stroke-width="1.05" fill="none"/><path d="M50.9,16.0 C47.5,17.0 49.8,19.4 49.4,22.0 C49.0,24.6 48.9,27.8 48.5,31.7 C48.1,35.7 47.5,41.2 46.9,45.7 C46.4,50.2 45.6,54.7 45.2,58.7 C44.8,62.7 44.2,66.9 44.5,69.7 C44.8,72.5 45.4,74.3 47.2,75.7 C49.0,77.1 53.1,77.3 55.3,78.2 C57.5,79.1 59.2,80.8 60.5,81.3 C61.8,81.8 62.0,81.8 63.3,81.3 C64.6,80.8 66.1,79.1 68.3,78.2 C70.4,77.3 74.5,77.1 76.2,75.7 C77.9,74.3 78.3,72.5 78.5,69.7 C78.7,66.9 77.9,62.7 77.4,58.7 C76.8,54.7 76.0,50.2 75.3,45.7 C74.6,41.2 73.7,35.7 73.1,31.7 C72.5,27.8 72.3,24.6 71.8,22.0 C71.3,19.4 73.6,17.0 70.1,16.0 C66.6,15.0 54.4,15.0 50.9,16.0Z" fill="#121212" opacity=".6" filter="url(#blur)"/><path d="M57.7,77.7 Q57.8,90.3 58.3,102.0" stroke="#ededed" stroke-width="2.9" fill="none"/><path d="M45.5,72.7 L41.1,81.5" stroke="#dedede" stroke-width="4.6" stroke-linecap="round" fill="none"/><path d="M41.1,81.5 L35.7,85.2" stroke="#e9e9e9" stroke-width="3" stroke-linecap="round" fill="none"/><circle cx="35.7" cy="85.2" r="1.9" fill="#f4f4f4"/><path d="M68.5,72.7 L75.2,79.3" stroke="#dedede" stroke-width="4.6" stroke-linecap="round" fill="none"/><path d="M75.2,79.3 L83.3,81.0" stroke="#e9e9e9" stroke-width="3" stroke-linecap="round" fill="none"/><circle cx="83.3" cy="81.0" r="1.9" fill="#f4f4f4"/><ellipse cx="47.0" cy="8.0" rx="4.6" ry="5.6" fill="#bababa"/><ellipse cx="65.0" cy="8.0" rx="4.6" ry="5.6" fill="#bababa"/><ellipse cx="47.0" cy="8.0" rx="2.4" ry="3.4" fill="#8e8e8e"/><ellipse cx="65.0" cy="8.0" rx="2.4" ry="3.4" fill="#8e8e8e"/><ellipse cx="56.0" cy="10.0" rx="10.4" ry="11.4" fill="#dadada"/><path d="M46.7,15.0 C43.3,16.0 45.6,18.4 45.2,21.0 C44.8,23.6 44.7,26.8 44.3,30.7 C43.9,34.7 43.3,40.2 42.7,44.7 C42.2,49.2 41.4,53.7 41.0,57.7 C40.6,61.7 40.0,65.9 40.3,68.7 C40.6,71.5 41.2,73.3 43.0,74.7 C44.8,76.1 48.9,76.3 51.1,77.2 C53.3,78.1 55.0,79.8 56.3,80.3 C57.6,80.8 57.8,80.8 59.1,80.3 C60.4,79.8 61.9,78.1 64.1,77.2 C66.2,76.3 70.3,76.1 72.0,74.7 C73.7,73.3 74.1,71.5 74.3,68.7 C74.5,65.9 73.7,61.7 73.2,57.7 C72.6,53.7 71.8,49.2 71.1,44.7 C70.4,40.2 69.5,34.7 68.9,30.7 C68.3,26.8 68.1,23.6 67.6,21.0 C67.1,18.4 69.4,16.0 65.9,15.0 C62.4,14.0 50.2,14.0 46.7,15.0Z" fill="url(#body)"/><path d="M46.7,15.0 C43.3,16.0 45.6,18.4 45.2,21.0 C44.8,23.6 44.7,26.8 44.3,30.7 C43.9,34.7 43.3,40.2 42.7,44.7 C42.2,49.2 41.4,53.7 41.0,57.7 C40.6,61.7 40.0,65.9 40.3,68.7 C40.6,71.5 41.2,73.3 43.0,74.7 C44.8,76.1 48.9,76.3 51.1,77.2 C53.3,78.1 55.0,79.8 56.3,80.3 C57.6,80.8 57.8,80.8 59.1,80.3 C60.4,79.8 61.9,78.1 64.1,77.2 C66.2,76.3 70.3,76.1 72.0,74.7 C73.7,73.3 74.1,71.5 74.3,68.7 C74.5,65.9 73.7,61.7 73.2,57.7 C72.6,53.7 71.8,49.2 71.1,44.7 C70.4,40.2 69.5,34.7 68.9,30.7 C68.3,26.8 68.1,23.6 67.6,21.0 C67.1,18.4 69.4,16.0 65.9,15.0 C62.4,14.0 50.2,14.0 46.7,15.0Z" fill="url(#edge)"/><ellipse cx="56.8" cy="36.7" rx="2" ry="3" fill="#fff" opacity=".7"/><ellipse cx="52.2" cy="64.3" rx="8.7" ry="8.7" fill="#fbeeff" opacity=".5"/><ellipse cx="52.2" cy="64.3" rx="8.0" ry="8.0" fill="url(#L2)"/></svg>
<svg x="1807.5" y="1145" width="188.5" height="187" viewBox="0 0 100 100" preserveAspectRatio="none"><rect width="100" height="100" fill="#3b3b3b"/><path d="M63.0,0 L79.0,0 L66.4,26.0 Z" fill="#262626" opacity=".55"/><path d="M4.3,0 V100 M16.1,11.2 H89.0 V88.4 H16.1 Z M27.6,23.9 H76.3 V75.6 H27.6 Z" stroke="#1d1d1d" stroke-width="1.05" fill="none"/><path d="M47.7,14.0 C44.3,15.0 46.9,16.8 46.2,20.0 C45.5,23.2 44.2,28.7 43.4,33.0 C42.5,37.3 41.9,42.0 41.3,46.0 C40.8,50.0 39.8,54.2 39.9,57.0 C39.9,59.8 40.2,61.6 41.8,63.0 C43.5,64.4 47.5,64.6 49.6,65.5 C51.7,66.4 53.1,68.1 54.4,68.6 C55.7,69.1 55.8,69.1 57.2,68.6 C58.6,68.1 60.3,66.4 62.6,65.5 C64.9,64.6 69.0,64.4 70.8,63.0 C72.7,61.6 73.4,59.8 73.9,57.0 C74.3,54.2 73.9,50.0 73.5,46.0 C73.2,42.0 72.6,37.3 71.8,33.0 C70.9,28.7 69.4,23.2 68.6,20.0 C67.8,16.8 70.4,15.0 66.9,14.0 C63.5,13.0 51.2,13.0 47.7,14.0Z" fill="#121212" opacity=".6" filter="url(#blur)"/><path d="M51.6,65.0 Q51.7,84.0 52.2,102.0" stroke="#ededed" stroke-width="2.9" fill="none"/><path d="M41.9,60.0 L35.8,68.8" stroke="#dedede" stroke-width="4.6" stroke-linecap="round" fill="none"/><path d="M35.8,68.8 L28.4,72.6" stroke="#e9e9e9" stroke-width="3" stroke-linecap="round" fill="none"/><circle cx="28.4" cy="72.6" r="1.9" fill="#f4f4f4"/><path d="M64.9,60.0 L71.2,70.3" stroke="#dedede" stroke-width="4.6" stroke-linecap="round" fill="none"/><path d="M71.2,70.3 L79.0,75.6" stroke="#e9e9e9" stroke-width="3" stroke-linecap="round" fill="none"/><circle cx="79.0" cy="75.6" r="1.9" fill="#f4f4f4"/><ellipse cx="44.0" cy="6.0" rx="4.6" ry="5.6" fill="#bababa"/><ellipse cx="62.0" cy="6.0" rx="4.6" ry="5.6" fill="#bababa"/><ellipse cx="44.0" cy="6.0" rx="2.4" ry="3.4" fill="#8e8e8e"/><ellipse cx="62.0" cy="6.0" rx="2.4" ry="3.4" fill="#8e8e8e"/><ellipse cx="53.0" cy="8.0" rx="10.4" ry="11.4" fill="#dadada"/><path d="M43.5,13.0 C40.1,14.0 42.7,15.8 42.0,19.0 C41.3,22.2 40.0,27.7 39.2,32.0 C38.3,36.3 37.7,41.0 37.1,45.0 C36.6,49.0 35.6,53.2 35.7,56.0 C35.7,58.8 36.0,60.6 37.6,62.0 C39.3,63.4 43.3,63.6 45.4,64.5 C47.5,65.4 48.9,67.1 50.2,67.6 C51.5,68.1 51.6,68.1 53.0,67.6 C54.4,67.1 56.1,65.4 58.4,64.5 C60.7,63.6 64.8,63.4 66.6,62.0 C68.5,60.6 69.2,58.8 69.7,56.0 C70.1,53.2 69.7,49.0 69.3,45.0 C69.0,41.0 68.4,36.3 67.6,32.0 C66.7,27.7 65.2,22.2 64.4,19.0 C63.6,15.8 66.2,14.0 62.7,13.0 C59.3,12.0 47.0,12.0 43.5,13.0Z" fill="url(#body)"/><path d="M43.5,13.0 C40.1,14.0 42.7,15.8 42.0,19.0 C41.3,22.2 40.0,27.7 39.2,32.0 C38.3,36.3 37.7,41.0 37.1,45.0 C36.6,49.0 35.6,53.2 35.7,56.0 C35.7,58.8 36.0,60.6 37.6,62.0 C39.3,63.4 43.3,63.6 45.4,64.5 C47.5,65.4 48.9,67.1 50.2,67.6 C51.5,68.1 51.6,68.1 53.0,67.6 C54.4,67.1 56.1,65.4 58.4,64.5 C60.7,63.6 64.8,63.4 66.6,62.0 C68.5,60.6 69.2,58.8 69.7,56.0 C70.1,53.2 69.7,49.0 69.3,45.0 C69.0,41.0 68.4,36.3 67.6,32.0 C66.7,27.7 65.2,22.2 64.4,19.0 C63.6,15.8 66.2,14.0 62.7,13.0 C59.3,12.0 47.0,12.0 43.5,13.0Z" fill="url(#edge)"/><ellipse cx="53.3" cy="24.0" rx="2" ry="3" fill="#fff" opacity=".7"/><ellipse cx="47.3" cy="52.9" rx="13.6" ry="13.6" fill="#fbeeff" opacity=".5"/><ellipse cx="47.3" cy="52.9" rx="12.5" ry="12.5" fill="url(#L3)"/></svg>
<svg x="1807.5" y="1342.5" width="188.5" height="187.5" viewBox="0 0 100 100" preserveAspectRatio="none"><rect width="100" height="100" fill="#3b3b3b"/><path d="M65.0,0 L81.0,0 L66.4,40.0 Z" fill="#262626" opacity=".55"/><path d="M5.9,0 V100 M17.7,12.1 H90.6 V89.3 H17.7 Z M29.2,24.8 H77.9 V76.5 H29.2 Z" stroke="#1d1d1d" stroke-width="1.05" fill="none"/><path d="M49.2,14.0 C45.7,15.0 47.9,16.8 47.4,20.0 C46.8,23.2 46.5,28.5 45.9,33.0 C45.2,37.5 44.3,42.5 43.5,47.0 C42.8,51.5 42.0,56.0 41.4,60.0 C40.8,64.0 40.0,68.2 40.1,71.0 C40.2,73.8 40.6,75.6 42.3,77.0 C43.9,78.4 48.0,78.6 50.1,79.5 C52.2,80.4 53.7,82.1 55.0,82.6 C56.3,83.1 56.5,83.1 57.8,82.6 C59.1,82.1 60.8,80.4 63.1,79.5 C65.3,78.6 69.4,78.4 71.3,77.0 C73.1,75.6 73.7,73.8 74.1,71.0 C74.5,68.2 74.0,64.0 73.6,60.0 C73.2,56.0 72.4,51.5 71.9,47.0 C71.4,42.5 70.8,37.5 70.5,33.0 C70.1,28.5 70.1,23.2 69.8,20.0 C69.4,16.8 71.8,15.0 68.4,14.0 C64.9,13.0 52.7,13.0 49.2,14.0Z" fill="#121212" opacity=".6" filter="url(#blur)"/><path d="M52.2,79.0 Q52.3,91.0 52.8,102.0" stroke="#ededed" stroke-width="2.9" fill="none"/><path d="M41.9,74.0 L36.4,79.0" stroke="#dedede" stroke-width="4.6" stroke-linecap="round" fill="none"/><path d="M36.4,79.0 L29.6,79.0" stroke="#e9e9e9" stroke-width="3" stroke-linecap="round" fill="none"/><circle cx="29.6" cy="79.0" r="1.9" fill="#f4f4f4"/><path d="M64.9,74.0 L70.7,76.2" stroke="#dedede" stroke-width="4.6" stroke-linecap="round" fill="none"/><path d="M70.7,76.2 L77.8,73.5" stroke="#e9e9e9" stroke-width="3" stroke-linecap="round" fill="none"/><circle cx="77.8" cy="73.5" r="1.9" fill="#f4f4f4"/><path d="M64.0,26.0 L70.0,20.0" stroke="#d8d8d8" stroke-width="3.8" stroke-linecap="round" fill="none"/><circle cx="70.0" cy="20.0" r="2.1" fill="#f0f0f0"/><ellipse cx="46.0" cy="6.0" rx="4.6" ry="5.6" fill="#bababa"/><ellipse cx="64.0" cy="6.0" rx="4.6" ry="5.6" fill="#bababa"/><ellipse cx="46.0" cy="6.0" rx="2.4" ry="3.4" fill="#8e8e8e"/><ellipse cx="64.0" cy="6.0" rx="2.4" ry="3.4" fill="#8e8e8e"/><ellipse cx="55.0" cy="8.0" rx="10.4" ry="11.4" fill="#dadada"/><path d="M45.0,13.0 C41.5,14.0 43.7,15.8 43.2,19.0 C42.6,22.2 42.3,27.5 41.7,32.0 C41.0,36.5 40.1,41.5 39.3,46.0 C38.6,50.5 37.8,55.0 37.2,59.0 C36.6,63.0 35.8,67.2 35.9,70.0 C36.0,72.8 36.4,74.6 38.1,76.0 C39.7,77.4 43.8,77.6 45.9,78.5 C48.0,79.4 49.5,81.1 50.8,81.6 C52.1,82.1 52.3,82.1 53.6,81.6 C54.9,81.1 56.6,79.4 58.9,78.5 C61.1,77.6 65.2,77.4 67.1,76.0 C68.9,74.6 69.5,72.8 69.9,70.0 C70.3,67.2 69.8,63.0 69.4,59.0 C69.0,55.0 68.2,50.5 67.7,46.0 C67.2,41.5 66.6,36.5 66.3,32.0 C65.9,27.5 65.9,22.2 65.6,19.0 C65.2,15.8 67.6,14.0 64.2,13.0 C60.7,12.0 48.5,12.0 45.0,13.0Z" fill="url(#body)"/><path d="M45.0,13.0 C41.5,14.0 43.7,15.8 43.2,19.0 C42.6,22.2 42.3,27.5 41.7,32.0 C41.0,36.5 40.1,41.5 39.3,46.0 C38.6,50.5 37.8,55.0 37.2,59.0 C36.6,63.0 35.8,67.2 35.9,70.0 C36.0,72.8 36.4,74.6 38.1,76.0 C39.7,77.4 43.8,77.6 45.9,78.5 C48.0,79.4 49.5,81.1 50.8,81.6 C52.1,82.1 52.3,82.1 53.6,81.6 C54.9,81.1 56.6,79.4 58.9,78.5 C61.1,77.6 65.2,77.4 67.1,76.0 C68.9,74.6 69.5,72.8 69.9,70.0 C70.3,67.2 69.8,63.0 69.4,59.0 C69.0,55.0 68.2,50.5 67.7,46.0 C67.2,41.5 66.6,36.5 66.3,32.0 C65.9,27.5 65.9,22.2 65.6,19.0 C65.2,15.8 67.6,14.0 64.2,13.0 C60.7,12.0 48.5,12.0 45.0,13.0Z" fill="url(#edge)"/><ellipse cx="53.8" cy="38.0" rx="2" ry="3" fill="#fff" opacity=".7"/><ellipse cx="48.5" cy="63.0" rx="12.5" ry="14.7" fill="#fbeeff" opacity=".5"/><ellipse cx="48.5" cy="63.0" rx="11.5" ry="13.5" fill="url(#L2)"/></svg>
<svg x="2004.5" y="747" width="189.0" height="189" viewBox="0 0 100 100" preserveAspectRatio="none"><rect width="100" height="100" fill="#3b3b3b"/><path d="M72.0,0 L88.0,0 L73.0,31.2 Z" fill="#262626" opacity=".55"/><path d="M5.4,0 V100 M17.2,11.9 H90.1 V89.1 H17.2 Z M28.7,24.6 H77.4 V76.3 H28.7 Z" stroke="#1d1d1d" stroke-width="1.05" fill="none"/><path d="M56.2,10.0 C52.6,11.0 54.8,13.6 54.3,16.0 C53.7,18.4 53.5,20.5 52.8,24.2 C52.1,27.9 51.0,33.7 50.2,38.2 C49.4,42.7 48.6,47.2 48.1,51.2 C47.6,55.2 46.9,59.4 47.2,62.2 C47.5,65.0 48.0,66.8 49.7,68.2 C51.5,69.6 55.5,69.8 57.7,70.7 C59.9,71.6 61.5,73.3 62.8,73.8 C64.1,74.3 64.3,74.3 65.6,73.8 C66.9,73.3 68.5,71.6 70.7,70.7 C72.9,69.8 77.0,69.6 78.7,68.2 C80.5,66.8 80.9,65.0 81.2,62.2 C81.5,59.4 80.7,55.2 80.3,51.2 C79.9,47.2 79.1,42.7 78.6,38.2 C78.1,33.7 77.7,27.9 77.4,24.2 C77.1,20.5 77.0,18.4 76.7,16.0 C76.3,13.6 78.8,11.0 75.4,10.0 C71.9,9.0 59.7,9.0 56.2,10.0Z" fill="#121212" opacity=".6" filter="url(#blur)"/><path d="M60.0,70.2 Q59.8,86.6 58.4,102.0" stroke="#ededed" stroke-width="2.9" fill="none"/><path d="M48.5,65.2 L47.5,70.6" stroke="#dedede" stroke-width="4.6" stroke-linecap="round" fill="none"/><path d="M47.5,70.6 L46.8,71.0" stroke="#e9e9e9" stroke-width="3" stroke-linecap="round" fill="none"/><circle cx="46.8" cy="71.0" r="1.9" fill="#f4f4f4"/><path d="M71.5,65.2 L80.4,71.8" stroke="#dedede" stroke-width="4.6" stroke-linecap="round" fill="none"/><path d="M80.4,71.8 L91.2,73.5" stroke="#e9e9e9" stroke-width="3" stroke-linecap="round" fill="none"/><circle cx="91.2" cy="73.5" r="1.9" fill="#f4f4f4"/><path d="M71.0,19.0 L78.0,9.0" stroke="#d8d8d8" stroke-width="3.8" stroke-linecap="round" fill="none"/><circle cx="78.0" cy="9.0" r="2.1" fill="#f0f0f0"/><ellipse cx="53.0" cy="2.0" rx="4.6" ry="5.6" fill="#bababa"/><ellipse cx="71.0" cy="2.0" rx="4.6" ry="5.6" fill="#bababa"/><ellipse cx="53.0" cy="2.0" rx="2.4" ry="3.4" fill="#8e8e8e"/><ellipse cx="71.0" cy="2.0" rx="2.4" ry="3.4" fill="#8e8e8e"/><ellipse cx="62.0" cy="4.0" rx="10.4" ry="11.4" fill="#dadada"/><path d="M52.0,9.0 C48.4,10.0 50.6,12.6 50.1,15.0 C49.5,17.4 49.3,19.5 48.6,23.2 C47.9,26.9 46.8,32.7 46.0,37.2 C45.2,41.7 44.4,46.2 43.9,50.2 C43.4,54.2 42.7,58.4 43.0,61.2 C43.3,64.0 43.8,65.8 45.5,67.2 C47.2,68.6 51.3,68.8 53.5,69.7 C55.7,70.6 57.3,72.3 58.6,72.8 C59.9,73.3 60.1,73.3 61.4,72.8 C62.7,72.3 64.3,70.6 66.5,69.7 C68.7,68.8 72.8,68.6 74.5,67.2 C76.2,65.8 76.7,64.0 77.0,61.2 C77.3,58.4 76.5,54.2 76.1,50.2 C75.7,46.2 74.9,41.7 74.4,37.2 C73.9,32.7 73.5,26.9 73.2,23.2 C72.9,19.5 72.8,17.4 72.5,15.0 C72.1,12.6 74.6,10.0 71.2,9.0 C67.7,8.0 55.5,8.0 52.0,9.0Z" fill="url(#body)"/><path d="M52.0,9.0 C48.4,10.0 50.6,12.6 50.1,15.0 C49.5,17.4 49.3,19.5 48.6,23.2 C47.9,26.9 46.8,32.7 46.0,37.2 C45.2,41.7 44.4,46.2 43.9,50.2 C43.4,54.2 42.7,58.4 43.0,61.2 C43.3,64.0 43.8,65.8 45.5,67.2 C47.2,68.6 51.3,68.8 53.5,69.7 C55.7,70.6 57.3,72.3 58.6,72.8 C59.9,73.3 60.1,73.3 61.4,72.8 C62.7,72.3 64.3,70.6 66.5,69.7 C68.7,68.8 72.8,68.6 74.5,67.2 C76.2,65.8 76.7,64.0 77.0,61.2 C77.3,58.4 76.5,54.2 76.1,50.2 C75.7,46.2 74.9,41.7 74.4,37.2 C73.9,32.7 73.5,26.9 73.2,23.2 C72.9,19.5 72.8,17.4 72.5,15.0 C72.1,12.6 74.6,10.0 71.2,9.0 C67.7,8.0 55.5,8.0 52.0,9.0Z" fill="url(#edge)"/><ellipse cx="60.6" cy="29.2" rx="2" ry="3" fill="#fff" opacity=".7"/><ellipse cx="57.4" cy="57.0" rx="2.2" ry="2.2" fill="url(#L1)"/></svg>
<svg x="2004.5" y="945" width="189.0" height="187.5" viewBox="0 0 100 100" preserveAspectRatio="none"><rect width="100" height="100" fill="#3b3b3b"/><path d="M68.0,0 L84.0,0 L69.0,32.5 Z" fill="#262626" opacity=".55"/><path d="M6.0,0 V100 M17.8,13.2 H90.7 V90.4 H17.8 Z M29.3,25.9 H78.0 V77.6 H29.3 Z" stroke="#1d1d1d" stroke-width="1.05" fill="none"/><path d="M52.0,14.0 C48.5,15.0 50.6,18.1 50.1,20.0 C49.6,21.9 49.4,22.2 48.7,25.5 C48.1,28.8 47.0,35.0 46.2,39.5 C45.4,44.0 44.6,48.5 44.0,52.5 C43.4,56.5 42.5,60.7 42.7,63.5 C42.8,66.3 43.1,68.1 44.8,69.5 C46.4,70.9 50.5,71.1 52.6,72.0 C54.7,72.9 56.2,74.6 57.5,75.1 C58.8,75.6 58.9,75.6 60.3,75.1 C61.7,74.6 63.4,72.9 65.6,72.0 C67.8,71.1 71.9,70.9 73.8,69.5 C75.6,68.1 76.3,66.3 76.7,63.5 C77.1,60.7 76.5,56.5 76.2,52.5 C75.8,48.5 75.1,44.0 74.6,39.5 C74.1,35.0 73.7,28.8 73.3,25.5 C73.0,22.2 72.9,21.9 72.5,20.0 C72.1,18.1 74.6,15.0 71.2,14.0 C67.8,13.0 55.5,13.0 52.0,14.0Z" fill="#121212" opacity=".6" filter="url(#blur)"/><path d="M54.7,71.5 Q54.7,87.2 54.7,102.0" stroke="#ededed" stroke-width="2.9" fill="none"/><path d="M44.5,66.5 L37.3,73.2" stroke="#dedede" stroke-width="4.6" stroke-linecap="round" fill="none"/><path d="M37.3,73.2 L28.6,74.8" stroke="#e9e9e9" stroke-width="3" stroke-linecap="round" fill="none"/><circle cx="28.6" cy="74.8" r="1.9" fill="#f4f4f4"/><path d="M67.5,66.5 L73.8,74.7" stroke="#dedede" stroke-width="4.6" stroke-linecap="round" fill="none"/><path d="M73.8,74.7 L81.5,77.8" stroke="#e9e9e9" stroke-width="3" stroke-linecap="round" fill="none"/><circle cx="81.5" cy="77.8" r="1.9" fill="#f4f4f4"/><ellipse cx="49.0" cy="6.0" rx="4.6" ry="5.6" fill="#bababa"/><ellipse cx="67.0" cy="6.0" rx="4.6" ry="5.6" fill="#bababa"/><ellipse cx="49.0" cy="6.0" rx="2.4" ry="3.4" fill="#8e8e8e"/><ellipse cx="67.0" cy="6.0" rx="2.4" ry="3.4" fill="#8e8e8e"/><ellipse cx="58.0" cy="8.0" rx="10.4" ry="11.4" fill="#dadada"/><path d="M47.8,13.0 C44.3,14.0 46.4,17.1 45.9,19.0 C45.4,20.9 45.2,21.2 44.5,24.5 C43.9,27.8 42.8,34.0 42.0,38.5 C41.2,43.0 40.4,47.5 39.8,51.5 C39.2,55.5 38.3,59.7 38.5,62.5 C38.6,65.3 38.9,67.1 40.6,68.5 C42.2,69.9 46.3,70.1 48.4,71.0 C50.5,71.9 52.0,73.6 53.3,74.1 C54.6,74.6 54.7,74.6 56.1,74.1 C57.5,73.6 59.2,71.9 61.4,71.0 C63.6,70.1 67.7,69.9 69.6,68.5 C71.4,67.1 72.1,65.3 72.5,62.5 C72.9,59.7 72.3,55.5 72.0,51.5 C71.6,47.5 70.9,43.0 70.4,38.5 C69.9,34.0 69.5,27.8 69.1,24.5 C68.8,21.2 68.7,20.9 68.3,19.0 C67.9,17.1 70.4,14.0 67.0,13.0 C63.6,12.0 51.3,12.0 47.8,13.0Z" fill="url(#body)"/><path d="M47.8,13.0 C44.3,14.0 46.4,17.1 45.9,19.0 C45.4,20.9 45.2,21.2 44.5,24.5 C43.9,27.8 42.8,34.0 42.0,38.5 C41.2,43.0 40.4,47.5 39.8,51.5 C39.2,55.5 38.3,59.7 38.5,62.5 C38.6,65.3 38.9,67.1 40.6,68.5 C42.2,69.9 46.3,70.1 48.4,71.0 C50.5,71.9 52.0,73.6 53.3,74.1 C54.6,74.6 54.7,74.6 56.1,74.1 C57.5,73.6 59.2,71.9 61.4,71.0 C63.6,70.1 67.7,69.9 69.6,68.5 C71.4,67.1 72.1,65.3 72.5,62.5 C72.9,59.7 72.3,55.5 72.0,51.5 C71.6,47.5 70.9,43.0 70.4,38.5 C69.9,34.0 69.5,27.8 69.1,24.5 C68.8,21.2 68.7,20.9 68.3,19.0 C67.9,17.1 70.4,14.0 67.0,13.0 C63.6,12.0 51.3,12.0 47.8,13.0Z" fill="url(#edge)"/><ellipse cx="56.6" cy="30.5" rx="2" ry="3" fill="#fff" opacity=".7"/><ellipse cx="45.3" cy="54.4" rx="6.5" ry="6.5" fill="#fbeeff" opacity=".5"/><ellipse cx="45.3" cy="54.4" rx="6.0" ry="6.0" fill="url(#L6)"/></svg>
<svg x="2004.5" y="1145" width="189.0" height="187" viewBox="0 0 100 100" preserveAspectRatio="none"><rect width="100" height="100" fill="#3b3b3b"/><path d="M70.0,0 L86.0,0 L71.4,38.0 Z" fill="#262626" opacity=".55"/><path d="M5.6,0 V100 M17.4,11.8 H90.3 V89.0 H17.4 Z M28.9,24.5 H77.6 V76.2 H28.9 Z" stroke="#1d1d1d" stroke-width="1.05" fill="none"/><path d="M54.2,13.0 C50.7,14.0 53.0,16.0 52.4,19.0 C51.9,22.0 51.5,26.7 50.9,31.0 C50.3,35.3 49.3,40.5 48.5,45.0 C47.8,49.5 47.0,54.0 46.4,58.0 C45.8,62.0 45.0,66.2 45.1,69.0 C45.2,71.8 45.6,73.6 47.3,75.0 C48.9,76.4 53.0,76.6 55.1,77.5 C57.2,78.4 58.7,80.1 60.0,80.6 C61.3,81.1 61.5,81.1 62.8,80.6 C64.1,80.1 65.8,78.4 68.1,77.5 C70.3,76.6 74.4,76.4 76.3,75.0 C78.1,73.6 78.7,71.8 79.1,69.0 C79.5,66.2 79.0,62.0 78.6,58.0 C78.2,54.0 77.4,49.5 76.9,45.0 C76.4,40.5 75.9,35.3 75.5,31.0 C75.1,26.7 75.1,22.0 74.8,19.0 C74.5,16.0 76.8,14.0 73.4,13.0 C70.0,12.0 57.7,12.0 54.2,13.0Z" fill="#121212" opacity=".6" filter="url(#blur)"/><path d="M57.2,77.0 Q56.8,90.0 54.7,102.0" stroke="#ededed" stroke-width="2.9" fill="none"/><path d="M46.9,72.0 L39.2,79.3" stroke="#dedede" stroke-width="4.6" stroke-linecap="round" fill="none"/><path d="M39.2,79.3 L29.8,81.7" stroke="#e9e9e9" stroke-width="3" stroke-linecap="round" fill="none"/><circle cx="29.8" cy="81.7" r="1.9" fill="#f4f4f4"/><path d="M69.9,72.0 L75.7,76.9" stroke="#dedede" stroke-width="4.6" stroke-linecap="round" fill="none"/><path d="M75.7,76.9 L82.7,76.8" stroke="#e9e9e9" stroke-width="3" stroke-linecap="round" fill="none"/><circle cx="82.7" cy="76.8" r="1.9" fill="#f4f4f4"/><ellipse cx="51.0" cy="5.0" rx="4.6" ry="5.6" fill="#bababa"/><ellipse cx="69.0" cy="5.0" rx="4.6" ry="5.6" fill="#bababa"/><ellipse cx="51.0" cy="5.0" rx="2.4" ry="3.4" fill="#8e8e8e"/><ellipse cx="69.0" cy="5.0" rx="2.4" ry="3.4" fill="#8e8e8e"/><ellipse cx="60.0" cy="7.0" rx="10.4" ry="11.4" fill="#dadada"/><path d="M50.0,12.0 C46.5,13.0 48.8,15.0 48.2,18.0 C47.7,21.0 47.3,25.7 46.7,30.0 C46.1,34.3 45.1,39.5 44.3,44.0 C43.6,48.5 42.8,53.0 42.2,57.0 C41.6,61.0 40.8,65.2 40.9,68.0 C41.0,70.8 41.4,72.6 43.1,74.0 C44.7,75.4 48.8,75.6 50.9,76.5 C53.0,77.4 54.5,79.1 55.8,79.6 C57.1,80.1 57.3,80.1 58.6,79.6 C59.9,79.1 61.6,77.4 63.9,76.5 C66.1,75.6 70.2,75.4 72.1,74.0 C73.9,72.6 74.5,70.8 74.9,68.0 C75.3,65.2 74.8,61.0 74.4,57.0 C74.0,53.0 73.2,48.5 72.7,44.0 C72.2,39.5 71.7,34.3 71.3,30.0 C70.9,25.7 70.9,21.0 70.6,18.0 C70.2,15.0 72.6,13.0 69.2,12.0 C65.8,11.0 53.5,11.0 50.0,12.0Z" fill="url(#body)"/><path d="M50.0,12.0 C46.5,13.0 48.8,15.0 48.2,18.0 C47.7,21.0 47.3,25.7 46.7,30.0 C46.1,34.3 45.1,39.5 44.3,44.0 C43.6,48.5 42.8,53.0 42.2,57.0 C41.6,61.0 40.8,65.2 40.9,68.0 C41.0,70.8 41.4,72.6 43.1,74.0 C44.7,75.4 48.8,75.6 50.9,76.5 C53.0,77.4 54.5,79.1 55.8,79.6 C57.1,80.1 57.3,80.1 58.6,79.6 C59.9,79.1 61.6,77.4 63.9,76.5 C66.1,75.6 70.2,75.4 72.1,74.0 C73.9,72.6 74.5,70.8 74.9,68.0 C75.3,65.2 74.8,61.0 74.4,57.0 C74.0,53.0 73.2,48.5 72.7,44.0 C72.2,39.5 71.7,34.3 71.3,30.0 C70.9,25.7 70.9,21.0 70.6,18.0 C70.2,15.0 72.6,13.0 69.2,12.0 C65.8,11.0 53.5,11.0 50.0,12.0Z" fill="url(#edge)"/><ellipse cx="58.8" cy="36.0" rx="2" ry="3" fill="#fff" opacity=".7"/><ellipse cx="46.8" cy="55.4" rx="7.1" ry="10.9" fill="#fbeeff" opacity=".5"/><ellipse cx="46.8" cy="55.4" rx="6.5" ry="10.0" fill="url(#L1p)"/><ellipse cx="46.6" cy="50.5" rx="3.6" ry="3.6" fill="url(#L4)"/><ellipse cx="46.2" cy="58.5" rx="3.4" ry="3.4" fill="url(#L3)"/></svg>
<svg x="2004.5" y="1342.5" width="189.0" height="187.5" viewBox="0 0 100 100" preserveAspectRatio="none"><rect width="100" height="100" fill="#3b3b3b"/><path d="M70.0,0 L86.0,0 L72.0,28.6 Z" fill="#262626" opacity=".55"/><path d="M4.6,0 V100 M16.4,12.0 H89.3 V89.2 H16.4 Z M27.9,24.7 H76.6 V76.4 H27.9 Z" stroke="#1d1d1d" stroke-width="1.05" fill="none"/><path d="M54.2,16.0 C50.7,17.0 53.3,18.7 52.5,22.0 C51.6,25.3 50.0,31.2 49.1,35.6 C48.2,40.0 47.5,44.6 46.8,48.6 C46.2,52.6 45.0,56.8 45.0,59.6 C44.9,62.4 45.1,64.2 46.6,65.6 C48.1,67.0 52.1,67.2 54.2,68.1 C56.2,69.0 57.6,70.7 58.8,71.2 C60.0,71.7 60.2,71.7 61.6,71.2 C63.0,70.7 64.8,69.0 67.2,68.1 C69.5,67.2 73.6,67.0 75.6,65.6 C77.6,64.2 78.4,62.4 79.0,59.6 C79.5,56.8 79.3,52.6 79.0,48.6 C78.8,44.6 78.2,40.0 77.5,35.6 C76.8,31.2 75.5,25.3 74.9,22.0 C74.2,18.7 76.9,17.0 73.4,16.0 C70.0,15.0 57.7,15.0 54.2,16.0Z" fill="#121212" opacity=".6" filter="url(#blur)"/><path d="M56.0,67.6 Q56.0,85.3 56.0,102.0" stroke="#ededed" stroke-width="2.9" fill="none"/><path d="M47.5,62.6 L39.5,70.4" stroke="#dedede" stroke-width="4.6" stroke-linecap="round" fill="none"/><path d="M39.5,70.4 L29.8,73.3" stroke="#e9e9e9" stroke-width="3" stroke-linecap="round" fill="none"/><circle cx="29.8" cy="73.3" r="1.9" fill="#f4f4f4"/><path d="M70.5,62.6 L71.5,73.8" stroke="#dedede" stroke-width="4.6" stroke-linecap="round" fill="none"/><path d="M71.5,73.8 L75.4,80.0" stroke="#e9e9e9" stroke-width="3" stroke-linecap="round" fill="none"/><circle cx="75.4" cy="80.0" r="1.9" fill="#f4f4f4"/><ellipse cx="51.0" cy="8.0" rx="4.6" ry="5.6" fill="#bababa"/><ellipse cx="69.0" cy="8.0" rx="4.6" ry="5.6" fill="#bababa"/><ellipse cx="51.0" cy="8.0" rx="2.4" ry="3.4" fill="#8e8e8e"/><ellipse cx="69.0" cy="8.0" rx="2.4" ry="3.4" fill="#8e8e8e"/><ellipse cx="60.0" cy="10.0" rx="10.4" ry="11.4" fill="#dadada"/><path d="M50.0,15.0 C46.5,16.0 49.1,17.7 48.3,21.0 C47.4,24.3 45.8,30.2 44.9,34.6 C44.0,39.0 43.3,43.6 42.6,47.6 C42.0,51.6 40.8,55.8 40.8,58.6 C40.7,61.4 40.9,63.2 42.4,64.6 C43.9,66.0 47.9,66.2 50.0,67.1 C52.0,68.0 53.4,69.7 54.6,70.2 C55.8,70.7 56.0,70.7 57.4,70.2 C58.8,69.7 60.6,68.0 63.0,67.1 C65.3,66.2 69.4,66.0 71.4,64.6 C73.4,63.2 74.2,61.4 74.8,58.6 C75.3,55.8 75.1,51.6 74.8,47.6 C74.6,43.6 74.0,39.0 73.3,34.6 C72.6,30.2 71.3,24.3 70.7,21.0 C70.0,17.7 72.7,16.0 69.2,15.0 C65.8,14.0 53.5,14.0 50.0,15.0Z" fill="url(#body)"/><path d="M50.0,15.0 C46.5,16.0 49.1,17.7 48.3,21.0 C47.4,24.3 45.8,30.2 44.9,34.6 C44.0,39.0 43.3,43.6 42.6,47.6 C42.0,51.6 40.8,55.8 40.8,58.6 C40.7,61.4 40.9,63.2 42.4,64.6 C43.9,66.0 47.9,66.2 50.0,67.1 C52.0,68.0 53.4,69.7 54.6,70.2 C55.8,70.7 56.0,70.7 57.4,70.2 C58.8,69.7 60.6,68.0 63.0,67.1 C65.3,66.2 69.4,66.0 71.4,64.6 C73.4,63.2 74.2,61.4 74.8,58.6 C75.3,55.8 75.1,51.6 74.8,47.6 C74.6,43.6 74.0,39.0 73.3,34.6 C72.6,30.2 71.3,24.3 70.7,21.0 C70.0,17.7 72.7,16.0 69.2,15.0 C65.8,14.0 53.5,14.0 50.0,15.0Z" fill="url(#edge)"/><ellipse cx="59.3" cy="26.6" rx="2" ry="3" fill="#fff" opacity=".7"/><ellipse cx="46.0" cy="45.6" rx="6.5" ry="9.3" fill="#fbeeff" opacity=".5"/><ellipse cx="46.0" cy="45.6" rx="6.0" ry="8.5" fill="url(#L2)"/></svg>
<text x="2142" y="918" font-size="38" class="t" textLength="54" lengthAdjust="spacingAndGlyphs">5.0</text>
<text x="2142" y="1051" font-size="38" class="t" textLength="55" lengthAdjust="spacingAndGlyphs">4.0</text>
<rect x="179" y="1558.5" width="644" height="36" fill="url(#cbar)" stroke="#000" stroke-width="2"/>
<line x1="286" y1="1595" x2="286" y2="1606.5" stroke="#111" stroke-width="2"/>
<text x="287.5" y="1647.5" font-size="37" text-anchor="middle" class="t" textLength="54" lengthAdjust="spacingAndGlyphs">1.0</text>
<line x1="421" y1="1595" x2="421" y2="1606.5" stroke="#111" stroke-width="2"/>
<text x="422.5" y="1647.5" font-size="37" text-anchor="middle" class="t" textLength="54" lengthAdjust="spacingAndGlyphs">2.0</text>
<line x1="555" y1="1595" x2="555" y2="1606.5" stroke="#111" stroke-width="2"/>
<text x="556.5" y="1647.5" font-size="37" text-anchor="middle" class="t" textLength="54" lengthAdjust="spacingAndGlyphs">3.0</text>
<line x1="689" y1="1595" x2="689" y2="1606.5" stroke="#111" stroke-width="2"/>
<text x="690.5" y="1647.5" font-size="37" text-anchor="middle" class="t" textLength="54" lengthAdjust="spacingAndGlyphs">4.0</text>
<line x1="823" y1="1595" x2="823" y2="1606.5" stroke="#111" stroke-width="2"/>
<text x="824.5" y="1647.5" font-size="37" text-anchor="middle" class="t" textLength="54" lengthAdjust="spacingAndGlyphs">5.0</text>
<text x="846" y="1594" font-size="37" class="t" textLength="66.5" lengthAdjust="spacingAndGlyphs">×10</text>
<text x="913.5" y="1581" font-size="20" class="t" textLength="10" lengthAdjust="spacingAndGlyphs">9</text>
<text x="962" y="1594" font-size="37" class="t" textLength="318.7" lengthAdjust="spacingAndGlyphs">Radiance (p/s/cm</text>
<text x="1282.3" y="1581" font-size="20" class="t" textLength="9.3" lengthAdjust="spacingAndGlyphs">2</text>
<text x="1292" y="1594" font-size="37" class="t" textLength="55.5" lengthAdjust="spacingAndGlyphs">/sr)</text>
<text x="1371.5" y="1594" font-size="37" class="t" textLength="487.3" lengthAdjust="spacingAndGlyphs">Color scale: Min = 2.00×10</text>
<text x="1860.5" y="1581" font-size="20" class="t" textLength="10.3" lengthAdjust="spacingAndGlyphs">8</text>
<text x="1873.5" y="1594" font-size="37" class="t" textLength="8" lengthAdjust="spacingAndGlyphs">;</text>
<text x="1890.4" y="1594" font-size="37" class="t" textLength="272.2" lengthAdjust="spacingAndGlyphs">Max = 5.00×10</text>
<text x="2164.3" y="1581" font-size="20" class="t" textLength="10.5" lengthAdjust="spacingAndGlyphs">9</text>
<text x="28.2" y="1802.3" font-size="38" class="t" textLength="49" lengthAdjust="spacingAndGlyphs">(<tspan font-weight="bold" font-size="42">C</tspan>)</text>
<text x="133.4" y="1857" font-size="40" class="t" textLength="71.5" lengthAdjust="spacingAndGlyphs">× 10</text>
<text x="206.4" y="1844" font-size="22" class="t" textLength="12.4" lengthAdjust="spacingAndGlyphs">8</text>
<line x1="175" y1="2143.4" x2="715" y2="2143.4" stroke="#e3e3e3" stroke-width="2"/>
<line x1="175" y1="2056.3" x2="715" y2="2056.3" stroke="#e3e3e3" stroke-width="2"/>
<line x1="175" y1="1969.2" x2="715" y2="1969.2" stroke="#e3e3e3" stroke-width="2"/>
<line x1="175" y1="1882.1" x2="715" y2="1882.1" stroke="#e3e3e3" stroke-width="2"/>
<text x="152" y="2244.9" font-size="40" text-anchor="end" class="t">0</text>
<line x1="162.5" y1="2230.5" x2="175" y2="2230.5" stroke="#222" stroke-width="2"/>
<text x="152" y="2157.8" font-size="40" text-anchor="end" class="t">2</text>
<line x1="162.5" y1="2143.4" x2="175" y2="2143.4" stroke="#222" stroke-width="2"/>
<text x="152" y="2070.7000000000003" font-size="40" text-anchor="end" class="t">4</text>
<line x1="162.5" y1="2056.3" x2="175" y2="2056.3" stroke="#222" stroke-width="2"/>
<text x="152" y="1983.6000000000001" font-size="40" text-anchor="end" class="t">6</text>
<line x1="162.5" y1="1969.2" x2="175" y2="1969.2" stroke="#222" stroke-width="2"/>
<text x="152" y="1896.5" font-size="40" text-anchor="end" class="t">8</text>
<line x1="162.5" y1="1882.1" x2="175" y2="1882.1" stroke="#222" stroke-width="2"/>
<line x1="175" y1="1881.1" x2="175" y2="2231.5" stroke="#222" stroke-width="2.2"/>
<line x1="162.5" y1="2230.5" x2="715" y2="2230.5" stroke="#222" stroke-width="2.4"/>
<line x1="227" y1="2230.5" x2="227" y2="2241.5" stroke="#222" stroke-width="2"/>
<line x1="331.5" y1="2230.5" x2="331.5" y2="2241.5" stroke="#222" stroke-width="2"/>
<line x1="436" y1="2230.5" x2="436" y2="2241.5" stroke="#222" stroke-width="2"/>
<line x1="540.5" y1="2230.5" x2="540.5" y2="2241.5" stroke="#222" stroke-width="2"/>
<line x1="645.4" y1="2230.5" x2="645.4" y2="2241.5" stroke="#222" stroke-width="2"/>
<text x="58" y="2056" font-size="40" text-anchor="middle" class="t" textLength="332" lengthAdjust="spacingAndGlyphs" transform="rotate(-90 58 2056)">Average Radience</text>
<text x="106" y="2160" font-size="40" class="t" textLength="138" lengthAdjust="spacingAndGlyphs" transform="rotate(-90 106 2160)">(p/s/cm</text>
<text x="93" y="2020" font-size="19.5" class="t" textLength="8.8" lengthAdjust="spacingAndGlyphs" transform="rotate(-90 93 2020)">2</text>
<text x="106" y="2010.4" font-size="40" class="t" textLength="55.2" lengthAdjust="spacingAndGlyphs" transform="rotate(-90 106 2010.4)">/sr)</text>
<path d="M645.4,1980.5 V2061.7 M636.9,1980.5 H653.9 M636.9,2061.7 H653.9" stroke="#000" stroke-width="1.6" fill="none"/>
<path d="M645.4,2061.7 V2117 M639.4,2061.7 H651.4 M639.4,2117 H651.4" stroke="#000" stroke-width="1.6" fill="none"/>
<path d="M645.4,2117 V2168.3 M639.4,2117 H651.4 M639.4,2168.3 H651.4" stroke="#000" stroke-width="1.6" fill="none"/>
<path d="M645.4,2173.7 V2203.9 M635.9,2173.7 H654.9 M635.9,2203.9 H654.9" stroke="#000" stroke-width="1.6" fill="none"/>
<path d="M645.4,2010 V2060 M640.4,2010 H650.4 M640.4,2060 H650.4" stroke="#000" stroke-width="1.6" fill="none"/>
<path d="M540.5,2065.4 V2165.5 M532.0,2065.4 H549.0 M532.0,2165.5 H549.0" stroke="#000" stroke-width="1.6" fill="none"/>
<path d="M540.5,2082.6 V2171.6 M533.0,2082.6 H548.0 M533.0,2171.6 H548.0" stroke="#000" stroke-width="1.6" fill="none"/>
<path d="M540.5,2094.7 V2150 M533.5,2094.7 H547.5 M533.5,2150 H547.5" stroke="#000" stroke-width="1.6" fill="none"/>
<path d="M540.5,2181.7 V2209.3 M531.0,2181.7 H550.0 M531.0,2209.3 H550.0" stroke="#000" stroke-width="1.6" fill="none"/>
<path d="M436,2168.3 V2215 M427.5,2168.3 H444.5 M427.5,2215 H444.5" stroke="#000" stroke-width="1.6" fill="none"/>
<path d="M436,2175 V2205 M429.0,2175 H443.0 M429.0,2205 H443.0" stroke="#000" stroke-width="1.6" fill="none"/>
<path d="M436,2180 V2222 M430.0,2180 H442.0 M430.0,2222 H442.0" stroke="#000" stroke-width="1.6" fill="none"/>
<path d="M331.5,2203 V2228 M325.5,2203 H337.5 M325.5,2228 H337.5" stroke="#000" stroke-width="1.6" fill="none"/>
<path d="M227,2222 V2242 M223.0,2222 H231.0 M223.0,2242 H231.0" stroke="#000" stroke-width="1.6" fill="none"/>
<polyline points="227,2230.5 331.5,2227.5 436,2212.5 540.5,2120 645.4,2088.6" fill="none" stroke="#000" stroke-width="2.7"/>
<polyline points="227,2230.5 331.5,2221 436,2194 540.5,2196 645.4,2186.7" fill="none" stroke="#000" stroke-width="2.7"/>
<polyline points="227,2230.5 331.5,2209 436,2191 540.5,2148.5 645.4,2146" fill="none" stroke="#000" stroke-width="2.7"/>
<polyline points="227,2230.5 331.5,2219.5 436,2188 540.5,2113 645.4,2034.8" fill="none" stroke="#000" stroke-width="2.7"/>
<polyline points="227,2230.5 331.5,2215 436,2183.5 540.5,2110 645.4,2021.4" fill="none" stroke="#000" stroke-width="2.7"/>
<polygon points="227.0,2239.0 235.5,2224.1 218.5,2224.1" fill="#000"/>
<polygon points="331.5,2236.0 340.0,2221.1 323.0,2221.1" fill="#000"/>
<polygon points="436.0,2221.0 444.5,2206.1 427.5,2206.1" fill="#000"/>
<polygon points="540.5,2128.5 549.0,2113.6 532.0,2113.6" fill="#000"/>
<polygon points="645.4,2097.1 653.9,2082.2 636.9,2082.2" fill="#000"/>
<polygon points="227.0,2220.7 236.8,2230.5 227.0,2240.3 217.2,2230.5" fill="#000"/>
<polygon points="331.5,2211.2 341.3,2221.0 331.5,2230.8 321.7,2221.0" fill="#000"/>
<polygon points="436.0,2184.2 445.8,2194.0 436.0,2203.8 426.2,2194.0" fill="#000"/>
<polygon points="540.5,2186.2 550.3,2196.0 540.5,2205.8 530.7,2196.0" fill="#000"/>
<polygon points="645.4,2176.9 655.2,2186.7 645.4,2196.5 635.6,2186.7" fill="#000"/>
<circle cx="227.0" cy="2230.5" r="8.0" fill="#000"/>
<circle cx="331.5" cy="2209.0" r="8.0" fill="#000"/>
<circle cx="436.0" cy="2191.0" r="8.0" fill="#000"/>
<circle cx="540.5" cy="2148.5" r="8.0" fill="#000"/>
<circle cx="645.4" cy="2146.0" r="8.0" fill="#000"/>
<polygon points="227.0,2222.0 235.5,2236.9 218.5,2236.9" fill="#000"/>
<polygon points="331.5,2211.0 340.0,2225.9 323.0,2225.9" fill="#000"/>
<polygon points="436.0,2179.5 444.5,2194.4 427.5,2194.4" fill="#000"/>
<polygon points="540.5,2104.5 549.0,2119.4 532.0,2119.4" fill="#000"/>
<polygon points="645.4,2026.3 653.9,2041.2 636.9,2041.2" fill="#000"/>
<rect x="220.5" y="2224.0" width="13.0" height="13.0" fill="#000"/>
<rect x="325.0" y="2208.5" width="13.0" height="13.0" fill="#000"/>
<rect x="429.5" y="2177.0" width="13.0" height="13.0" fill="#000"/>
<rect x="534.0" y="2103.5" width="13.0" height="13.0" fill="#000"/>
<rect x="638.9" y="2014.9" width="13.0" height="13.0" fill="#000"/>
<text x="666" y="2164" font-size="34" text-anchor="middle" class="t">*</text>
<text x="660" y="2203" font-size="34" class="t" textLength="54" lengthAdjust="spacingAndGlyphs">****</text>
<line x1="29.2" y1="2308.5" x2="61.7" y2="2308.5" stroke="#000" stroke-width="2.5"/>
<rect x="40.4" y="2303.4" width="10.1" height="10.1" fill="#000"/>
<text x="79.7" y="2317.5" font-size="29" class="t" textLength="97" lengthAdjust="spacingAndGlyphs">Control</text>
<line x1="235" y1="2308.5" x2="269.4" y2="2308.5" stroke="#000" stroke-width="2.5"/>
<polygon points="252.2,2301.9 258.8,2313.5 245.6,2313.5" fill="#000"/>
<text x="286.2" y="2317.5" font-size="29" class="t" textLength="171" lengthAdjust="spacingAndGlyphs">rhAPE1/Ref-1</text>
<line x1="513.3" y1="2308.5" x2="548" y2="2308.5" stroke="#000" stroke-width="2.5"/>
<polygon points="530.6,2315.1 537.3,2303.5 524.0,2303.5" fill="#000"/>
<text x="566.8" y="2317.5" font-size="29" class="t" textLength="56.2" lengthAdjust="spacingAndGlyphs">ASA</text>
<line x1="29.2" y1="2349.3" x2="61.7" y2="2349.3" stroke="#000" stroke-width="2.5"/>
<polygon points="45.5,2341.7 53.1,2349.3 45.5,2356.9 37.8,2349.3" fill="#000"/>
<text x="80.4" y="2358" font-size="29" class="t" textLength="260.8" lengthAdjust="spacingAndGlyphs">ASA + rhAPE1/Ref-1</text>
<line x1="379.7" y1="2349.3" x2="414.5" y2="2349.3" stroke="#000" stroke-width="2.5"/>
<circle cx="397.1" cy="2349.3" r="6.2" fill="#000"/>
<text x="431" y="2358" font-size="29" class="t" textLength="52.7" lengthAdjust="spacingAndGlyphs">PTX</text>
<text x="835.7" y="1802.3" font-size="38" class="t" textLength="49" lengthAdjust="spacingAndGlyphs">(<tspan font-weight="bold" font-size="42">D</tspan>)</text>
<text x="1127.5" y="1854.5" font-size="33" text-anchor="middle" class="t" textLength="26" lengthAdjust="spacingAndGlyphs">**</text>
<line x1="917.5" y1="2161.2" x2="1435" y2="2161.2" stroke="#e3e3e3" stroke-width="2"/>
<line x1="917.5" y1="2091.9" x2="1435" y2="2091.9" stroke="#e3e3e3" stroke-width="2"/>
<line x1="917.5" y1="2022.6" x2="1435" y2="2022.6" stroke="#e3e3e3" stroke-width="2"/>
<line x1="917.5" y1="1953.3" x2="1435" y2="1953.3" stroke="#e3e3e3" stroke-width="2"/>
<line x1="917.5" y1="1884.0" x2="1435" y2="1884.0" stroke="#e3e3e3" stroke-width="2"/>
<text x="894.5" y="2245.5" font-size="41" text-anchor="end" class="t" textLength="55.5" lengthAdjust="spacingAndGlyphs">0.0</text>
<line x1="906" y1="2230.5" x2="917.5" y2="2230.5" stroke="#222" stroke-width="2"/>
<text x="894.5" y="2176.2" font-size="41" text-anchor="end" class="t" textLength="55.5" lengthAdjust="spacingAndGlyphs">0.5</text>
<line x1="906" y1="2161.2" x2="917.5" y2="2161.2" stroke="#222" stroke-width="2"/>
<text x="894.5" y="2106.9" font-size="41" text-anchor="end" class="t" textLength="55.5" lengthAdjust="spacingAndGlyphs">1.0</text>
<line x1="906" y1="2091.9" x2="917.5" y2="2091.9" stroke="#222" stroke-width="2"/>
<text x="894.5" y="2037.6" font-size="41" text-anchor="end" class="t" textLength="55.5" lengthAdjust="spacingAndGlyphs">1.5</text>
<line x1="906" y1="2022.6" x2="917.5" y2="2022.6" stroke="#222" stroke-width="2"/>
<text x="894.5" y="1968.3" font-size="41" text-anchor="end" class="t" textLength="55.5" lengthAdjust="spacingAndGlyphs">2.0</text>
<line x1="906" y1="1953.3" x2="917.5" y2="1953.3" stroke="#222" stroke-width="2"/>
<text x="894.5" y="1899.0" font-size="41" text-anchor="end" class="t" textLength="55.5" lengthAdjust="spacingAndGlyphs">2.5</text>
<line x1="906" y1="1884.0" x2="917.5" y2="1884.0" stroke="#222" stroke-width="2"/>
<rect x="951.3" y="2082.5" width="61.4" height="148.0" fill="#b1beea"/>
<rect x="1048.3" y="2076.2" width="61.4" height="154.30000000000018" fill="#b1beea"/>
<rect x="1145.3" y="2130.7" width="61.4" height="99.80000000000018" fill="#b1beea"/>
<rect x="1242.3" y="2185.7" width="61.4" height="44.80000000000018" fill="#b1beea"/>
<rect x="1339.3" y="2109.5" width="61.4" height="121.0" fill="#b1beea"/>
<line x1="917.5" y1="1883.0" x2="917.5" y2="2231.5" stroke="#222" stroke-width="2.2"/>
<line x1="906" y1="2230.5" x2="1435" y2="2230.5" stroke="#222" stroke-width="2.4"/>
<path d="M981.5,1885 V1874 H1273 V1885" stroke="#222" stroke-width="2" fill="none"/>
<path d="M982,2061.7 V2102.5 M970.5,2061.7 H993.5 M970.5,2102.5 H993.5" stroke="#16163f" stroke-width="2" fill="none"/>
<path d="M1078.8,2036.2 V2116.2 M1067.3,2036.2 H1090.3 M1067.3,2116.2 H1090.3" stroke="#16163f" stroke-width="2" fill="none"/>
<path d="M1175.8,2091.7 V2168.2 M1164.3,2091.7 H1187.3 M1164.3,2168.2 H1187.3" stroke="#16163f" stroke-width="2" fill="none"/>
<path d="M1272.5,2174.2 V2197.5 M1261.0,2174.2 H1284.0 M1261.0,2197.5 H1284.0" stroke="#16163f" stroke-width="2" fill="none"/>
<path d="M1370,2071.2 V2145 M1358.5,2071.2 H1381.5 M1358.5,2145 H1381.5" stroke="#16163f" stroke-width="2" fill="none"/>
<circle cx="969.5" cy="2028.7" r="6.4" fill="#1b1b6f"/>
<circle cx="994.5" cy="2033" r="6.4" fill="#1b1b6f"/>
<circle cx="956.5" cy="2079.3" r="6.4" fill="#1b1b6f"/>
<circle cx="982" cy="2092" r="6.4" fill="#1b1b6f"/>
<circle cx="1007.5" cy="2092.5" r="6.4" fill="#1b1b6f"/>
<circle cx="982" cy="2166.7" r="6.4" fill="#1b1b6f"/>
<circle cx="1078.8" cy="1910" r="6.4" fill="#1b1b6f"/>
<circle cx="1079" cy="2010.8" r="6.4" fill="#1b1b6f"/>
<circle cx="1079" cy="2108.3" r="6.4" fill="#1b1b6f"/>
<circle cx="1065" cy="2125" r="6.4" fill="#1b1b6f"/>
<circle cx="1093.3" cy="2126.3" r="6.4" fill="#1b1b6f"/>
<circle cx="1175.8" cy="2005" r="6.4" fill="#1b1b6f"/>
<circle cx="1175.8" cy="2088.3" r="6.4" fill="#1b1b6f"/>
<circle cx="1175.8" cy="2152" r="6.4" fill="#1b1b6f"/>
<circle cx="1175.8" cy="2188.7" r="6.4" fill="#1b1b6f"/>
<circle cx="1175.8" cy="2215.7" r="6.4" fill="#1b1b6f"/>
<circle cx="1273" cy="2135.3" r="6.4" fill="#1b1b6f"/>
<circle cx="1273" cy="2169.6" r="6.4" fill="#1b1b6f"/>
<circle cx="1246.3" cy="2194" r="6.4" fill="#1b1b6f"/>
<circle cx="1246.3" cy="2209.6" r="6.4" fill="#1b1b6f"/>
<circle cx="1273" cy="2203" r="6.4" fill="#1b1b6f"/>
<circle cx="1298" cy="2203.7" r="6.4" fill="#1b1b6f"/>
<circle cx="1370" cy="1995.5" r="6.4" fill="#1b1b6f"/>
<circle cx="1370" cy="2078" r="6.4" fill="#1b1b6f"/>
<circle cx="1370" cy="2102.5" r="6.4" fill="#1b1b6f"/>
<circle cx="1370" cy="2148.7" r="6.4" fill="#1b1b6f"/>
<circle cx="1370" cy="2215" r="6.4" fill="#1b1b6f"/>
<text x="815.5" y="2055.5" font-size="40" text-anchor="middle" class="t" textLength="308" lengthAdjust="spacingAndGlyphs" transform="rotate(-90 815.5 2055.5)">Tumor Weight (g)</text>
<text x="996" y="2253.5" font-size="40" text-anchor="end" class="t" textLength="129.5" lengthAdjust="spacingAndGlyphs" transform="rotate(-90 996 2253.5)">Control</text>
<text x="1093" y="2253.5" font-size="40" text-anchor="end" class="t" textLength="226" lengthAdjust="spacingAndGlyphs" transform="rotate(-90 1093 2253.5)">rhAPE1/Ref-1</text>
<text x="1190" y="2253.5" font-size="40" text-anchor="end" class="t" textLength="75" lengthAdjust="spacingAndGlyphs" transform="rotate(-90 1190 2253.5)">ASA</text>
<text x="1287" y="2253.5" font-size="40" text-anchor="end" class="t" textLength="352.5" lengthAdjust="spacingAndGlyphs" transform="rotate(-90 1287 2253.5)">ASA + rhAPE1/Ref-1</text>
<text x="1384" y="2253.5" font-size="40" text-anchor="end" class="t" textLength="71.5" lengthAdjust="spacingAndGlyphs" transform="rotate(-90 1384 2253.5)">PTX</text>
<text x="1496.3" y="1802.3" font-size="38" class="t" textLength="47" lengthAdjust="spacingAndGlyphs">(<tspan font-weight="bold" font-size="42">E</tspan>)</text>
<line x1="1623" y1="2114.3" x2="2140" y2="2114.3" stroke="#e3e3e3" stroke-width="2"/>
<line x1="1623" y1="1998.8000000000002" x2="2140" y2="1998.8000000000002" stroke="#e3e3e3" stroke-width="2"/>
<line x1="1623" y1="1883.3000000000002" x2="2140" y2="1883.3000000000002" stroke="#e3e3e3" stroke-width="2"/>
<text x="1598" y="2244.8" font-size="41" text-anchor="end" class="t" textLength="22.3" lengthAdjust="spacingAndGlyphs">0</text>
<line x1="1611.5" y1="2229.8" x2="1623" y2="2229.8" stroke="#222" stroke-width="2"/>
<text x="1598" y="2129.3" font-size="41" text-anchor="end" class="t" textLength="45.4" lengthAdjust="spacingAndGlyphs">10</text>
<line x1="1611.5" y1="2114.3" x2="1623" y2="2114.3" stroke="#222" stroke-width="2"/>
<text x="1598" y="2013.8000000000002" font-size="41" text-anchor="end" class="t" textLength="45.4" lengthAdjust="spacingAndGlyphs">20</text>
<line x1="1611.5" y1="1998.8000000000002" x2="1623" y2="1998.8000000000002" stroke="#222" stroke-width="2"/>
<text x="1598" y="1898.3000000000002" font-size="41" text-anchor="end" class="t" textLength="45.4" lengthAdjust="spacingAndGlyphs">30</text>
<line x1="1611.5" y1="1883.3000000000002" x2="1623" y2="1883.3000000000002" stroke="#222" stroke-width="2"/>
<rect x="1656.4" y="1962.4" width="61.2" height="267.4000000000001" fill="#b1beea"/>
<rect x="1753.4" y="1974.3" width="61.2" height="255.50000000000023" fill="#b1beea"/>
<rect x="1850.4" y="1966" width="61.2" height="263.8000000000002" fill="#b1beea"/>
<rect x="1947.4" y="1973.9" width="61.2" height="255.9000000000001" fill="#b1beea"/>
<rect x="2044.4" y="1969.6" width="61.2" height="260.2000000000003" fill="#b1beea"/>
<line x1="1623" y1="1882.3000000000002" x2="1623" y2="2230.8" stroke="#222" stroke-width="2.2"/>
<line x1="1611.5" y1="2229.8" x2="2140" y2="2229.8" stroke="#222" stroke-width="2.4"/>
<path d="M1687,1955.2 V1968.5 M1675.5,1955.2 H1698.5 M1675.5,1968.5 H1698.5" stroke="#16163f" stroke-width="2" fill="none"/>
<path d="M1788,1969.6 V1976 M1780.0,1969.6 H1796.0 M1780.0,1976 H1796.0" stroke="#16163f" stroke-width="2" fill="none"/>
<path d="M1881.7,1959.5 V1970.3 M1870.2,1959.5 H1893.2 M1870.2,1970.3 H1893.2" stroke="#16163f" stroke-width="2" fill="none"/>
<path d="M1977.8,1964.2 V1984 M1966.3,1964.2 H1989.3 M1966.3,1984 H1989.3" stroke="#16163f" stroke-width="2" fill="none"/>
<path d="M2072.4,1967.8 V1972 M2064.4,1967.8 H2080.4 M2064.4,1972 H2080.4" stroke="#16163f" stroke-width="2" fill="none"/>
<circle cx="1686.9" cy="1936.1" r="6.4" fill="#1b1b6f"/>
<circle cx="1661.7" cy="1955.9" r="6.4" fill="#1b1b6f"/>
<circle cx="1712.5" cy="1957.7" r="6.4" fill="#1b1b6f"/>
<circle cx="1686.9" cy="1966.7" r="6.4" fill="#1b1b6f"/>
<circle cx="1661.7" cy="1978.6" r="6.4" fill="#1b1b6f"/>
<circle cx="1712.5" cy="1979.3" r="6.4" fill="#1b1b6f"/>
<circle cx="1758.9" cy="1963.5" r="6.4" fill="#1b1b6f"/>
<circle cx="1792.4" cy="1962.4" r="6.4" fill="#1b1b6f"/>
<circle cx="1775.1" cy="1970.7" r="6.4" fill="#1b1b6f"/>
<circle cx="1758.2" cy="1984.7" r="6.4" fill="#1b1b6f"/>
<circle cx="1792.4" cy="1982.2" r="6.4" fill="#1b1b6f"/>
<circle cx="1810.4" cy="1982.9" r="6.4" fill="#1b1b6f"/>
<circle cx="1869.1" cy="1949.8" r="6.4" fill="#1b1b6f"/>
<circle cx="1895.3" cy="1955.9" r="6.4" fill="#1b1b6f"/>
<circle cx="1882.4" cy="1971.4" r="6.4" fill="#1b1b6f"/>
<circle cx="1854.7" cy="1978.6" r="6.4" fill="#1b1b6f"/>
<circle cx="1906.9" cy="1977.5" r="6.4" fill="#1b1b6f"/>
<circle cx="1977.8" cy="1933.6" r="6.4" fill="#1b1b6f"/>
<circle cx="1977.8" cy="1955.9" r="6.4" fill="#1b1b6f"/>
<circle cx="1968.8" cy="1984.7" r="6.4" fill="#1b1b6f"/>
<circle cx="2003" cy="1985.1" r="6.4" fill="#1b1b6f"/>
<circle cx="1951.9" cy="1995.9" r="6.4" fill="#1b1b6f"/>
<circle cx="1985.7" cy="1994.1" r="6.4" fill="#1b1b6f"/>
<circle cx="2049.8" cy="1965.3" r="6.4" fill="#1b1b6f"/>
<circle cx="2068.8" cy="1964.9" r="6.4" fill="#1b1b6f"/>
<circle cx="2102" cy="1967.8" r="6.4" fill="#1b1b6f"/>
<circle cx="2084.7" cy="1975" r="6.4" fill="#1b1b6f"/>
<circle cx="2051.6" cy="1980.4" r="6.4" fill="#1b1b6f"/>
<text x="1526" y="2055.6" font-size="40" text-anchor="middle" class="t" textLength="281" lengthAdjust="spacingAndGlyphs" transform="rotate(-90 1526 2055.6)">Body Weight (g)</text>
<text x="1702" y="2254" font-size="40" text-anchor="end" class="t" textLength="129.5" lengthAdjust="spacingAndGlyphs" transform="rotate(-90 1702 2254)">Control</text>
<text x="1799" y="2254" font-size="40" text-anchor="end" class="t" textLength="226" lengthAdjust="spacingAndGlyphs" transform="rotate(-90 1799 2254)">rhAPE1/Ref-1</text>
<text x="1896" y="2254" font-size="40" text-anchor="end" class="t" textLength="75" lengthAdjust="spacingAndGlyphs" transform="rotate(-90 1896 2254)">ASA</text>
<text x="1993" y="2254" font-size="40" text-anchor="end" class="t" textLength="352.5" lengthAdjust="spacingAndGlyphs" transform="rotate(-90 1993 2254)">ASA + rhAPE1/Ref-1</text>
<text x="2090" y="2254" font-size="40" text-anchor="end" class="t" textLength="71.5" lengthAdjust="spacingAndGlyphs" transform="rotate(-90 2090 2254)">PTX</text>
</g></svg></body></html>
